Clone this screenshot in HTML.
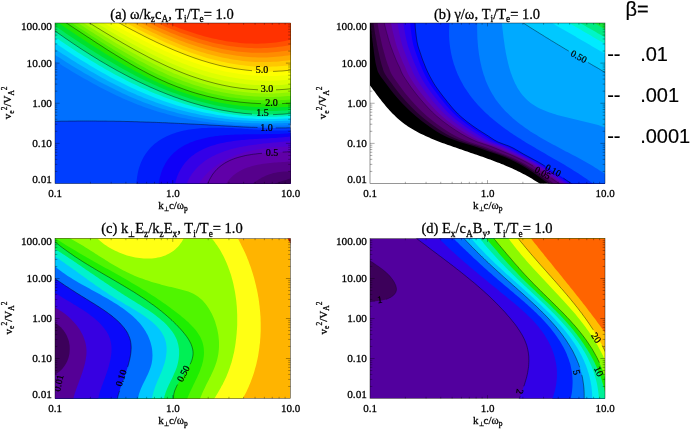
<!DOCTYPE html><html><head><meta charset="utf-8"><title>figure</title><style>html,body{margin:0;padding:0;background:#fff;overflow:hidden}svg{display:block}</style></head><body><svg width="690" height="430" viewBox="0 0 690 430" font-family="Liberation Serif, serif"><defs><clipPath id="ca"><rect x="55" y="23" width="235.5" height="160.5"/></clipPath><clipPath id="cb"><rect x="370" y="23" width="235" height="160.5"/></clipPath><clipPath id="cc"><rect x="55" y="238.5" width="235.5" height="160.0"/></clipPath><clipPath id="cd"><rect x="370" y="238.5" width="235" height="160.0"/></clipPath></defs><g clip-path="url(#ca)"><rect x="55" y="23" width="235.5" height="160.5" fill="#0070ff"/><path d="M45.0,121.6 L47.0,121.6 L49.0,121.5 L51.1,121.5 L53.1,121.4 L55.1,121.4 L57.2,121.3 L59.2,121.3 L61.2,121.2 L63.2,121.2 L65.3,121.2 L67.3,121.2 L69.3,121.1 L71.3,121.1 L73.4,121.1 L75.4,121.1 L77.4,121.0 L79.4,121.0 L81.5,121.0 L83.5,121.0 L85.5,121.0 L87.5,121.0 L89.6,121.0 L91.6,121.0 L93.6,121.0 L95.6,121.0 L97.7,121.1 L99.7,121.1 L101.7,121.1 L103.7,121.1 L105.8,121.1 L107.8,121.2 L109.8,121.2 L111.8,121.2 L113.9,121.2 L115.9,121.3 L117.9,121.3 L119.9,121.3 L122.0,121.4 L124.0,121.4 L126.0,121.5 L128.0,121.5 L130.1,121.6 L132.1,121.6 L134.1,121.7 L136.1,121.7 L138.2,121.8 L140.2,121.9 L142.2,121.9 L144.2,122.0 L146.3,122.1 L148.3,122.1 L150.3,122.2 L152.3,122.3 L154.4,122.3 L156.4,122.4 L158.4,122.5 L160.4,122.6 L162.4,122.7 L164.5,122.7 L166.5,122.8 L168.5,122.9 L170.5,123.0 L172.6,123.1 L174.6,123.2 L176.6,123.3 L178.6,123.4 L180.7,123.5 L182.7,123.6 L184.7,123.7 L186.7,123.8 L188.7,123.9 L190.8,124.0 L192.8,124.1 L194.8,124.2 L196.8,124.3 L198.9,124.4 L200.9,124.5 L202.9,124.6 L204.9,124.7 L206.9,124.8 L209.0,125.0 L211.0,125.1 L213.0,125.2 L215.0,125.3 L217.1,125.4 L219.1,125.5 L221.1,125.7 L223.1,125.8 L225.1,125.9 L227.2,126.0 L229.2,126.1 L231.2,126.2 L233.2,126.4 L235.2,126.5 L237.3,126.6 L239.3,126.7 L241.3,126.8 L243.3,126.9 L245.3,127.0 L247.4,127.1 L249.4,127.2 L251.4,127.3 L253.4,127.3 L255.5,127.4 L257.5,127.5 L259.5,127.6 L261.5,127.6 L263.5,127.7 L265.6,127.7 L267.6,127.8 L269.6,127.8 L271.6,127.8 L273.7,127.9 L275.7,127.9 L277.7,127.9 L279.7,127.9 L281.8,127.9 L283.8,127.9 L285.8,127.9 L287.8,127.8 L289.9,127.8 L291.9,127.7 L293.9,127.7 L295.9,127.6 L298.0,127.5 L300.0,127.4 L300.0,200.0 L45.0,200.0Z" fill="#003eff"/><path d="M136.2,195.0 L136.3,184.4 L136.5,181.8 L136.8,179.4 L137.1,177.0 L137.5,174.7 L137.9,172.4 L138.4,170.2 L139.0,168.1 L139.7,166.0 L140.4,164.1 L141.2,162.1 L142.0,160.3 L142.9,158.5 L143.8,156.8 L144.9,155.1 L145.9,153.5 L147.0,151.9 L148.2,150.4 L149.4,149.0 L150.7,147.6 L152.0,146.3 L153.3,145.1 L154.7,143.8 L156.2,142.7 L157.7,141.6 L159.2,140.5 L160.8,139.5 L162.4,138.6 L164.0,137.7 L165.7,136.8 L167.4,136.0 L169.1,135.2 L170.9,134.5 L172.7,133.8 L174.5,133.2 L176.3,132.6 L178.2,132.0 L180.1,131.5 L182.0,131.0 L184.0,130.6 L185.9,130.2 L187.9,129.8 L189.9,129.5 L191.9,129.2 L194.0,128.9 L196.0,128.7 L198.1,128.5 L200.2,128.3 L202.3,128.1 L204.4,128.0 L206.5,127.9 L208.6,127.8 L210.7,127.8 L212.9,127.7 L215.0,127.7 L217.1,127.7 L219.3,127.7 L221.5,127.8 L223.6,127.8 L225.8,127.9 L227.9,127.9 L230.1,128.0 L232.3,128.1 L234.4,128.2 L236.6,128.4 L238.7,128.5 L240.9,128.6 L243.0,128.7 L245.2,128.9 L247.3,129.0 L249.4,129.2 L251.5,129.3 L253.6,129.4 L255.7,129.6 L257.8,129.7 L259.8,129.8 L261.9,129.9 L263.9,130.1 L265.9,130.2 L267.9,130.3 L269.9,130.3 L271.8,130.4 L273.7,130.5 L275.6,130.5 L277.5,130.5 L279.4,130.5 L281.2,130.5 L283.0,130.5 L284.8,130.5 L286.6,130.4 L288.3,130.3 L290.0,130.2 L300.0,130.0 L300.0,195.0Z" fill="#001cfc"/><path d="M158.3,195.0 L158.6,184.0 L159.0,181.6 L159.4,179.2 L160.0,176.9 L160.6,174.7 L161.3,172.6 L162.0,170.6 L162.8,168.6 L163.7,166.7 L164.6,164.9 L165.6,163.1 L166.6,161.4 L167.7,159.8 L168.9,158.2 L170.1,156.7 L171.4,155.3 L172.7,153.9 L174.1,152.6 L175.5,151.4 L176.9,150.2 L178.4,149.1 L180.0,148.0 L181.6,147.0 L183.2,146.0 L184.9,145.1 L186.6,144.2 L188.4,143.4 L190.1,142.6 L192.0,141.9 L193.8,141.2 L195.7,140.5 L197.6,139.9 L199.5,139.4 L201.5,138.9 L203.5,138.4 L205.5,137.9 L207.5,137.5 L209.6,137.1 L211.7,136.8 L213.7,136.4 L215.9,136.1 L218.0,135.9 L220.1,135.6 L222.3,135.4 L224.4,135.2 L226.6,135.1 L228.8,134.9 L230.9,134.8 L233.1,134.7 L235.3,134.6 L237.5,134.5 L239.7,134.4 L241.9,134.4 L244.1,134.3 L246.2,134.3 L248.4,134.2 L250.6,134.2 L252.8,134.2 L254.9,134.2 L257.0,134.2 L259.2,134.2 L261.3,134.2 L263.4,134.2 L265.5,134.1 L267.5,134.1 L269.6,134.1 L271.6,134.1 L273.6,134.0 L275.5,134.0 L277.5,133.9 L279.4,133.9 L281.3,133.8 L283.1,133.7 L285.0,133.5 L286.8,133.4 L288.5,133.3 L290.2,133.1 L300.0,133.0 L300.0,195.0Z" fill="#0f00f8"/><path d="M174.6,195.0 L175.1,183.7 L175.6,181.4 L176.3,179.2 L177.0,177.1 L177.8,175.1 L178.6,173.1 L179.6,171.2 L180.5,169.4 L181.6,167.7 L182.7,166.0 L183.8,164.4 L185.1,162.8 L186.3,161.4 L187.7,160.0 L189.0,158.6 L190.5,157.3 L191.9,156.1 L193.5,155.0 L195.0,153.8 L196.6,152.8 L198.3,151.8 L200.0,150.8 L201.7,149.9 L203.5,149.1 L205.3,148.3 L207.1,147.5 L209.0,146.8 L210.8,146.1 L212.8,145.5 L214.7,144.9 L216.7,144.3 L218.7,143.8 L220.7,143.3 L222.7,142.9 L224.8,142.5 L226.9,142.1 L229.0,141.7 L231.1,141.4 L233.2,141.1 L235.3,140.8 L237.4,140.5 L239.6,140.3 L241.7,140.1 L243.9,139.9 L246.0,139.7 L248.2,139.5 L250.3,139.3 L252.5,139.2 L254.6,139.1 L256.7,138.9 L258.9,138.8 L261.0,138.7 L263.1,138.6 L265.2,138.5 L267.2,138.4 L269.3,138.2 L271.3,138.1 L273.4,138.0 L275.4,137.9 L277.3,137.8 L279.3,137.6 L281.2,137.5 L283.1,137.3 L285.0,137.1 L286.8,137.0 L288.6,136.8 L290.4,136.5 L300.0,136.5 L300.0,195.0Z" fill="#3400e8"/><path d="M186.2,195.0 L186.8,183.3 L187.7,181.4 L188.6,179.5 L189.6,177.6 L190.7,175.9 L191.8,174.1 L193.0,172.5 L194.2,170.9 L195.5,169.4 L196.8,167.9 L198.2,166.5 L199.6,165.2 L201.1,163.9 L202.6,162.7 L204.2,161.5 L205.8,160.3 L207.5,159.2 L209.1,158.2 L210.9,157.2 L212.6,156.3 L214.4,155.4 L216.3,154.5 L218.1,153.7 L220.0,152.9 L221.9,152.2 L223.8,151.5 L225.8,150.8 L227.8,150.2 L229.8,149.6 L231.8,149.0 L233.8,148.5 L235.9,148.0 L237.9,147.6 L240.0,147.1 L242.1,146.7 L244.2,146.3 L246.3,145.9 L248.4,145.6 L250.5,145.3 L252.6,144.9 L254.7,144.7 L256.8,144.4 L258.9,144.1 L261.0,143.9 L263.0,143.6 L265.1,143.4 L267.2,143.2 L269.2,143.0 L271.3,142.8 L273.3,142.6 L275.3,142.4 L277.3,142.3 L279.2,142.1 L281.2,141.9 L283.1,141.7 L285.0,141.5 L286.8,141.4 L288.6,141.2 L290.4,141.0 L300.0,141.0 L300.0,195.0Z" fill="#4e00d4"/><path d="M197.8,195.0 L198.8,183.6 L200.0,181.8 L201.3,180.1 L202.5,178.4 L203.9,176.8 L205.3,175.3 L206.7,173.8 L208.1,172.3 L209.6,170.9 L211.2,169.6 L212.7,168.3 L214.3,167.0 L216.0,165.8 L217.6,164.7 L219.3,163.5 L221.0,162.4 L222.8,161.4 L224.6,160.4 L226.4,159.5 L228.2,158.6 L230.1,157.7 L232.0,156.9 L233.9,156.1 L235.8,155.3 L237.7,154.6 L239.7,153.9 L241.6,153.3 L243.6,152.6 L245.6,152.1 L247.6,151.5 L249.7,151.0 L251.7,150.5 L253.7,150.1 L255.8,149.7 L257.8,149.3 L259.9,148.9 L261.9,148.6 L264.0,148.3 L266.1,148.0 L268.1,147.8 L270.2,147.5 L272.3,147.3 L274.3,147.2 L276.4,147.0 L278.4,146.9 L280.5,146.8 L282.5,146.7 L284.5,146.6 L286.5,146.6 L288.5,146.5 L290.5,146.5 L300.0,146.5 L300.0,195.0Z" fill="#5c00c0"/><path d="M206.9,195.0 L207.8,183.6 L208.7,181.5 L209.6,179.5 L210.7,177.6 L211.8,175.7 L212.9,174.0 L214.2,172.4 L215.5,170.8 L216.8,169.4 L218.3,168.0 L219.8,166.7 L221.3,165.5 L222.9,164.4 L224.5,163.3 L226.2,162.3 L228.0,161.4 L229.7,160.5 L231.6,159.7 L233.4,159.0 L235.3,158.3 L237.2,157.7 L239.2,157.1 L241.2,156.6 L243.2,156.1 L245.2,155.6 L247.3,155.2 L249.3,154.9 L251.4,154.5 L253.5,154.2 L255.6,154.0 L257.7,153.7 L259.8,153.5 L262.0,153.3 L264.1,153.2 L266.2,153.0 L268.3,152.9 L270.4,152.8 L272.5,152.6 L274.6,152.5 L276.6,152.4 L278.7,152.3 L280.7,152.2 L282.7,152.1 L284.6,152.0 L286.6,151.9 L288.5,151.7 L290.4,151.6 L300.0,151.6 L300.0,195.0Z" fill="#6000a8"/><path d="M225.3,195.0 L226.3,183.5 L227.5,181.7 L228.8,180.0 L230.2,178.4 L231.7,176.9 L233.2,175.5 L234.8,174.2 L236.5,173.0 L238.2,171.9 L239.9,170.9 L241.7,169.9 L243.6,169.1 L245.5,168.3 L247.4,167.5 L249.4,166.9 L251.4,166.3 L253.4,165.7 L255.5,165.2 L257.6,164.8 L259.7,164.4 L261.8,164.0 L263.9,163.7 L266.0,163.4 L268.1,163.2 L270.2,163.0 L272.4,162.8 L274.5,162.6 L276.6,162.5 L278.6,162.3 L280.7,162.2 L282.7,162.0 L284.7,161.9 L286.7,161.8 L288.6,161.6 L290.5,161.5 L300.0,161.5 L300.0,195.0Z" fill="#56008c"/><path d="M252.0,195.0 L253.0,183.5 L254.7,182.2 L256.5,180.9 L258.3,179.8 L260.1,178.7 L261.9,177.6 L263.8,176.7 L265.7,175.8 L267.6,175.0 L269.6,174.3 L271.5,173.7 L273.5,173.1 L275.6,172.7 L277.6,172.2 L279.7,171.9 L281.8,171.7 L283.9,171.5 L286.1,171.4 L288.3,171.4 L290.5,171.4 L300.0,171.4 L300.0,195.0Z" fill="#480070"/><path d="M274.0,195.0 L275.0,183.5 L277.2,182.8 L279.4,182.0 L281.6,181.3 L283.9,180.6 L286.1,179.9 L288.3,179.1 L290.5,178.4 L300.0,178.4 L300.0,195.0Z" fill="#370055"/><path d="M45.0,54.5 L48.0,56.4 L51.0,58.4 L54.0,60.3 L57.0,62.2 L60.0,64.1 L63.0,65.9 L66.0,67.8 L69.0,69.6 L72.0,71.4 L75.0,73.2 L78.0,75.0 L81.0,76.7 L84.0,78.4 L87.0,80.1 L90.0,81.8 L93.0,83.5 L96.0,85.1 L99.0,86.7 L102.0,88.2 L105.0,89.8 L108.0,91.3 L111.0,92.8 L114.0,94.2 L117.0,95.7 L120.0,97.0 L123.0,98.4 L126.0,99.7 L129.0,101.0 L132.0,102.3 L135.0,103.5 L138.0,104.7 L141.0,105.8 L144.0,106.9 L147.0,108.0 L150.0,109.0 L153.0,110.0 L156.0,111.0 L159.0,111.9 L162.0,112.8 L165.0,113.6 L168.0,114.5 L171.0,115.2 L174.0,116.0 L177.0,116.7 L180.0,117.4 L183.0,118.0 L186.0,118.6 L189.0,119.2 L192.0,119.8 L195.0,120.3 L198.0,120.8 L201.0,121.2 L204.0,121.7 L207.0,122.1 L210.0,122.5 L213.0,122.8 L216.0,123.2 L219.0,123.5 L222.0,123.8 L225.0,124.0 L228.0,124.3 L231.0,124.5 L234.0,124.7 L237.0,124.9 L240.0,125.0 L243.0,125.2 L246.0,125.3 L249.0,125.4 L252.0,125.5 L255.0,125.5 L258.0,125.6 L261.0,125.6 L264.0,125.6 L267.0,125.6 L270.0,125.6 L273.0,125.6 L276.0,125.5 L279.0,125.5 L282.0,125.4 L285.0,125.4 L288.0,125.3 L291.0,125.2 L294.0,125.1 L297.0,125.0 L300.0,124.8 L300.0,-60.0 L45.0,-60.0Z" fill="#0087ff"/><path d="M45.0,48.3 L48.0,50.3 L51.0,52.3 L54.0,54.3 L57.0,56.2 L60.0,58.1 L63.0,60.1 L66.0,62.0 L69.0,63.8 L72.0,65.7 L75.0,67.5 L78.0,69.3 L81.0,71.1 L84.0,72.9 L87.0,74.6 L90.0,76.3 L93.0,78.0 L96.0,79.7 L99.0,81.4 L102.0,83.0 L105.0,84.6 L108.0,86.1 L111.0,87.6 L114.0,89.1 L117.0,90.6 L120.0,92.1 L123.0,93.5 L126.0,94.8 L129.0,96.2 L132.0,97.5 L135.0,98.8 L138.0,100.0 L141.0,101.2 L144.0,102.4 L147.0,103.5 L150.0,104.6 L153.0,105.7 L156.0,106.7 L159.0,107.7 L162.0,108.7 L165.0,109.6 L168.0,110.5 L171.0,111.3 L174.0,112.1 L177.0,112.9 L180.0,113.7 L183.0,114.4 L186.0,115.1 L189.0,115.7 L192.0,116.4 L195.0,117.0 L198.0,117.5 L201.0,118.1 L204.0,118.6 L207.0,119.1 L210.0,119.5 L213.0,119.9 L216.0,120.3 L219.0,120.7 L222.0,121.1 L225.0,121.4 L228.0,121.7 L231.0,121.9 L234.0,122.2 L237.0,122.4 L240.0,122.6 L243.0,122.8 L246.0,122.9 L249.0,123.1 L252.0,123.2 L255.0,123.3 L258.0,123.3 L261.0,123.4 L264.0,123.4 L267.0,123.4 L270.0,123.4 L273.0,123.4 L276.0,123.3 L279.0,123.3 L282.0,123.2 L285.0,123.1 L288.0,123.0 L291.0,122.8 L294.0,122.7 L297.0,122.5 L300.0,122.4 L300.0,-60.0 L45.0,-60.0Z" fill="#00a5ff"/><path d="M45.0,42.2 L48.0,44.2 L51.0,46.2 L54.0,48.3 L57.0,50.3 L60.0,52.2 L63.0,54.2 L66.0,56.1 L69.0,58.1 L72.0,60.0 L75.0,61.8 L78.0,63.7 L81.0,65.5 L84.0,67.3 L87.0,69.1 L90.0,70.9 L93.0,72.6 L96.0,74.3 L99.0,76.0 L102.0,77.7 L105.0,79.3 L108.0,80.9 L111.0,82.5 L114.0,84.1 L117.0,85.6 L120.0,87.1 L123.0,88.5 L126.0,90.0 L129.0,91.4 L132.0,92.7 L135.0,94.1 L138.0,95.4 L141.0,96.6 L144.0,97.9 L147.0,99.1 L150.0,100.2 L153.0,101.3 L156.0,102.4 L159.0,103.5 L162.0,104.5 L165.0,105.5 L168.0,106.5 L171.0,107.4 L174.0,108.3 L177.0,109.2 L180.0,110.0 L183.0,110.8 L186.0,111.5 L189.0,112.3 L192.0,113.0 L195.0,113.6 L198.0,114.3 L201.0,114.9 L204.0,115.5 L207.0,116.0 L210.0,116.5 L213.0,117.0 L216.0,117.5 L219.0,117.9 L222.0,118.3 L225.0,118.7 L228.0,119.1 L231.0,119.4 L234.0,119.7 L237.0,120.0 L240.0,120.2 L243.0,120.4 L246.0,120.6 L249.0,120.8 L252.0,120.9 L255.0,121.0 L258.0,121.1 L261.0,121.2 L264.0,121.2 L267.0,121.2 L270.0,121.2 L273.0,121.2 L276.0,121.1 L279.0,121.0 L282.0,120.9 L285.0,120.8 L288.0,120.7 L291.0,120.5 L294.0,120.3 L297.0,120.1 L300.0,119.9 L300.0,-60.0 L45.0,-60.0Z" fill="#00c8ff"/><path d="M45.0,36.0 L48.0,38.1 L51.0,40.2 L54.0,42.2 L57.0,44.3 L60.0,46.3 L63.0,48.3 L66.0,50.3 L69.0,52.3 L72.0,54.2 L75.0,56.2 L78.0,58.1 L81.0,59.9 L84.0,61.8 L87.0,63.6 L90.0,65.4 L93.0,67.2 L96.0,69.0 L99.0,70.7 L102.0,72.4 L105.0,74.1 L108.0,75.7 L111.0,77.4 L114.0,79.0 L117.0,80.5 L120.0,82.1 L123.0,83.6 L126.0,85.1 L129.0,86.5 L132.0,87.9 L135.0,89.3 L138.0,90.7 L141.0,92.0 L144.0,93.3 L147.0,94.6 L150.0,95.8 L153.0,97.0 L156.0,98.2 L159.0,99.3 L162.0,100.4 L165.0,101.5 L168.0,102.5 L171.0,103.5 L174.0,104.4 L177.0,105.4 L180.0,106.3 L183.0,107.2 L186.0,108.0 L189.0,108.8 L192.0,109.6 L195.0,110.3 L198.0,111.0 L201.0,111.7 L204.0,112.4 L207.0,113.0 L210.0,113.6 L213.0,114.1 L216.0,114.7 L219.0,115.2 L222.0,115.6 L225.0,116.1 L228.0,116.5 L231.0,116.8 L234.0,117.2 L237.0,117.5 L240.0,117.8 L243.0,118.0 L246.0,118.3 L249.0,118.5 L252.0,118.6 L255.0,118.8 L258.0,118.9 L261.0,118.9 L264.0,119.0 L267.0,119.0 L270.0,119.0 L273.0,119.0 L276.0,118.9 L279.0,118.8 L282.0,118.7 L285.0,118.5 L288.0,118.4 L291.0,118.1 L294.0,117.9 L297.0,117.6 L300.0,117.4 L300.0,-60.0 L45.0,-60.0Z" fill="#00f0f5"/><path d="M45.0,29.8 L48.0,32.0 L51.0,34.1 L54.0,36.2 L57.0,38.3 L60.0,40.4 L63.0,42.5 L66.0,44.5 L69.0,46.5 L72.0,48.5 L75.0,50.5 L78.0,52.4 L81.0,54.3 L84.0,56.2 L87.0,58.1 L90.0,60.0 L93.0,61.8 L96.0,63.6 L99.0,65.4 L102.0,67.1 L105.0,68.9 L108.0,70.6 L111.0,72.2 L114.0,73.9 L117.0,75.5 L120.0,77.1 L123.0,78.6 L126.0,80.2 L129.0,81.7 L132.0,83.2 L135.0,84.6 L138.0,86.0 L141.0,87.4 L144.0,88.8 L147.0,90.1 L150.0,91.4 L153.0,92.7 L156.0,93.9 L159.0,95.1 L162.0,96.3 L165.0,97.4 L168.0,98.5 L171.0,99.6 L174.0,100.6 L177.0,101.6 L180.0,102.6 L183.0,103.5 L186.0,104.5 L189.0,105.3 L192.0,106.2 L195.0,107.0 L198.0,107.8 L201.0,108.5 L204.0,109.3 L207.0,110.0 L210.0,110.6 L213.0,111.2 L216.0,111.8 L219.0,112.4 L222.0,112.9 L225.0,113.4 L228.0,113.9 L231.0,114.3 L234.0,114.7 L237.0,115.0 L240.0,115.4 L243.0,115.7 L246.0,115.9 L249.0,116.1 L252.0,116.3 L255.0,116.5 L258.0,116.6 L261.0,116.7 L264.0,116.8 L267.0,116.8 L270.0,116.8 L273.0,116.8 L276.0,116.7 L279.0,116.6 L282.0,116.4 L285.0,116.3 L288.0,116.0 L291.0,115.8 L294.0,115.5 L297.0,115.2 L300.0,114.9 L300.0,-60.0 L45.0,-60.0Z" fill="#00f0af"/><path d="M45.0,23.6 L48.0,25.8 L51.0,28.0 L54.0,30.2 L57.0,32.4 L60.0,34.5 L63.0,36.6 L66.0,38.7 L69.0,40.7 L72.0,42.8 L75.0,44.8 L78.0,46.8 L81.0,48.8 L84.0,50.7 L87.0,52.6 L90.0,54.5 L93.0,56.4 L96.0,58.2 L99.0,60.1 L102.0,61.9 L105.0,63.6 L108.0,65.4 L111.0,67.1 L114.0,68.8 L117.0,70.5 L120.0,72.1 L123.0,73.7 L126.0,75.3 L129.0,76.9 L132.0,78.4 L135.0,79.9 L138.0,81.4 L141.0,82.8 L144.0,84.2 L147.0,85.6 L150.0,87.0 L153.0,88.3 L156.0,89.6 L159.0,90.9 L162.0,92.1 L165.0,93.3 L168.0,94.5 L171.0,95.6 L174.0,96.8 L177.0,97.8 L180.0,98.9 L183.0,99.9 L186.0,100.9 L189.0,101.9 L192.0,102.8 L195.0,103.7 L198.0,104.5 L201.0,105.4 L204.0,106.2 L207.0,106.9 L210.0,107.6 L213.0,108.3 L216.0,109.0 L219.0,109.6 L222.0,110.2 L225.0,110.7 L228.0,111.2 L231.0,111.7 L234.0,112.2 L237.0,112.6 L240.0,112.9 L243.0,113.3 L246.0,113.6 L249.0,113.8 L252.0,114.1 L255.0,114.2 L258.0,114.4 L261.0,114.5 L264.0,114.6 L267.0,114.6 L270.0,114.6 L273.0,114.6 L276.0,114.5 L279.0,114.3 L282.0,114.2 L285.0,114.0 L288.0,113.7 L291.0,113.5 L294.0,113.1 L297.0,112.8 L300.0,112.4 L300.0,-60.0 L45.0,-60.0Z" fill="#00e664"/><path d="M45.0,18.8 L48.0,20.9 L51.0,23.0 L54.0,25.1 L57.0,27.2 L60.0,29.3 L63.0,31.3 L66.0,33.4 L69.0,35.4 L72.0,37.4 L75.0,39.4 L78.0,41.4 L81.0,43.4 L84.0,45.3 L87.0,47.3 L90.0,49.2 L93.0,51.1 L96.0,53.0 L99.0,54.8 L102.0,56.7 L105.0,58.5 L108.0,60.3 L111.0,62.1 L114.0,63.8 L117.0,65.6 L120.0,67.3 L123.0,69.0 L126.0,70.6 L129.0,72.2 L132.0,73.8 L135.0,75.4 L138.0,77.0 L141.0,78.5 L144.0,80.0 L147.0,81.4 L150.0,82.8 L153.0,84.2 L156.0,85.6 L159.0,86.9 L162.0,88.2 L165.0,89.5 L168.0,90.7 L171.0,91.9 L174.0,93.0 L177.0,94.1 L180.0,95.2 L183.0,96.3 L186.0,97.3 L189.0,98.2 L192.0,99.2 L195.0,100.1 L198.0,101.0 L201.0,101.8 L204.0,102.6 L207.0,103.3 L210.0,104.1 L213.0,104.7 L216.0,105.4 L219.0,106.0 L222.0,106.6 L225.0,107.1 L228.0,107.7 L231.0,108.1 L234.0,108.6 L237.0,109.0 L240.0,109.3 L243.0,109.7 L246.0,109.9 L249.0,110.2 L252.0,110.4 L255.0,110.6 L258.0,110.8 L261.0,110.9 L264.0,110.9 L267.0,111.0 L270.0,111.0 L273.0,111.0 L276.0,110.9 L279.0,110.8 L282.0,110.6 L285.0,110.5 L288.0,110.3 L291.0,110.0 L294.0,109.7 L297.0,109.4 L300.0,109.0 L300.0,-60.0 L45.0,-60.0Z" fill="#00e12d"/><path d="M45.0,14.0 L48.0,16.0 L51.0,18.0 L54.0,20.0 L57.0,22.0 L60.0,24.0 L63.0,26.0 L66.0,28.1 L69.0,30.1 L72.0,32.0 L75.0,34.0 L78.0,36.0 L81.0,38.0 L84.0,40.0 L87.0,41.9 L90.0,43.9 L93.0,45.8 L96.0,47.7 L99.0,49.6 L102.0,51.5 L105.0,53.4 L108.0,55.2 L111.0,57.1 L114.0,58.9 L117.0,60.7 L120.0,62.5 L123.0,64.2 L126.0,65.9 L129.0,67.6 L132.0,69.3 L135.0,70.9 L138.0,72.6 L141.0,74.1 L144.0,75.7 L147.0,77.2 L150.0,78.7 L153.0,80.2 L156.0,81.6 L159.0,83.0 L162.0,84.3 L165.0,85.6 L168.0,86.9 L171.0,88.1 L174.0,89.3 L177.0,90.4 L180.0,91.5 L183.0,92.6 L186.0,93.6 L189.0,94.6 L192.0,95.6 L195.0,96.5 L198.0,97.4 L201.0,98.2 L204.0,99.0 L207.0,99.8 L210.0,100.5 L213.0,101.2 L216.0,101.8 L219.0,102.4 L222.0,103.0 L225.0,103.6 L228.0,104.1 L231.0,104.5 L234.0,105.0 L237.0,105.3 L240.0,105.7 L243.0,106.0 L246.0,106.3 L249.0,106.6 L252.0,106.8 L255.0,107.0 L258.0,107.1 L261.0,107.2 L264.0,107.3 L267.0,107.4 L270.0,107.4 L273.0,107.4 L276.0,107.3 L279.0,107.2 L282.0,107.1 L285.0,106.9 L288.0,106.8 L291.0,106.5 L294.0,106.3 L297.0,106.0 L300.0,105.7 L300.0,-60.0 L45.0,-60.0Z" fill="#23e600"/><path d="M45.0,9.2 L48.0,11.1 L51.0,13.0 L54.0,14.9 L57.0,16.9 L60.0,18.8 L63.0,20.8 L66.0,22.7 L69.0,24.7 L72.0,26.7 L75.0,28.7 L78.0,30.6 L81.0,32.6 L84.0,34.6 L87.0,36.6 L90.0,38.5 L93.0,40.5 L96.0,42.5 L99.0,44.4 L102.0,46.3 L105.0,48.3 L108.0,50.2 L111.0,52.1 L114.0,53.9 L117.0,55.8 L120.0,57.6 L123.0,59.4 L126.0,61.2 L129.0,63.0 L132.0,64.8 L135.0,66.5 L138.0,68.2 L141.0,69.8 L144.0,71.4 L147.0,73.0 L150.0,74.6 L153.0,76.1 L156.0,77.6 L159.0,79.0 L162.0,80.4 L165.0,81.7 L168.0,83.1 L171.0,84.3 L174.0,85.5 L177.0,86.7 L180.0,87.8 L183.0,88.9 L186.0,90.0 L189.0,91.0 L192.0,92.0 L195.0,92.9 L198.0,93.8 L201.0,94.6 L204.0,95.4 L207.0,96.2 L210.0,96.9 L213.0,97.6 L216.0,98.2 L219.0,98.9 L222.0,99.4 L225.0,100.0 L228.0,100.5 L231.0,100.9 L234.0,101.3 L237.0,101.7 L240.0,102.1 L243.0,102.4 L246.0,102.7 L249.0,102.9 L252.0,103.2 L255.0,103.3 L258.0,103.5 L261.0,103.6 L264.0,103.7 L267.0,103.8 L270.0,103.8 L273.0,103.8 L276.0,103.7 L279.0,103.7 L282.0,103.6 L285.0,103.4 L288.0,103.3 L291.0,103.1 L294.0,102.9 L297.0,102.6 L300.0,102.4 L300.0,-60.0 L45.0,-60.0Z" fill="#46eb00"/><path d="M45.0,5.7 L48.0,7.6 L51.0,9.5 L54.0,11.4 L57.0,13.3 L60.0,15.2 L63.0,17.2 L66.0,19.1 L69.0,21.0 L72.0,23.0 L75.0,25.0 L78.0,26.9 L81.0,28.9 L84.0,30.8 L87.0,32.8 L90.0,34.7 L93.0,36.7 L96.0,38.6 L99.0,40.5 L102.0,42.4 L105.0,44.3 L108.0,46.2 L111.0,48.1 L114.0,49.9 L117.0,51.8 L120.0,53.6 L123.0,55.4 L126.0,57.2 L129.0,58.9 L132.0,60.6 L135.0,62.3 L138.0,64.0 L141.0,65.7 L144.0,67.3 L147.0,68.9 L150.0,70.4 L153.0,71.9 L156.0,73.4 L159.0,74.9 L162.0,76.3 L165.0,77.6 L168.0,79.0 L171.0,80.2 L174.0,81.5 L177.0,82.7 L180.0,83.8 L183.0,85.0 L186.0,86.0 L189.0,87.1 L192.0,88.1 L195.0,89.0 L198.0,89.9 L201.0,90.8 L204.0,91.6 L207.0,92.4 L210.0,93.2 L213.0,93.9 L216.0,94.6 L219.0,95.2 L222.0,95.8 L225.0,96.4 L228.0,96.9 L231.0,97.4 L234.0,97.8 L237.0,98.2 L240.0,98.6 L243.0,98.9 L246.0,99.2 L249.0,99.5 L252.0,99.7 L255.0,99.9 L258.0,100.1 L261.0,100.2 L264.0,100.3 L267.0,100.3 L270.0,100.3 L273.0,100.3 L276.0,100.3 L279.0,100.2 L282.0,100.0 L285.0,99.9 L288.0,99.7 L291.0,99.5 L294.0,99.2 L297.0,98.9 L300.0,98.6 L300.0,-60.0 L45.0,-60.0Z" fill="#69f000"/><path d="M45.0,2.1 L48.0,4.0 L51.0,5.9 L54.0,7.8 L57.0,9.7 L60.0,11.6 L63.0,13.5 L66.0,15.5 L69.0,17.4 L72.0,19.3 L75.0,21.3 L78.0,23.2 L81.0,25.1 L84.0,27.1 L87.0,29.0 L90.0,30.9 L93.0,32.8 L96.0,34.7 L99.0,36.6 L102.0,38.5 L105.0,40.4 L108.0,42.2 L111.0,44.1 L114.0,45.9 L117.0,47.7 L120.0,49.5 L123.0,51.3 L126.0,53.1 L129.0,54.8 L132.0,56.5 L135.0,58.2 L138.0,59.9 L141.0,61.5 L144.0,63.1 L147.0,64.7 L150.0,66.3 L153.0,67.8 L156.0,69.3 L159.0,70.7 L162.0,72.1 L165.0,73.5 L168.0,74.9 L171.0,76.2 L174.0,77.4 L177.0,78.6 L180.0,79.8 L183.0,81.0 L186.0,82.1 L189.0,83.1 L192.0,84.2 L195.0,85.2 L198.0,86.1 L201.0,87.0 L204.0,87.9 L207.0,88.7 L210.0,89.5 L213.0,90.2 L216.0,90.9 L219.0,91.6 L222.0,92.2 L225.0,92.8 L228.0,93.3 L231.0,93.8 L234.0,94.3 L237.0,94.7 L240.0,95.1 L243.0,95.5 L246.0,95.8 L249.0,96.1 L252.0,96.3 L255.0,96.5 L258.0,96.6 L261.0,96.8 L264.0,96.8 L267.0,96.9 L270.0,96.9 L273.0,96.9 L276.0,96.8 L279.0,96.7 L282.0,96.5 L285.0,96.3 L288.0,96.1 L291.0,95.9 L294.0,95.6 L297.0,95.2 L300.0,94.9 L300.0,-60.0 L45.0,-60.0Z" fill="#8cf500"/><path d="M45.0,-1.4 L48.0,0.5 L51.0,2.3 L54.0,4.2 L57.0,6.1 L60.0,8.0 L63.0,9.9 L66.0,11.8 L69.0,13.7 L72.0,15.6 L75.0,17.6 L78.0,19.5 L81.0,21.4 L84.0,23.3 L87.0,25.2 L90.0,27.1 L93.0,29.0 L96.0,30.8 L99.0,32.7 L102.0,34.6 L105.0,36.4 L108.0,38.3 L111.0,40.1 L114.0,41.9 L117.0,43.7 L120.0,45.5 L123.0,47.2 L126.0,49.0 L129.0,50.7 L132.0,52.4 L135.0,54.1 L138.0,55.7 L141.0,57.4 L144.0,59.0 L147.0,60.6 L150.0,62.1 L153.0,63.6 L156.0,65.1 L159.0,66.6 L162.0,68.0 L165.0,69.4 L168.0,70.8 L171.0,72.1 L174.0,73.4 L177.0,74.6 L180.0,75.8 L183.0,77.0 L186.0,78.1 L189.0,79.2 L192.0,80.3 L195.0,81.3 L198.0,82.3 L201.0,83.2 L204.0,84.1 L207.0,84.9 L210.0,85.8 L213.0,86.5 L216.0,87.3 L219.0,87.9 L222.0,88.6 L225.0,89.2 L228.0,89.8 L231.0,90.3 L234.0,90.8 L237.0,91.2 L240.0,91.6 L243.0,92.0 L246.0,92.3 L249.0,92.6 L252.0,92.9 L255.0,93.1 L258.0,93.2 L261.0,93.3 L264.0,93.4 L267.0,93.4 L270.0,93.4 L273.0,93.4 L276.0,93.3 L279.0,93.2 L282.0,93.0 L285.0,92.8 L288.0,92.5 L291.0,92.3 L294.0,91.9 L297.0,91.5 L300.0,91.1 L300.0,-60.0 L45.0,-60.0Z" fill="#aafa00"/><path d="M45.0,-4.9 L48.0,-3.1 L51.0,-1.2 L54.0,0.7 L57.0,2.5 L60.0,4.4 L63.0,6.3 L66.0,8.2 L69.0,10.1 L72.0,12.0 L75.0,13.9 L78.0,15.7 L81.0,17.6 L84.0,19.5 L87.0,21.4 L90.0,23.3 L93.0,25.1 L96.0,27.0 L99.0,28.8 L102.0,30.7 L105.0,32.5 L108.0,34.3 L111.0,36.1 L114.0,37.9 L117.0,39.7 L120.0,41.4 L123.0,43.2 L126.0,44.9 L129.0,46.6 L132.0,48.3 L135.0,50.0 L138.0,51.6 L141.0,53.2 L144.0,54.8 L147.0,56.4 L150.0,58.0 L153.0,59.5 L156.0,61.0 L159.0,62.4 L162.0,63.9 L165.0,65.3 L168.0,66.7 L171.0,68.0 L174.0,69.3 L177.0,70.6 L180.0,71.8 L183.0,73.0 L186.0,74.2 L189.0,75.3 L192.0,76.4 L195.0,77.4 L198.0,78.4 L201.0,79.4 L204.0,80.3 L207.0,81.2 L210.0,82.0 L213.0,82.8 L216.0,83.6 L219.0,84.3 L222.0,85.0 L225.0,85.6 L228.0,86.2 L231.0,86.8 L234.0,87.3 L237.0,87.7 L240.0,88.2 L243.0,88.5 L246.0,88.9 L249.0,89.2 L252.0,89.4 L255.0,89.6 L258.0,89.8 L261.0,89.9 L264.0,90.0 L267.0,90.0 L270.0,90.0 L273.0,89.9 L276.0,89.8 L279.0,89.7 L282.0,89.5 L285.0,89.3 L288.0,89.0 L291.0,88.6 L294.0,88.3 L297.0,87.9 L300.0,87.4 L300.0,-60.0 L45.0,-60.0Z" fill="#c3fc00"/><path d="M45.0,-8.4 L48.0,-6.6 L51.0,-4.8 L54.0,-2.9 L57.0,-1.1 L60.0,0.7 L63.0,2.5 L66.0,4.4 L69.0,6.2 L72.0,8.1 L75.0,9.9 L78.0,11.7 L81.0,13.6 L84.0,15.4 L87.0,17.3 L90.0,19.1 L93.0,20.9 L96.0,22.7 L99.0,24.5 L102.0,26.3 L105.0,28.1 L108.0,29.9 L111.0,31.7 L114.0,33.5 L117.0,35.2 L120.0,36.9 L123.0,38.6 L126.0,40.3 L129.0,42.0 L132.0,43.7 L135.0,45.3 L138.0,47.0 L141.0,48.6 L144.0,50.1 L147.0,51.7 L150.0,53.2 L153.0,54.7 L156.0,56.2 L159.0,57.7 L162.0,59.1 L165.0,60.5 L168.0,61.9 L171.0,63.2 L174.0,64.5 L177.0,65.8 L180.0,67.0 L183.0,68.2 L186.0,69.4 L189.0,70.5 L192.0,71.6 L195.0,72.6 L198.0,73.6 L201.0,74.6 L204.0,75.5 L207.0,76.4 L210.0,77.3 L213.0,78.1 L216.0,78.8 L219.0,79.5 L222.0,80.2 L225.0,80.9 L228.0,81.5 L231.0,82.0 L234.0,82.5 L237.0,83.0 L240.0,83.4 L243.0,83.8 L246.0,84.2 L249.0,84.5 L252.0,84.7 L255.0,85.0 L258.0,85.1 L261.0,85.2 L264.0,85.3 L267.0,85.4 L270.0,85.4 L273.0,85.3 L276.0,85.2 L279.0,85.1 L282.0,84.9 L285.0,84.6 L288.0,84.3 L291.0,84.0 L294.0,83.6 L297.0,83.2 L300.0,82.7 L300.0,-60.0 L45.0,-60.0Z" fill="#dcff00"/><path d="M45.0,-11.8 L48.0,-10.0 L51.0,-8.3 L54.0,-6.5 L57.0,-4.8 L60.0,-3.0 L63.0,-1.2 L66.0,0.6 L69.0,2.4 L72.0,4.2 L75.0,6.0 L78.0,7.8 L81.0,9.5 L84.0,11.3 L87.0,13.1 L90.0,14.9 L93.0,16.7 L96.0,18.5 L99.0,20.3 L102.0,22.0 L105.0,23.8 L108.0,25.5 L111.0,27.3 L114.0,29.0 L117.0,30.7 L120.0,32.4 L123.0,34.1 L126.0,35.8 L129.0,37.4 L132.0,39.1 L135.0,40.7 L138.0,42.3 L141.0,43.9 L144.0,45.4 L147.0,47.0 L150.0,48.5 L153.0,50.0 L156.0,51.5 L159.0,52.9 L162.0,54.3 L165.0,55.7 L168.0,57.1 L171.0,58.4 L174.0,59.7 L177.0,60.9 L180.0,62.2 L183.0,63.4 L186.0,64.5 L189.0,65.7 L192.0,66.8 L195.0,67.8 L198.0,68.8 L201.0,69.8 L204.0,70.7 L207.0,71.6 L210.0,72.5 L213.0,73.3 L216.0,74.1 L219.0,74.8 L222.0,75.5 L225.0,76.1 L228.0,76.7 L231.0,77.3 L234.0,77.8 L237.0,78.3 L240.0,78.7 L243.0,79.1 L246.0,79.5 L249.0,79.8 L252.0,80.1 L255.0,80.3 L258.0,80.5 L261.0,80.6 L264.0,80.7 L267.0,80.7 L270.0,80.7 L273.0,80.7 L276.0,80.6 L279.0,80.4 L282.0,80.2 L285.0,80.0 L288.0,79.7 L291.0,79.4 L294.0,79.0 L297.0,78.6 L300.0,78.1 L300.0,-60.0 L45.0,-60.0Z" fill="#f0ff00"/><path d="M45.0,-15.2 L48.0,-13.5 L51.0,-11.8 L54.0,-10.1 L57.0,-8.4 L60.0,-6.7 L63.0,-5.0 L66.0,-3.2 L69.0,-1.5 L72.0,0.3 L75.0,2.0 L78.0,3.8 L81.0,5.5 L84.0,7.3 L87.0,9.0 L90.0,10.8 L93.0,12.5 L96.0,14.2 L99.0,16.0 L102.0,17.7 L105.0,19.4 L108.0,21.1 L111.0,22.9 L114.0,24.5 L117.0,26.2 L120.0,27.9 L123.0,29.6 L126.0,31.2 L129.0,32.8 L132.0,34.5 L135.0,36.1 L138.0,37.6 L141.0,39.2 L144.0,40.8 L147.0,42.3 L150.0,43.8 L153.0,45.3 L156.0,46.7 L159.0,48.1 L162.0,49.5 L165.0,50.9 L168.0,52.3 L171.0,53.6 L174.0,54.9 L177.0,56.1 L180.0,57.4 L183.0,58.6 L186.0,59.7 L189.0,60.8 L192.0,61.9 L195.0,63.0 L198.0,64.0 L201.0,65.0 L204.0,65.9 L207.0,66.8 L210.0,67.7 L213.0,68.5 L216.0,69.3 L219.0,70.0 L222.0,70.7 L225.0,71.4 L228.0,72.0 L231.0,72.6 L234.0,73.1 L237.0,73.6 L240.0,74.0 L243.0,74.4 L246.0,74.8 L249.0,75.1 L252.0,75.4 L255.0,75.6 L258.0,75.8 L261.0,75.9 L264.0,76.0 L267.0,76.1 L270.0,76.1 L273.0,76.0 L276.0,75.9 L279.0,75.8 L282.0,75.6 L285.0,75.4 L288.0,75.1 L291.0,74.7 L294.0,74.3 L297.0,73.9 L300.0,73.4 L300.0,-60.0 L45.0,-60.0Z" fill="#ffff00"/><path d="M45.0,-18.6 L48.0,-17.0 L51.0,-15.4 L54.0,-13.7 L57.0,-12.1 L60.0,-10.4 L63.0,-8.7 L66.0,-7.0 L69.0,-5.3 L72.0,-3.6 L75.0,-1.9 L78.0,-0.2 L81.0,1.5 L84.0,3.2 L87.0,4.9 L90.0,6.6 L93.0,8.3 L96.0,10.0 L99.0,11.7 L102.0,13.4 L105.0,15.1 L108.0,16.8 L111.0,18.4 L114.0,20.1 L117.0,21.8 L120.0,23.4 L123.0,25.0 L126.0,26.7 L129.0,28.3 L132.0,29.9 L135.0,31.4 L138.0,33.0 L141.0,34.5 L144.0,36.1 L147.0,37.6 L150.0,39.1 L153.0,40.5 L156.0,42.0 L159.0,43.4 L162.0,44.8 L165.0,46.1 L168.0,47.5 L171.0,48.8 L174.0,50.1 L177.0,51.3 L180.0,52.5 L183.0,53.7 L186.0,54.9 L189.0,56.0 L192.0,57.1 L195.0,58.2 L198.0,59.2 L201.0,60.2 L204.0,61.1 L207.0,62.0 L210.0,62.9 L213.0,63.7 L216.0,64.5 L219.0,65.3 L222.0,66.0 L225.0,66.6 L228.0,67.3 L231.0,67.8 L234.0,68.4 L237.0,68.9 L240.0,69.3 L243.0,69.7 L246.0,70.1 L249.0,70.4 L252.0,70.7 L255.0,70.9 L258.0,71.1 L261.0,71.3 L264.0,71.4 L267.0,71.4 L270.0,71.4 L273.0,71.4 L276.0,71.3 L279.0,71.1 L282.0,71.0 L285.0,70.7 L288.0,70.4 L291.0,70.1 L294.0,69.7 L297.0,69.3 L300.0,68.8 L300.0,-60.0 L45.0,-60.0Z" fill="#ffe600"/><path d="M45.0,-22.2 L48.0,-20.6 L51.0,-19.0 L54.0,-17.3 L57.0,-15.7 L60.0,-14.0 L63.0,-12.3 L66.0,-10.6 L69.0,-9.0 L72.0,-7.3 L75.0,-5.6 L78.0,-3.9 L81.0,-2.2 L84.0,-0.5 L87.0,1.2 L90.0,2.9 L93.0,4.6 L96.0,6.3 L99.0,8.0 L102.0,9.7 L105.0,11.4 L108.0,13.1 L111.0,14.7 L114.0,16.4 L117.0,18.0 L120.0,19.7 L123.0,21.3 L126.0,22.9 L129.0,24.5 L132.0,26.1 L135.0,27.6 L138.0,29.2 L141.0,30.7 L144.0,32.2 L147.0,33.7 L150.0,35.2 L153.0,36.6 L156.0,38.1 L159.0,39.5 L162.0,40.8 L165.0,42.2 L168.0,43.5 L171.0,44.8 L174.0,46.1 L177.0,47.3 L180.0,48.5 L183.0,49.7 L186.0,50.8 L189.0,52.0 L192.0,53.0 L195.0,54.1 L198.0,55.1 L201.0,56.0 L204.0,57.0 L207.0,57.9 L210.0,58.7 L213.0,59.5 L216.0,60.3 L219.0,61.0 L222.0,61.7 L225.0,62.3 L228.0,62.9 L231.0,63.5 L234.0,64.0 L237.0,64.5 L240.0,64.9 L243.0,65.3 L246.0,65.7 L249.0,65.9 L252.0,66.2 L255.0,66.4 L258.0,66.6 L261.0,66.7 L264.0,66.7 L267.0,66.7 L270.0,66.7 L273.0,66.6 L276.0,66.5 L279.0,66.3 L282.0,66.0 L285.0,65.8 L288.0,65.4 L291.0,65.0 L294.0,64.6 L297.0,64.1 L300.0,63.5 L300.0,-60.0 L45.0,-60.0Z" fill="#ffc800"/><path d="M45.0,-25.8 L48.0,-24.2 L51.0,-22.6 L54.0,-20.9 L57.0,-19.3 L60.0,-17.6 L63.0,-15.9 L66.0,-14.2 L69.0,-12.6 L72.0,-10.9 L75.0,-9.2 L78.0,-7.5 L81.0,-5.8 L84.0,-4.1 L87.0,-2.4 L90.0,-0.7 L93.0,1.0 L96.0,2.7 L99.0,4.3 L102.0,6.0 L105.0,7.7 L108.0,9.4 L111.0,11.0 L114.0,12.7 L117.0,14.3 L120.0,15.9 L123.0,17.5 L126.0,19.1 L129.0,20.7 L132.0,22.3 L135.0,23.8 L138.0,25.4 L141.0,26.9 L144.0,28.4 L147.0,29.8 L150.0,31.3 L153.0,32.7 L156.0,34.1 L159.0,35.5 L162.0,36.9 L165.0,38.2 L168.0,39.5 L171.0,40.8 L174.0,42.1 L177.0,43.3 L180.0,44.5 L183.0,45.7 L186.0,46.8 L189.0,47.9 L192.0,48.9 L195.0,50.0 L198.0,50.9 L201.0,51.9 L204.0,52.8 L207.0,53.7 L210.0,54.5 L213.0,55.3 L216.0,56.0 L219.0,56.8 L222.0,57.4 L225.0,58.1 L228.0,58.6 L231.0,59.2 L234.0,59.7 L237.0,60.1 L240.0,60.5 L243.0,60.9 L246.0,61.2 L249.0,61.5 L252.0,61.7 L255.0,61.9 L258.0,62.0 L261.0,62.0 L264.0,62.1 L267.0,62.0 L270.0,62.0 L273.0,61.8 L276.0,61.7 L279.0,61.4 L282.0,61.1 L285.0,60.8 L288.0,60.4 L291.0,59.9 L294.0,59.4 L297.0,58.9 L300.0,58.3 L300.0,-60.0 L45.0,-60.0Z" fill="#ffaa00"/><path d="M45.0,-29.4 L48.0,-27.8 L51.0,-26.2 L54.0,-24.5 L57.0,-22.9 L60.0,-21.2 L63.0,-19.5 L66.0,-17.9 L69.0,-16.2 L72.0,-14.5 L75.0,-12.8 L78.0,-11.1 L81.0,-9.4 L84.0,-7.7 L87.0,-6.0 L90.0,-4.4 L93.0,-2.7 L96.0,-1.0 L99.0,0.7 L102.0,2.3 L105.0,4.0 L108.0,5.7 L111.0,7.3 L114.0,8.9 L117.0,10.6 L120.0,12.2 L123.0,13.8 L126.0,15.4 L129.0,16.9 L132.0,18.5 L135.0,20.0 L138.0,21.5 L141.0,23.0 L144.0,24.5 L147.0,26.0 L150.0,27.4 L153.0,28.9 L156.0,30.2 L159.0,31.6 L162.0,33.0 L165.0,34.3 L168.0,35.6 L171.0,36.8 L174.0,38.1 L177.0,39.3 L180.0,40.5 L183.0,41.6 L186.0,42.7 L189.0,43.8 L192.0,44.8 L195.0,45.8 L198.0,46.8 L201.0,47.7 L204.0,48.6 L207.0,49.5 L210.0,50.3 L213.0,51.1 L216.0,51.8 L219.0,52.5 L222.0,53.2 L225.0,53.8 L228.0,54.3 L231.0,54.8 L234.0,55.3 L237.0,55.7 L240.0,56.1 L243.0,56.5 L246.0,56.7 L249.0,57.0 L252.0,57.2 L255.0,57.3 L258.0,57.4 L261.0,57.4 L264.0,57.4 L267.0,57.4 L270.0,57.2 L273.0,57.1 L276.0,56.8 L279.0,56.6 L282.0,56.2 L285.0,55.8 L288.0,55.4 L291.0,54.9 L294.0,54.3 L297.0,53.7 L300.0,53.0 L300.0,-60.0 L45.0,-60.0Z" fill="#ff8c00"/><path d="M45.0,-33.0 L48.0,-31.4 L51.0,-29.8 L54.0,-28.1 L57.0,-26.5 L60.0,-24.8 L63.0,-23.1 L66.0,-21.5 L69.0,-19.8 L72.0,-18.1 L75.0,-16.4 L78.0,-14.7 L81.0,-13.1 L84.0,-11.4 L87.0,-9.7 L90.0,-8.0 L93.0,-6.3 L96.0,-4.7 L99.0,-3.0 L102.0,-1.3 L105.0,0.3 L108.0,2.0 L111.0,3.6 L114.0,5.2 L117.0,6.8 L120.0,8.4 L123.0,10.0 L126.0,11.6 L129.0,13.1 L132.0,14.7 L135.0,16.2 L138.0,17.7 L141.0,19.2 L144.0,20.7 L147.0,22.1 L150.0,23.6 L153.0,25.0 L156.0,26.3 L159.0,27.7 L162.0,29.0 L165.0,30.3 L168.0,31.6 L171.0,32.9 L174.0,34.1 L177.0,35.3 L180.0,36.4 L183.0,37.6 L186.0,38.7 L189.0,39.7 L192.0,40.7 L195.0,41.7 L198.0,42.7 L201.0,43.6 L204.0,44.5 L207.0,45.3 L210.0,46.1 L213.0,46.9 L216.0,47.6 L219.0,48.3 L222.0,48.9 L225.0,49.5 L228.0,50.0 L231.0,50.5 L234.0,51.0 L237.0,51.4 L240.0,51.7 L243.0,52.0 L246.0,52.3 L249.0,52.5 L252.0,52.7 L255.0,52.8 L258.0,52.8 L261.0,52.8 L264.0,52.8 L267.0,52.7 L270.0,52.5 L273.0,52.3 L276.0,52.0 L279.0,51.7 L282.0,51.3 L285.0,50.9 L288.0,50.4 L291.0,49.8 L294.0,49.2 L297.0,48.5 L300.0,47.7 L300.0,-60.0 L45.0,-60.0Z" fill="#ff6e00"/><path d="M45.0,-36.6 L48.0,-35.0 L51.0,-33.4 L54.0,-31.7 L57.0,-30.1 L60.0,-28.4 L63.0,-26.7 L66.0,-25.1 L69.0,-23.4 L72.0,-21.7 L75.0,-20.0 L78.0,-18.4 L81.0,-16.7 L84.0,-15.0 L87.0,-13.3 L90.0,-11.7 L93.0,-10.0 L96.0,-8.3 L99.0,-6.7 L102.0,-5.0 L105.0,-3.4 L108.0,-1.7 L111.0,-0.1 L114.0,1.5 L117.0,3.1 L120.0,4.7 L123.0,6.3 L126.0,7.8 L129.0,9.4 L132.0,10.9 L135.0,12.4 L138.0,13.9 L141.0,15.4 L144.0,16.8 L147.0,18.3 L150.0,19.7 L153.0,21.1 L156.0,22.4 L159.0,23.8 L162.0,25.1 L165.0,26.4 L168.0,27.7 L171.0,28.9 L174.0,30.1 L177.0,31.3 L180.0,32.4 L183.0,33.5 L186.0,34.6 L189.0,35.6 L192.0,36.6 L195.0,37.6 L198.0,38.6 L201.0,39.5 L204.0,40.3 L207.0,41.1 L210.0,41.9 L213.0,42.7 L216.0,43.4 L219.0,44.0 L222.0,44.6 L225.0,45.2 L228.0,45.7 L231.0,46.2 L234.0,46.6 L237.0,47.0 L240.0,47.3 L243.0,47.6 L246.0,47.8 L249.0,48.0 L252.0,48.1 L255.0,48.2 L258.0,48.2 L261.0,48.2 L264.0,48.1 L267.0,48.0 L270.0,47.8 L273.0,47.5 L276.0,47.2 L279.0,46.8 L282.0,46.4 L285.0,45.9 L288.0,45.4 L291.0,44.7 L294.0,44.1 L297.0,43.3 L300.0,42.5 L300.0,-60.0 L45.0,-60.0Z" fill="#ff5000"/><path d="M45.0,-40.3 L48.0,-38.6 L51.0,-37.0 L54.0,-35.3 L57.0,-33.7 L60.0,-32.0 L63.0,-30.3 L66.0,-28.7 L69.0,-27.0 L72.0,-25.3 L75.0,-23.7 L78.0,-22.0 L81.0,-20.3 L84.0,-18.6 L87.0,-17.0 L90.0,-15.3 L93.0,-13.6 L96.0,-12.0 L99.0,-10.3 L102.0,-8.7 L105.0,-7.1 L108.0,-5.4 L111.0,-3.8 L114.0,-2.2 L117.0,-0.6 L120.0,0.9 L123.0,2.5 L126.0,4.1 L129.0,5.6 L132.0,7.1 L135.0,8.6 L138.0,10.1 L141.0,11.6 L144.0,13.0 L147.0,14.4 L150.0,15.8 L153.0,17.2 L156.0,18.5 L159.0,19.9 L162.0,21.2 L165.0,22.4 L168.0,23.7 L171.0,24.9 L174.0,26.1 L177.0,27.3 L180.0,28.4 L183.0,29.5 L186.0,30.5 L189.0,31.6 L192.0,32.6 L195.0,33.5 L198.0,34.4 L201.0,35.3 L204.0,36.2 L207.0,37.0 L210.0,37.7 L213.0,38.4 L216.0,39.1 L219.0,39.8 L222.0,40.3 L225.0,40.9 L228.0,41.4 L231.0,41.8 L234.0,42.3 L237.0,42.6 L240.0,42.9 L243.0,43.2 L246.0,43.4 L249.0,43.5 L252.0,43.6 L255.0,43.7 L258.0,43.7 L261.0,43.6 L264.0,43.5 L267.0,43.3 L270.0,43.1 L273.0,42.8 L276.0,42.4 L279.0,42.0 L282.0,41.5 L285.0,40.9 L288.0,40.3 L291.0,39.7 L294.0,38.9 L297.0,38.1 L300.0,37.2 L300.0,-60.0 L45.0,-60.0Z" fill="#ff3200"/><path d="M45.0,-18.6 L48.0,-17.0 L51.0,-15.4 L54.0,-13.7 L57.0,-12.1 L60.0,-10.4 L63.0,-8.7 L66.0,-7.0 L69.0,-5.3 L72.0,-3.6 L75.0,-1.9 L78.0,-0.2 L81.0,1.5 L84.0,3.2 L87.0,4.9 L90.0,6.6 L93.0,8.3 L96.0,10.0 L99.0,11.7 L102.0,13.4 L105.0,15.1 L108.0,16.8 L111.0,18.4 L114.0,20.1 L117.0,21.8 L120.0,23.4 L123.0,25.0 L126.0,26.7 L129.0,28.3 L132.0,29.9 L135.0,31.4 L138.0,33.0 L141.0,34.5 L144.0,36.1 L147.0,37.6 L150.0,39.1 L153.0,40.5 L156.0,42.0 L159.0,43.4 L162.0,44.8 L165.0,46.1 L168.0,47.5 L171.0,48.8 L174.0,50.1 L177.0,51.3 L180.0,52.5 L183.0,53.7 L186.0,54.9 L189.0,56.0 L192.0,57.1 L195.0,58.2 L198.0,59.2 L201.0,60.2 L204.0,61.1 L207.0,62.0 L210.0,62.9 L213.0,63.7 L216.0,64.5 L219.0,65.3 L222.0,66.0 L225.0,66.6 L228.0,67.3 L231.0,67.8 L234.0,68.4 L237.0,68.9 L240.0,69.3 L243.0,69.7 L246.0,70.1 L249.0,70.4 L252.0,70.7" fill="none" stroke="#000" stroke-width="0.5" stroke-opacity="0.85"/><path d="M273.0,71.4 L276.0,71.3 L279.0,71.1 L282.0,71.0 L285.0,70.7 L288.0,70.4 L291.0,70.1 L294.0,69.7 L297.0,69.3 L300.0,68.8" fill="none" stroke="#000" stroke-width="0.5" stroke-opacity="0.85"/><path d="M45.0,-4.9 L48.0,-3.1 L51.0,-1.2 L54.0,0.7 L57.0,2.5 L60.0,4.4 L63.0,6.3 L66.0,8.2 L69.0,10.1 L72.0,12.0 L75.0,13.9 L78.0,15.7 L81.0,17.6 L84.0,19.5 L87.0,21.4 L90.0,23.3 L93.0,25.1 L96.0,27.0 L99.0,28.8 L102.0,30.7 L105.0,32.5 L108.0,34.3 L111.0,36.1 L114.0,37.9 L117.0,39.7 L120.0,41.4 L123.0,43.2 L126.0,44.9 L129.0,46.6 L132.0,48.3 L135.0,50.0 L138.0,51.6 L141.0,53.2 L144.0,54.8 L147.0,56.4 L150.0,58.0 L153.0,59.5 L156.0,61.0 L159.0,62.4 L162.0,63.9 L165.0,65.3 L168.0,66.7 L171.0,68.0 L174.0,69.3 L177.0,70.6 L180.0,71.8 L183.0,73.0 L186.0,74.2 L189.0,75.3 L192.0,76.4 L195.0,77.4 L198.0,78.4 L201.0,79.4 L204.0,80.3 L207.0,81.2 L210.0,82.0 L213.0,82.8 L216.0,83.6 L219.0,84.3 L222.0,85.0 L225.0,85.6 L228.0,86.2 L231.0,86.8 L234.0,87.3 L237.0,87.7 L240.0,88.2 L243.0,88.5 L246.0,88.9 L249.0,89.2 L252.0,89.4 L255.0,89.6 L258.0,89.8" fill="none" stroke="#000" stroke-width="0.5" stroke-opacity="0.85"/><path d="M276.0,89.8 L279.0,89.7 L282.0,89.5 L285.0,89.3 L288.0,89.0 L291.0,88.6 L294.0,88.3 L297.0,87.9 L300.0,87.4" fill="none" stroke="#000" stroke-width="0.5" stroke-opacity="0.85"/><path d="M45.0,9.2 L48.0,11.1 L51.0,13.0 L54.0,14.9 L57.0,16.9 L60.0,18.8 L63.0,20.8 L66.0,22.7 L69.0,24.7 L72.0,26.7 L75.0,28.7 L78.0,30.6 L81.0,32.6 L84.0,34.6 L87.0,36.6 L90.0,38.5 L93.0,40.5 L96.0,42.5 L99.0,44.4 L102.0,46.3 L105.0,48.3 L108.0,50.2 L111.0,52.1 L114.0,53.9 L117.0,55.8 L120.0,57.6 L123.0,59.4 L126.0,61.2 L129.0,63.0 L132.0,64.8 L135.0,66.5 L138.0,68.2 L141.0,69.8 L144.0,71.4 L147.0,73.0 L150.0,74.6 L153.0,76.1 L156.0,77.6 L159.0,79.0 L162.0,80.4 L165.0,81.7 L168.0,83.1 L171.0,84.3 L174.0,85.5 L177.0,86.7 L180.0,87.8 L183.0,88.9 L186.0,90.0 L189.0,91.0 L192.0,92.0 L195.0,92.9 L198.0,93.8 L201.0,94.6 L204.0,95.4 L207.0,96.2 L210.0,96.9 L213.0,97.6 L216.0,98.2 L219.0,98.9 L222.0,99.4 L225.0,100.0 L228.0,100.5 L231.0,100.9 L234.0,101.3 L237.0,101.7 L240.0,102.1 L243.0,102.4 L246.0,102.7 L249.0,102.9 L252.0,103.2 L255.0,103.3 L258.0,103.5 L261.0,103.6" fill="none" stroke="#000" stroke-width="0.5" stroke-opacity="0.85"/><path d="M282.0,103.6 L285.0,103.4 L288.0,103.3 L291.0,103.1 L294.0,102.9 L297.0,102.6 L300.0,102.4" fill="none" stroke="#000" stroke-width="0.5" stroke-opacity="0.85"/><path d="M45.0,23.6 L48.0,25.8 L51.0,28.0 L54.0,30.2 L57.0,32.4 L60.0,34.5 L63.0,36.6 L66.0,38.7 L69.0,40.7 L72.0,42.8 L75.0,44.8 L78.0,46.8 L81.0,48.8 L84.0,50.7 L87.0,52.6 L90.0,54.5 L93.0,56.4 L96.0,58.2 L99.0,60.1 L102.0,61.9 L105.0,63.6 L108.0,65.4 L111.0,67.1 L114.0,68.8 L117.0,70.5 L120.0,72.1 L123.0,73.7 L126.0,75.3 L129.0,76.9 L132.0,78.4 L135.0,79.9 L138.0,81.4 L141.0,82.8 L144.0,84.2 L147.0,85.6 L150.0,87.0 L153.0,88.3 L156.0,89.6 L159.0,90.9 L162.0,92.1 L165.0,93.3 L168.0,94.5 L171.0,95.6 L174.0,96.8 L177.0,97.8 L180.0,98.9 L183.0,99.9 L186.0,100.9 L189.0,101.9 L192.0,102.8 L195.0,103.7 L198.0,104.5 L201.0,105.4 L204.0,106.2 L207.0,106.9 L210.0,107.6 L213.0,108.3 L216.0,109.0 L219.0,109.6 L222.0,110.2 L225.0,110.7 L228.0,111.2 L231.0,111.7 L234.0,112.2 L237.0,112.6 L240.0,112.9 L243.0,113.3 L246.0,113.6 L249.0,113.8 L252.0,114.1" fill="none" stroke="#000" stroke-width="0.5" stroke-opacity="0.85"/><path d="M273.0,114.6 L276.0,114.5 L279.0,114.3 L282.0,114.2 L285.0,114.0 L288.0,113.7 L291.0,113.5 L294.0,113.1 L297.0,112.8 L300.0,112.4" fill="none" stroke="#000" stroke-width="0.5" stroke-opacity="0.85"/><path d="M45.0,121.6 L47.0,121.6 L49.0,121.5 L51.1,121.5 L53.1,121.4 L55.1,121.4 L57.2,121.3 L59.2,121.3 L61.2,121.2 L63.2,121.2 L65.3,121.2 L67.3,121.2 L69.3,121.1 L71.3,121.1 L73.4,121.1 L75.4,121.1 L77.4,121.0 L79.4,121.0 L81.5,121.0 L83.5,121.0 L85.5,121.0 L87.5,121.0 L89.6,121.0 L91.6,121.0 L93.6,121.0 L95.6,121.0 L97.7,121.1 L99.7,121.1 L101.7,121.1 L103.7,121.1 L105.8,121.1 L107.8,121.2 L109.8,121.2 L111.8,121.2 L113.9,121.2 L115.9,121.3 L117.9,121.3 L119.9,121.3 L122.0,121.4 L124.0,121.4 L126.0,121.5 L128.0,121.5 L130.1,121.6 L132.1,121.6 L134.1,121.7 L136.1,121.7 L138.2,121.8 L140.2,121.9 L142.2,121.9 L144.2,122.0 L146.3,122.1 L148.3,122.1 L150.3,122.2 L152.3,122.3 L154.4,122.3 L156.4,122.4 L158.4,122.5 L160.4,122.6 L162.4,122.7 L164.5,122.7 L166.5,122.8 L168.5,122.9 L170.5,123.0 L172.6,123.1 L174.6,123.2 L176.6,123.3 L178.6,123.4 L180.7,123.5 L182.7,123.6 L184.7,123.7 L186.7,123.8 L188.7,123.9 L190.8,124.0 L192.8,124.1 L194.8,124.2 L196.8,124.3 L198.9,124.4 L200.9,124.5 L202.9,124.6 L204.9,124.7 L206.9,124.8 L209.0,125.0 L211.0,125.1 L213.0,125.2 L215.0,125.3 L217.1,125.4 L219.1,125.5 L221.1,125.7 L223.1,125.8 L225.1,125.9 L227.2,126.0 L229.2,126.1 L231.2,126.2 L233.2,126.4 L235.2,126.5 L237.3,126.6 L239.3,126.7 L241.3,126.8 L243.3,126.9 L245.3,127.0 L247.4,127.1 L249.4,127.2 L251.4,127.3 L253.4,127.3 L255.5,127.4 L257.5,127.5" fill="none" stroke="#000" stroke-width="0.5" stroke-opacity="0.85"/><path d="M275.7,127.9 L277.7,127.9 L279.7,127.9 L281.8,127.9 L283.8,127.9 L285.8,127.9 L287.8,127.8 L289.9,127.8 L291.9,127.7 L293.9,127.7 L295.9,127.6 L298.0,127.5 L300.0,127.4" fill="none" stroke="#000" stroke-width="0.5" stroke-opacity="0.85"/><path d="M207.8,183.6 L208.7,181.5 L209.6,179.5 L210.7,177.6 L211.8,175.7 L212.9,174.0 L214.2,172.4 L215.5,170.8 L216.8,169.4 L218.3,168.0 L219.8,166.7 L221.3,165.5 L222.9,164.4 L224.5,163.3 L226.2,162.3 L228.0,161.4 L229.7,160.5 L231.6,159.7 L233.4,159.0 L235.3,158.3 L237.2,157.7 L239.2,157.1 L241.2,156.6 L243.2,156.1 L245.2,155.6 L247.3,155.2 L249.3,154.9 L251.4,154.5 L253.5,154.2 L255.6,154.0 L257.7,153.7 L259.8,153.5 L262.0,153.3" fill="none" stroke="#000" stroke-width="0.5" stroke-opacity="0.85"/><path d="M282.7,152.1 L284.6,152.0 L286.6,151.9 L288.5,151.7 L290.4,151.6" fill="none" stroke="#000" stroke-width="0.5" stroke-opacity="0.85"/><text stroke="#000" stroke-width="0.22" x="262.0" y="73.0" font-size="10" text-anchor="middle" transform="rotate(0 262.0 69.7)" >5.0</text><text stroke="#000" stroke-width="0.22" x="267.0" y="91.6" font-size="10" text-anchor="middle" transform="rotate(0 267.0 88.3)" >3.0</text><text stroke="#000" stroke-width="0.22" x="271.5" y="106.2" font-size="10" text-anchor="middle" transform="rotate(0 271.5 102.9)" >2.0</text><text stroke="#000" stroke-width="0.22" x="262.5" y="116.1" font-size="10" text-anchor="middle" transform="rotate(0 262.5 112.8)" >1.5</text><text stroke="#000" stroke-width="0.22" x="266.5" y="130.9" font-size="10" text-anchor="middle" transform="rotate(0 266.5 127.6)" >1.0</text><text stroke="#000" stroke-width="0.22" x="272.0" y="155.5" font-size="10" text-anchor="middle" transform="rotate(0 272.0 152.2)" >0.5</text></g><g clip-path="url(#cb)"><path d="M300.0,-50.0 L300.0,66.0 L355.1,66.0 L356.3,67.5 L357.6,69.0 L358.8,70.5 L360.0,72.0 L361.3,73.6 L362.5,75.2 L363.7,76.8 L364.9,78.4 L366.1,80.0 L367.3,81.7 L368.5,83.3 L369.7,85.0 L370.9,86.6 L372.1,88.3 L373.3,90.0 L374.6,91.6 L375.8,93.3 L377.0,94.9 L378.2,96.6 L379.5,98.2 L380.8,99.8 L382.0,101.5 L383.3,103.1 L384.6,104.6 L385.9,106.2 L387.2,107.8 L388.6,109.3 L389.9,110.8 L391.3,112.3 L392.7,113.7 L394.2,115.1 L395.6,116.5 L397.1,117.9 L398.6,119.2 L400.1,120.5 L401.6,121.8 L403.2,123.0 L404.8,124.2 L406.4,125.3 L408.0,126.4 L409.7,127.5 L411.4,128.5 L413.1,129.6 L414.8,130.6 L416.6,131.5 L418.3,132.5 L420.1,133.4 L421.9,134.3 L423.7,135.1 L425.5,136.0 L427.3,136.8 L429.2,137.6 L431.0,138.4 L432.9,139.2 L434.8,140.0 L436.6,140.7 L438.5,141.4 L440.4,142.2 L442.3,142.9 L444.2,143.6 L446.1,144.3 L448.0,145.0 L449.9,145.6 L451.8,146.3 L453.7,147.0 L455.7,147.6 L457.6,148.3 L459.5,149.0 L461.4,149.6 L463.3,150.3 L465.2,150.9 L467.2,151.6 L469.1,152.2 L471.0,152.9 L472.9,153.5 L474.8,154.2 L476.7,154.8 L478.6,155.5 L480.6,156.2 L482.5,156.8 L484.4,157.5 L486.3,158.2 L488.2,158.9 L490.1,159.5 L492.0,160.2 L493.8,160.9 L495.7,161.7 L497.6,162.4 L499.5,163.1 L501.4,163.9 L503.2,164.6 L505.1,165.4 L506.9,166.2 L508.8,167.0 L510.6,167.8 L512.4,168.6 L514.3,169.4 L516.1,170.3 L517.9,171.2 L519.7,172.1 L521.5,173.0 L523.3,173.9 L525.1,174.8 L526.8,175.8 L528.6,176.8 L530.3,177.8 L532.1,178.8 L533.8,179.9 L535.5,180.9 L537.2,182.0 L538.9,183.1 L540.6,184.3 L542.3,185.5 L544.0,186.7 L545.6,187.9 L547.2,189.1 L548.9,190.4 L549.0,300.0 L800.0,300.0 L800.0,-50.0Z" fill="#000000"/><path d="M369.5,8.0 L369.6,10.0 L369.7,12.0 L369.8,14.0 L370.0,16.0 L370.1,18.0 L370.3,20.0 L370.4,22.0 L370.6,24.0 L370.8,26.0 L371.0,28.0 L371.2,30.0 L371.4,32.0 L371.6,34.0 L371.8,36.0 L372.1,38.0 L372.3,40.0 L372.6,42.0 L372.9,44.0 L373.1,46.0 L373.4,48.0 L373.7,50.0 L373.9,52.0 L374.2,54.0 L374.5,56.0 L374.8,58.0 L375.1,60.0 L375.4,62.0 L375.8,64.0 L376.3,66.0 L376.8,68.0 L377.3,70.0 L378.0,72.0 L379.1,74.0 L380.3,76.0 L381.8,78.0 L383.3,80.0 L384.8,82.0 L386.3,84.0 L387.8,86.0 L389.3,88.0 L390.8,90.0 L392.4,92.0 L394.0,94.0 L395.7,96.0 L397.4,98.0 L399.2,100.0 L401.0,102.0 L402.9,104.0 L404.9,106.0 L406.9,108.0 L409.0,110.0 L411.1,112.0 L413.4,114.0 L415.7,116.0 L418.1,118.0 L420.5,120.0 L423.1,122.0 L425.8,124.0 L428.6,126.0 L431.4,128.0 L434.4,130.0 L437.5,132.0 L440.9,134.0 L444.7,136.0 L449.1,138.0 L454.3,140.0 L459.9,142.0 L466.5,144.0 L473.2,146.0 L479.1,148.0 L484.6,150.0 L490.3,152.0 L496.4,154.0 L502.0,156.0 L506.9,158.0 L511.3,160.0 L515.4,162.0 L519.2,164.0 L522.8,166.0 L526.1,168.0 L529.2,170.0 L532.3,172.0 L535.2,174.0 L538.0,176.0 L540.7,178.0 L543.3,180.0 L546.0,182.0 L548.5,184.0 L551.1,186.0 L553.5,188.0 L555.9,190.0 L800.0,300.0 L800.0,-50.0Z" fill="#23002d"/><path d="M372.5,8.0 L372.6,10.0 L372.7,12.0 L372.8,14.0 L372.9,16.0 L373.1,18.0 L373.2,20.0 L373.4,22.0 L373.6,24.0 L373.9,26.0 L374.2,28.0 L374.5,30.0 L374.8,32.0 L375.1,34.0 L375.5,36.0 L375.8,38.0 L376.2,40.0 L376.6,42.0 L376.9,44.0 L377.3,46.0 L377.7,48.0 L378.1,50.0 L378.6,52.0 L379.0,54.0 L379.4,56.0 L379.9,58.0 L380.3,60.0 L380.9,62.0 L381.4,64.0 L382.0,66.0 L382.7,68.0 L383.2,70.0 L384.0,72.0 L385.0,74.0 L386.3,76.0 L387.6,78.0 L389.1,80.0 L390.6,82.0 L392.1,84.0 L393.5,86.0 L395.0,88.0 L396.5,90.0 L398.1,92.0 L399.7,94.0 L401.3,96.0 L403.1,98.0 L404.8,100.0 L406.6,102.0 L408.5,104.0 L410.4,106.0 L412.4,108.0 L414.4,110.0 L416.5,112.0 L418.7,114.0 L421.0,116.0 L423.4,118.0 L425.9,120.0 L428.5,122.0 L431.1,124.0 L433.9,126.0 L436.8,128.0 L439.7,130.0 L442.8,132.0 L446.2,134.0 L449.9,136.0 L454.2,138.0 L459.1,140.0 L464.5,142.0 L470.9,144.0 L477.5,146.0 L483.1,148.0 L488.5,150.0 L493.9,152.0 L499.6,154.0 L505.0,156.0 L509.7,158.0 L514.1,160.0 L518.2,162.0 L521.9,164.0 L525.4,166.0 L528.7,168.0 L531.9,170.0 L534.9,172.0 L537.8,174.0 L540.7,176.0 L543.4,178.0 L546.1,180.0 L548.7,182.0 L551.4,184.0 L553.9,186.0 L556.4,188.0 L558.9,190.0 L800.0,300.0 L800.0,-50.0Z" fill="#3e0050"/><path d="M376.6,8.0 L376.7,10.0 L376.8,12.0 L376.9,14.0 L377.0,16.0 L377.2,18.0 L377.3,20.0 L377.5,22.0 L377.7,24.0 L378.1,26.0 L378.4,28.0 L378.8,30.0 L379.2,32.0 L379.6,34.0 L380.0,36.0 L380.5,38.0 L380.9,40.0 L381.4,42.0 L381.8,44.0 L382.3,46.0 L382.8,48.0 L383.4,50.0 L383.9,52.0 L384.5,54.0 L385.0,56.0 L385.6,58.0 L386.2,60.0 L386.9,62.0 L387.5,64.0 L388.3,66.0 L389.1,68.0 L389.7,70.0 L390.5,72.0 L391.5,74.0 L392.7,76.0 L394.0,78.0 L395.4,80.0 L396.9,82.0 L398.3,84.0 L399.7,86.0 L401.2,88.0 L402.7,90.0 L404.2,92.0 L405.8,94.0 L407.5,96.0 L409.2,98.0 L410.9,100.0 L412.7,102.0 L414.5,104.0 L416.4,106.0 L418.3,108.0 L420.3,110.0 L422.4,112.0 L424.6,114.0 L426.8,116.0 L429.2,118.0 L431.7,120.0 L434.2,122.0 L436.9,124.0 L439.7,126.0 L442.5,128.0 L445.5,130.0 L448.6,132.0 L452.0,134.0 L455.6,136.0 L459.7,138.0 L464.3,140.0 L469.4,142.0 L475.7,144.0 L482.1,146.0 L487.6,148.0 L492.6,150.0 L497.8,152.0 L503.1,154.0 L508.3,156.0 L512.9,158.0 L517.2,160.0 L521.1,162.0 L524.9,164.0 L528.3,166.0 L531.6,168.0 L534.7,170.0 L537.8,172.0 L540.7,174.0 L543.6,176.0 L546.3,178.0 L549.1,180.0 L551.8,182.0 L554.4,184.0 L557.1,186.0 L559.6,188.0 L562.1,190.0 L800.0,300.0 L800.0,-50.0Z" fill="#540073"/><path d="M383.4,8.0 L383.5,10.0 L383.6,12.0 L383.7,14.0 L383.8,16.0 L384.0,18.0 L384.1,20.0 L384.2,22.0 L384.5,24.0 L385.0,26.0 L385.5,28.0 L386.0,30.0 L386.5,32.0 L387.1,34.0 L387.7,36.0 L388.2,38.0 L388.8,40.0 L389.4,42.0 L390.0,44.0 L390.7,46.0 L391.4,48.0 L392.2,50.0 L392.9,52.0 L393.7,54.0 L394.5,56.0 L395.3,58.0 L396.1,60.0 L397.0,62.0 L397.9,64.0 L398.9,66.0 L399.9,68.0 L400.6,70.0 L401.4,72.0 L402.4,74.0 L403.5,76.0 L404.8,78.0 L406.1,80.0 L407.5,82.0 L408.8,84.0 L410.2,86.0 L411.6,88.0 L413.1,90.0 L414.7,92.0 L416.2,94.0 L417.8,96.0 L419.5,98.0 L421.2,100.0 L422.9,102.0 L424.7,104.0 L426.5,106.0 L428.3,108.0 L430.3,110.0 L432.3,112.0 L434.4,114.0 L436.6,116.0 L439.0,118.0 L441.4,120.0 L444.0,122.0 L446.7,124.0 L449.4,126.0 L452.3,128.0 L455.3,130.0 L458.4,132.0 L461.7,134.0 L465.2,136.0 L469.0,138.0 L473.1,140.0 L477.8,142.0 L483.7,144.0 L489.9,146.0 L495.0,148.0 L499.7,150.0 L504.3,152.0 L509.1,154.0 L513.8,156.0 L518.1,158.0 L522.3,160.0 L526.2,162.0 L529.8,164.0 L533.2,166.0 L536.4,168.0 L539.5,170.0 L542.6,172.0 L545.6,174.0 L548.5,176.0 L551.3,178.0 L554.1,180.0 L556.9,182.0 L559.6,184.0 L562.3,186.0 L565.0,188.0 L567.6,190.0 L800.0,300.0 L800.0,-50.0Z" fill="#600096"/><path d="M390.2,8.0 L390.3,10.0 L390.3,12.0 L390.4,14.0 L390.5,16.0 L390.6,18.0 L390.8,20.0 L390.9,22.0 L391.2,24.0 L391.6,26.0 L392.0,28.0 L392.4,30.0 L392.9,32.0 L393.4,34.0 L393.9,36.0 L394.4,38.0 L394.9,40.0 L395.4,42.0 L396.0,44.0 L396.6,46.0 L397.3,48.0 L398.1,50.0 L398.8,52.0 L399.6,54.0 L400.3,56.0 L401.1,58.0 L401.9,60.0 L402.7,62.0 L403.6,64.0 L404.6,66.0 L405.5,68.0 L406.3,70.0 L407.1,72.0 L408.1,74.0 L409.2,76.0 L410.4,78.0 L411.7,80.0 L413.0,82.0 L414.3,84.0 L415.7,86.0 L417.1,88.0 L418.6,90.0 L420.1,92.0 L421.7,94.0 L423.3,96.0 L424.9,98.0 L426.5,100.0 L428.2,102.0 L430.0,104.0 L431.8,106.0 L433.6,108.0 L435.5,110.0 L437.5,112.0 L439.6,114.0 L441.8,116.0 L444.1,118.0 L446.5,120.0 L449.1,122.0 L451.8,124.0 L454.5,126.0 L457.4,128.0 L460.4,130.0 L463.5,132.0 L466.8,134.0 L470.2,136.0 L473.8,138.0 L477.7,140.0 L482.2,142.0 L488.0,144.0 L494.0,146.0 L499.0,148.0 L503.4,150.0 L507.7,152.0 L512.2,154.0 L516.7,156.0 L520.9,158.0 L525.0,160.0 L528.8,162.0 L532.4,164.0 L535.7,166.0 L539.0,168.0 L542.1,170.0 L545.1,172.0 L548.1,174.0 L551.0,176.0 L553.9,178.0 L556.7,180.0 L559.6,182.0 L562.3,184.0 L565.1,186.0 L567.8,188.0 L570.5,190.0 L800.0,300.0 L800.0,-50.0Z" fill="#5a00b9"/><path d="M396.8,8.0 L396.8,10.0 L396.9,12.0 L397.0,14.0 L397.1,16.0 L397.2,18.0 L397.3,20.0 L397.4,22.0 L397.6,24.0 L398.0,26.0 L398.3,28.0 L398.7,30.0 L399.1,32.0 L399.5,34.0 L399.9,36.0 L400.4,38.0 L400.9,40.0 L401.4,42.0 L401.9,44.0 L402.5,46.0 L403.1,48.0 L403.9,50.0 L404.6,52.0 L405.4,54.0 L406.1,56.0 L406.9,58.0 L407.7,60.0 L408.5,62.0 L409.3,64.0 L410.2,66.0 L411.2,68.0 L412.0,70.0 L412.8,72.0 L413.8,74.0 L414.9,76.0 L416.1,78.0 L417.3,80.0 L418.6,82.0 L419.9,84.0 L421.2,86.0 L422.6,88.0 L424.1,90.0 L425.6,92.0 L427.1,94.0 L428.7,96.0 L430.3,98.0 L431.9,100.0 L433.6,102.0 L435.3,104.0 L437.0,106.0 L438.8,108.0 L440.7,110.0 L442.7,112.0 L444.7,114.0 L446.9,116.0 L449.2,118.0 L451.7,120.0 L454.2,122.0 L456.9,124.0 L459.6,126.0 L462.5,128.0 L465.5,130.0 L468.6,132.0 L471.9,134.0 L475.2,136.0 L478.7,138.0 L482.3,140.0 L486.6,142.0 L492.2,144.0 L498.1,146.0 L502.9,148.0 L507.1,150.0 L511.1,152.0 L515.3,154.0 L519.6,156.0 L523.7,158.0 L527.6,160.0 L531.4,162.0 L535.0,164.0 L538.3,166.0 L541.5,168.0 L544.6,170.0 L547.6,172.0 L550.7,174.0 L553.6,176.0 L556.5,178.0 L559.4,180.0 L562.2,182.0 L565.1,184.0 L567.9,186.0 L570.6,188.0 L573.4,190.0 L800.0,300.0 L800.0,-50.0Z" fill="#4600d7"/><path d="M402.8,8.0 L402.8,10.0 L402.9,12.0 L403.0,14.0 L403.1,16.0 L403.1,18.0 L403.3,20.0 L403.4,22.0 L403.6,24.0 L403.8,26.0 L404.1,28.0 L404.5,30.0 L404.8,32.0 L405.2,34.0 L405.6,36.0 L406.0,38.0 L406.4,40.0 L406.9,42.0 L407.4,44.0 L407.9,46.0 L408.6,48.0 L409.3,50.0 L410.1,52.0 L410.8,54.0 L411.6,56.0 L412.3,58.0 L413.1,60.0 L413.9,62.0 L414.8,64.0 L415.7,66.0 L416.6,68.0 L417.4,70.0 L418.3,72.0 L419.3,74.0 L420.3,76.0 L421.4,78.0 L422.6,80.0 L423.8,82.0 L425.1,84.0 L426.4,86.0 L427.8,88.0 L429.3,90.0 L430.8,92.0 L432.3,94.0 L433.9,96.0 L435.5,98.0 L437.1,100.0 L438.7,102.0 L440.4,104.0 L442.1,106.0 L443.9,108.0 L445.7,110.0 L447.6,112.0 L449.7,114.0 L451.8,116.0 L454.1,118.0 L456.5,120.0 L459.1,122.0 L461.8,124.0 L464.5,126.0 L467.4,128.0 L470.4,130.0 L473.5,132.0 L476.7,134.0 L480.0,136.0 L483.3,138.0 L486.8,140.0 L490.8,142.0 L496.2,144.0 L502.1,146.0 L506.6,148.0 L510.6,150.0 L514.4,152.0 L518.3,154.0 L522.3,156.0 L526.3,158.0 L530.2,160.0 L533.9,162.0 L537.4,164.0 L540.7,166.0 L543.9,168.0 L547.0,170.0 L550.1,172.0 L553.1,174.0 L556.1,176.0 L559.0,178.0 L561.9,180.0 L564.8,182.0 L567.7,184.0 L570.5,186.0 L573.3,188.0 L576.1,190.0 L800.0,300.0 L800.0,-50.0Z" fill="#2800f2"/><path d="M409.6,8.0 L409.6,10.0 L409.6,12.0 L409.7,14.0 L409.8,16.0 L409.8,18.0 L409.9,20.0 L410.1,22.0 L410.2,24.0 L410.4,26.0 L410.6,28.0 L410.8,30.0 L411.1,32.0 L411.4,34.0 L411.7,36.0 L412.0,38.0 L412.3,40.0 L412.7,42.0 L413.1,44.0 L413.6,46.0 L414.3,48.0 L414.9,50.0 L415.6,52.0 L416.3,54.0 L417.0,56.0 L417.8,58.0 L418.5,60.0 L419.2,62.0 L420.0,64.0 L420.9,66.0 L421.8,68.0 L422.6,70.0 L423.5,72.0 L424.5,74.0 L425.5,76.0 L426.6,78.0 L427.7,80.0 L428.9,82.0 L430.1,84.0 L431.5,86.0 L432.8,88.0 L434.3,90.0 L435.8,92.0 L437.3,94.0 L438.8,96.0 L440.4,98.0 L442.0,100.0 L443.6,102.0 L445.2,104.0 L446.9,106.0 L448.7,108.0 L450.5,110.0 L452.4,112.0 L454.4,114.0 L456.5,116.0 L458.8,118.0 L461.2,120.0 L463.8,122.0 L466.4,124.0 L469.2,126.0 L472.0,128.0 L475.0,130.0 L478.2,132.0 L481.4,134.0 L484.6,136.0 L487.7,138.0 L491.0,140.0 L494.8,142.0 L500.1,144.0 L505.8,146.0 L510.2,148.0 L514.0,150.0 L517.5,152.0 L521.1,154.0 L525.0,156.0 L528.8,158.0 L532.6,160.0 L536.3,162.0 L539.8,164.0 L543.1,166.0 L546.2,168.0 L549.3,170.0 L552.4,172.0 L555.4,174.0 L558.4,176.0 L561.4,178.0 L564.3,180.0 L567.2,182.0 L570.1,184.0 L573.0,186.0 L575.9,188.0 L578.7,190.0 L800.0,300.0 L800.0,-50.0Z" fill="#0500ff"/><path d="M414.5,8.0 L414.5,10.0 L414.5,12.0 L414.6,14.0 L414.7,16.0 L414.8,18.0 L414.9,20.0 L414.9,22.0 L415.1,24.0 L415.2,26.0 L415.3,28.0 L415.5,30.0 L415.7,32.0 L416.0,34.0 L416.2,36.0 L416.5,38.0 L416.8,40.0 L417.1,42.0 L417.5,44.0 L418.0,46.0 L418.6,48.0 L419.3,50.0 L420.0,52.0 L420.7,54.0 L421.3,56.0 L422.0,58.0 L422.7,60.0 L423.5,62.0 L424.3,64.0 L425.1,66.0 L425.9,68.0 L426.8,70.0 L427.7,72.0 L428.7,74.0 L429.7,76.0 L430.8,78.0 L431.9,80.0 L433.0,82.0 L434.2,84.0 L435.5,86.0 L436.9,88.0 L438.3,90.0 L439.8,92.0 L441.3,94.0 L442.8,96.0 L444.4,98.0 L446.0,100.0 L447.5,102.0 L449.2,104.0 L450.8,106.0 L452.5,108.0 L454.3,110.0 L456.2,112.0 L458.2,114.0 L460.3,116.0 L462.6,118.0 L465.0,120.0 L467.5,122.0 L470.2,124.0 L472.9,126.0 L475.8,128.0 L478.8,130.0 L481.9,132.0 L485.1,134.0 L488.3,136.0 L491.3,138.0 L494.4,140.0 L498.0,142.0 L503.2,144.0 L508.8,146.0 L513.1,148.0 L516.7,150.0 L520.0,152.0 L523.4,154.0 L527.1,156.0 L530.9,158.0 L534.6,160.0 L538.3,162.0 L541.7,164.0 L544.9,166.0 L548.1,168.0 L551.2,170.0 L554.2,172.0 L557.3,174.0 L560.3,176.0 L563.3,178.0 L566.2,180.0 L569.2,182.0 L572.1,184.0 L575.1,186.0 L578.0,188.0 L580.9,190.0 L800.0,300.0 L800.0,-50.0Z" fill="#002dff"/><path d="M451.8,6.9 L451.3,9.2 L450.9,11.6 L450.5,13.8 L450.2,16.1 L449.9,18.4 L449.7,20.6 L449.5,22.8 L449.3,25.1 L449.2,27.3 L449.1,29.4 L449.1,31.6 L449.1,33.7 L449.1,35.9 L449.2,38.0 L449.3,40.1 L449.5,42.1 L449.7,44.2 L450.0,46.3 L450.2,48.3 L450.6,50.3 L450.9,52.3 L451.3,54.3 L451.8,56.2 L452.2,58.2 L452.7,60.1 L453.3,62.0 L453.8,63.9 L454.5,65.8 L455.1,67.6 L455.8,69.5 L456.5,71.3 L457.2,73.1 L458.0,74.9 L458.8,76.6 L459.7,78.4 L460.5,80.1 L461.4,81.8 L462.4,83.5 L463.3,85.2 L464.3,86.9 L465.3,88.5 L466.4,90.1 L467.5,91.7 L468.6,93.3 L469.7,94.9 L470.9,96.4 L472.0,98.0 L473.3,99.5 L474.5,101.0 L475.8,102.5 L477.1,103.9 L478.4,105.4 L479.7,106.8 L481.1,108.2 L482.4,109.6 L483.8,111.0 L485.3,112.4 L486.7,113.8 L488.2,115.1 L489.6,116.4 L491.1,117.7 L492.7,119.0 L494.2,120.3 L495.7,121.6 L497.3,122.8 L498.9,124.1 L500.5,125.3 L502.1,126.5 L503.7,127.7 L505.4,128.9 L507.0,130.1 L508.7,131.3 L510.3,132.4 L512.0,133.6 L513.7,134.7 L515.4,135.8 L517.2,136.9 L518.9,138.0 L520.6,139.1 L522.4,140.2 L524.1,141.3 L525.9,142.4 L527.6,143.4 L529.4,144.5 L531.2,145.6 L532.9,146.6 L534.7,147.6 L536.5,148.7 L538.3,149.7 L540.0,150.8 L541.8,151.8 L543.6,152.8 L545.4,153.8 L547.2,154.9 L549.0,155.9 L550.8,156.9 L552.5,157.9 L554.3,158.9 L556.1,160.0 L557.9,161.0 L559.6,162.0 L561.4,163.1 L563.1,164.1 L564.9,165.1 L566.6,166.2 L568.4,167.2 L570.1,168.3 L571.8,169.3 L573.5,170.4 L575.2,171.4 L576.9,172.5 L578.6,173.6 L580.2,174.7 L581.9,175.8 L583.5,176.9 L585.2,178.0 L586.8,179.1 L588.4,180.3 L590.0,181.4 L591.5,182.6 L593.1,183.8 L594.6,184.9 L596.1,186.1 L597.6,187.4 L599.1,188.6 L600.6,189.8 L601.0,300.0 L800.0,300.0 L800.0,-50.0 L450.5,-50.0Z" fill="#005aff"/><path d="M478.0,7.8 L477.8,9.8 L477.7,11.8 L477.6,13.9 L477.4,15.9 L477.3,18.0 L477.3,20.0 L477.2,22.1 L477.2,24.2 L477.1,26.2 L477.1,28.3 L477.2,30.4 L477.2,32.4 L477.3,34.5 L477.3,36.6 L477.4,38.7 L477.6,40.7 L477.7,42.8 L477.9,44.9 L478.1,46.9 L478.3,49.0 L478.6,51.0 L478.8,53.0 L479.1,55.1 L479.5,57.1 L479.8,59.1 L480.2,61.1 L480.6,63.1 L481.1,65.1 L481.5,67.0 L482.0,69.0 L482.6,70.9 L483.1,72.8 L483.7,74.8 L484.4,76.6 L485.0,78.5 L485.7,80.4 L486.4,82.2 L487.2,84.0 L488.0,85.8 L488.8,87.6 L489.7,89.3 L490.6,91.1 L491.6,92.8 L492.6,94.5 L493.6,96.1 L494.6,97.7 L495.7,99.4 L496.9,100.9 L498.0,102.5 L499.2,104.0 L500.5,105.5 L501.7,107.0 L503.0,108.5 L504.3,109.9 L505.7,111.4 L507.1,112.8 L508.5,114.1 L509.9,115.5 L511.4,116.8 L512.8,118.2 L514.4,119.4 L515.9,120.7 L517.4,122.0 L519.0,123.2 L520.6,124.4 L522.2,125.6 L523.8,126.8 L525.4,128.0 L527.1,129.1 L528.8,130.2 L530.4,131.4 L532.1,132.4 L533.8,133.5 L535.6,134.6 L537.3,135.6 L539.0,136.7 L540.8,137.7 L542.5,138.7 L544.3,139.7 L546.1,140.7 L547.9,141.7 L549.7,142.7 L551.5,143.7 L553.3,144.7 L555.1,145.6 L556.9,146.6 L558.7,147.5 L560.5,148.5 L562.3,149.5 L564.1,150.4 L565.9,151.4 L567.8,152.3 L569.6,153.3 L571.4,154.2 L573.2,155.2 L575.0,156.1 L576.8,157.1 L578.6,158.1 L580.4,159.0 L582.2,160.0 L584.0,161.0 L585.7,162.0 L587.5,163.0 L589.3,164.0 L591.0,165.1 L592.8,166.1 L594.5,167.2 L596.2,168.2 L597.9,169.3 L599.6,170.4 L601.3,171.5 L602.9,172.6 L604.6,173.8 L606.2,175.0 L607.8,176.1 L609.4,177.3 L611.0,178.6 L612.6,179.8 L614.1,181.1 L615.6,182.3 L617.1,183.7 L618.6,185.0 L620.1,186.3 L621.5,187.7 L622.9,189.1 L624.3,190.6 L625.0,300.0 L800.0,300.0 L800.0,-50.0 L477.3,-50.0Z" fill="#0082ff"/><path d="M500.3,8.4 L500.5,10.2 L500.7,11.9 L500.9,13.7 L501.1,15.6 L501.3,17.4 L501.5,19.3 L501.7,21.3 L501.9,23.2 L502.1,25.2 L502.3,27.2 L502.5,29.2 L502.8,31.2 L503.0,33.3 L503.3,35.4 L503.5,37.5 L503.8,39.5 L504.1,41.6 L504.4,43.8 L504.7,45.9 L505.0,48.0 L505.4,50.1 L505.7,52.2 L506.1,54.3 L506.6,56.4 L507.0,58.5 L507.5,60.6 L507.9,62.6 L508.5,64.7 L509.0,66.7 L509.6,68.7 L510.2,70.7 L510.8,72.7 L511.5,74.6 L512.2,76.6 L513.0,78.4 L513.7,80.3 L514.5,82.1 L515.4,83.9 L516.3,85.6 L517.2,87.4 L518.2,89.0 L519.2,90.6 L520.3,92.2 L521.4,93.7 L522.6,95.2 L523.8,96.6 L525.1,98.0 L526.4,99.3 L527.7,100.6 L529.2,101.8 L530.6,102.9 L532.1,104.0 L533.7,105.1 L535.3,106.0 L536.9,107.0 L538.6,107.9 L540.3,108.7 L542.1,109.6 L543.9,110.3 L545.7,111.1 L547.5,111.8 L549.4,112.5 L551.3,113.1 L553.3,113.7 L555.2,114.3 L557.2,114.9 L559.2,115.5 L561.2,116.0 L563.2,116.5 L565.3,117.1 L567.3,117.6 L569.4,118.0 L571.4,118.5 L573.5,119.0 L575.6,119.5 L577.6,119.9 L579.7,120.4 L581.8,120.9 L583.9,121.4 L585.9,121.9 L588.0,122.4 L590.0,122.9 L592.1,123.4 L594.1,124.0 L596.1,124.6 L598.1,125.1 L600.1,125.8 L602.0,126.4 L603.9,127.1 L605.8,127.8 L607.7,128.5 L609.6,129.3 L611.4,130.1 L613.2,130.9 L614.9,131.8 L616.6,132.7 L618.3,133.7 L620.0,134.7 L621.5,135.7 L623.1,136.9 L624.6,138.0 L800.0,138.0 L800.0,-50.0 L500.5,-50.0Z" fill="#00aaff"/><path d="M500.2,7.8 L501.8,8.9 L503.5,10.0 L505.2,11.2 L506.9,12.3 L508.6,13.4 L510.3,14.5 L512.0,15.7 L513.7,16.8 L515.4,17.9 L517.1,19.0 L518.8,20.1 L520.5,21.2 L522.2,22.3 L523.9,23.4 L525.6,24.5 L527.3,25.6 L529.0,26.7 L530.7,27.8 L532.5,28.9 L534.2,30.0 L535.9,31.0 L537.6,32.1 L539.3,33.2 L541.1,34.3 L542.8,35.3 L544.5,36.4 L546.2,37.5 L548.0,38.5 L549.7,39.6 L551.4,40.7 L553.2,41.7 L554.9,42.8 L556.6,43.8 L558.4,44.9 L560.1,45.9 L561.9,47.0 L563.6,48.0 L565.3,49.1 L567.1,50.1 L568.8,51.1 L570.6,52.2 L572.3,53.2 L574.1,54.3 L575.8,55.3 L577.6,56.3 L579.3,57.4 L581.1,58.4 L582.8,59.4 L584.6,60.5 L586.3,61.5 L588.1,62.5 L589.8,63.5 L591.6,64.6 L593.3,65.6 L595.1,66.6 L596.9,67.6 L598.6,68.6 L600.4,69.7 L602.1,70.7 L603.9,71.7 L605.7,72.7 L607.4,73.7 L609.2,74.7 L611.0,75.8 L612.7,76.8 L614.5,77.8 L616.3,78.8 L618.0,79.8 L619.8,80.8 L621.6,81.8 L623.3,82.9 L625.1,83.9 L800.0,84.0 L800.0,-50.0 L500.0,-50.0Z" fill="#00c8ff"/><path d="M526.0,8.0 L527.8,9.0 L529.5,10.0 L531.3,11.1 L533.1,12.1 L534.9,13.1 L536.6,14.1 L538.4,15.2 L540.2,16.2 L541.9,17.2 L543.7,18.2 L545.5,19.2 L547.3,20.3 L549.0,21.3 L550.8,22.3 L552.6,23.3 L554.3,24.3 L556.1,25.4 L557.9,26.4 L559.6,27.4 L561.4,28.4 L563.2,29.5 L565.0,30.5 L566.7,31.5 L568.5,32.5 L570.3,33.6 L572.0,34.6 L573.8,35.6 L575.6,36.6 L577.3,37.7 L579.1,38.7 L580.9,39.7 L582.6,40.7 L584.4,41.8 L586.2,42.8 L587.9,43.8 L589.7,44.8 L591.5,45.9 L593.3,46.9 L595.0,47.9 L596.8,49.0 L598.5,50.0 L600.3,51.0 L602.1,52.0 L603.8,53.1 L605.6,54.1 L607.4,55.1 L609.1,56.2 L610.9,57.2 L612.7,58.2 L614.4,59.3 L616.2,60.3 L618.0,61.3 L619.7,62.4 L621.5,63.4 L623.2,64.5 L625.0,65.5 L800.0,65.5 L800.0,-50.0 L526.0,-50.0Z" fill="#00ebff"/><path d="M543.0,8.0 L544.8,9.0 L546.6,10.1 L548.4,11.1 L550.1,12.1 L551.9,13.1 L553.7,14.2 L555.5,15.2 L557.3,16.2 L559.1,17.3 L560.8,18.3 L562.6,19.3 L564.4,20.4 L566.2,21.4 L568.0,22.4 L569.8,23.4 L571.5,24.5 L573.3,25.5 L575.1,26.5 L576.9,27.6 L578.7,28.6 L580.5,29.6 L582.3,30.7 L584.0,31.7 L585.8,32.7 L587.6,33.8 L589.4,34.8 L591.2,35.8 L592.9,36.9 L594.7,37.9 L596.5,38.9 L598.3,40.0 L600.1,41.0 L601.9,42.0 L603.6,43.1 L605.4,44.1 L607.2,45.1 L609.0,46.2 L610.8,47.2 L612.5,48.2 L614.3,49.3 L616.1,50.3 L617.9,51.3 L619.7,52.4 L621.4,53.4 L623.2,54.5 L625.0,55.5 L800.0,55.5 L800.0,-50.0 L543.0,-50.0Z" fill="#00f5c8"/><path d="M554.0,8.0 L555.8,9.1 L557.6,10.1 L559.5,11.2 L561.3,12.2 L563.1,13.3 L564.9,14.3 L566.7,15.4 L568.6,16.4 L570.4,17.5 L572.2,18.5 L574.0,19.6 L575.8,20.6 L577.7,21.7 L579.5,22.7 L581.3,23.8 L583.1,24.8 L585.0,25.8 L586.8,26.9 L588.6,27.9 L590.4,29.0 L592.3,30.0 L594.1,31.1 L595.9,32.1 L597.7,33.2 L599.6,34.2 L601.4,35.3 L603.2,36.3 L605.0,37.4 L606.8,38.4 L608.7,39.5 L610.5,40.5 L612.3,41.6 L614.1,42.6 L615.9,43.7 L617.7,44.7 L619.6,45.8 L621.4,46.9 L623.2,47.9 L625.0,49.0 L800.0,49.0 L800.0,-50.0 L554.0,-50.0Z" fill="#00eb82"/><path d="M568.0,8.0 L569.8,9.1 L571.7,10.1 L573.5,11.2 L575.4,12.3 L577.2,13.3 L579.0,14.4 L580.9,15.4 L582.7,16.5 L584.6,17.6 L586.4,18.6 L588.2,19.7 L590.1,20.7 L591.9,21.8 L593.8,22.9 L595.6,23.9 L597.4,25.0 L599.3,26.0 L601.1,27.1 L603.0,28.2 L604.8,29.2 L606.6,30.3 L608.5,31.4 L610.3,32.4 L612.2,33.5 L614.0,34.6 L615.8,35.6 L617.7,36.7 L619.5,37.8 L621.3,38.8 L623.2,39.9 L625.0,41.0 L800.0,41.0 L800.0,-50.0 L568.0,-50.0Z" fill="#14e63c"/><path d="M414.5,8.0 L414.5,10.0 L414.5,12.0 L414.6,14.0 L414.7,16.0 L414.8,18.0 L414.9,20.0 L414.9,22.0 L415.1,24.0 L415.2,26.0 L415.3,28.0 L415.5,30.0 L415.7,32.0 L416.0,34.0 L416.2,36.0 L416.5,38.0 L416.8,40.0 L417.1,42.0 L417.5,44.0 L418.0,46.0 L418.6,48.0 L419.3,50.0 L420.0,52.0 L420.7,54.0 L421.3,56.0 L422.0,58.0 L422.7,60.0 L423.5,62.0 L424.3,64.0 L425.1,66.0 L425.9,68.0 L426.8,70.0 L427.7,72.0 L428.7,74.0 L429.7,76.0 L430.8,78.0 L431.9,80.0 L433.0,82.0 L434.2,84.0 L435.5,86.0 L436.9,88.0 L438.3,90.0 L439.8,92.0 L441.3,94.0 L442.8,96.0 L444.4,98.0 L446.0,100.0 L447.5,102.0 L449.2,104.0 L450.8,106.0 L452.5,108.0 L454.3,110.0 L456.2,112.0 L458.2,114.0 L460.3,116.0 L462.6,118.0 L465.0,120.0 L467.5,122.0 L470.2,124.0 L472.9,126.0 L475.8,128.0 L478.8,130.0 L481.9,132.0 L485.1,134.0 L488.3,136.0 L491.3,138.0 L494.4,140.0 L498.0,142.0 L503.2,144.0 L508.8,146.0 L513.1,148.0 L516.7,150.0 L520.0,152.0 L523.4,154.0 L527.1,156.0 L530.9,158.0 L534.6,160.0 L538.3,162.0 L541.7,164.0 L544.9,166.0" fill="none" stroke="#000" stroke-width="0.5" stroke-opacity="0.85"/><path d="M563.3,178.0 L566.2,180.0 L569.2,182.0 L572.1,184.0 L575.1,186.0 L578.0,188.0 L580.9,190.0" fill="none" stroke="#000" stroke-width="0.5" stroke-opacity="0.85"/><path d="M383.4,8.0 L383.5,10.0 L383.6,12.0 L383.7,14.0 L383.8,16.0 L384.0,18.0 L384.1,20.0 L384.2,22.0 L384.5,24.0 L385.0,26.0 L385.5,28.0 L386.0,30.0 L386.5,32.0 L387.1,34.0 L387.7,36.0 L388.2,38.0 L388.8,40.0 L389.4,42.0 L390.0,44.0 L390.7,46.0 L391.4,48.0 L392.2,50.0 L392.9,52.0 L393.7,54.0 L394.5,56.0 L395.3,58.0 L396.1,60.0 L397.0,62.0 L397.9,64.0 L398.9,66.0 L399.9,68.0 L400.6,70.0 L401.4,72.0 L402.4,74.0 L403.5,76.0 L404.8,78.0 L406.1,80.0 L407.5,82.0 L408.8,84.0 L410.2,86.0 L411.6,88.0 L413.1,90.0 L414.7,92.0 L416.2,94.0 L417.8,96.0 L419.5,98.0 L421.2,100.0 L422.9,102.0 L424.7,104.0 L426.5,106.0 L428.3,108.0 L430.3,110.0 L432.3,112.0 L434.4,114.0 L436.6,116.0 L439.0,118.0 L441.4,120.0 L444.0,122.0 L446.7,124.0 L449.4,126.0 L452.3,128.0 L455.3,130.0 L458.4,132.0 L461.7,134.0 L465.2,136.0 L469.0,138.0 L473.1,140.0 L477.8,142.0 L483.7,144.0 L489.9,146.0 L495.0,148.0 L499.7,150.0 L504.3,152.0 L509.1,154.0 L513.8,156.0 L518.1,158.0 L522.3,160.0 L526.2,162.0 L529.8,164.0 L533.2,166.0" fill="none" stroke="#000" stroke-width="0.5" stroke-opacity="0.5"/><path d="M551.3,178.0 L554.1,180.0 L556.9,182.0 L559.6,184.0 L562.3,186.0 L565.0,188.0 L567.6,190.0" fill="none" stroke="#000" stroke-width="0.5" stroke-opacity="0.5"/><path d="M500.2,7.8 L501.8,8.9 L503.5,10.0 L505.2,11.2 L506.9,12.3 L508.6,13.4 L510.3,14.5 L512.0,15.7 L513.7,16.8 L515.4,17.9 L517.1,19.0 L518.8,20.1 L520.5,21.2 L522.2,22.3 L523.9,23.4 L525.6,24.5 L527.3,25.6 L529.0,26.7 L530.7,27.8 L532.5,28.9 L534.2,30.0 L535.9,31.0 L537.6,32.1 L539.3,33.2 L541.1,34.3 L542.8,35.3 L544.5,36.4 L546.2,37.5 L548.0,38.5 L549.7,39.6 L551.4,40.7 L553.2,41.7 L554.9,42.8 L556.6,43.8 L558.4,44.9 L560.1,45.9 L561.9,47.0 L563.6,48.0 L565.3,49.1 L567.1,50.1 L568.8,51.1" fill="none" stroke="#000" stroke-width="0.5" stroke-opacity="0.85"/><path d="M588.1,62.5 L589.8,63.5 L591.6,64.6 L593.3,65.6 L595.1,66.6 L596.9,67.6 L598.6,68.6 L600.4,69.7 L602.1,70.7 L603.9,71.7 L605.7,72.7 L607.4,73.7 L609.2,74.7 L611.0,75.8 L612.7,76.8 L614.5,77.8 L616.3,78.8 L618.0,79.8 L619.8,80.8 L621.6,81.8 L623.3,82.9 L625.1,83.9" fill="none" stroke="#000" stroke-width="0.5" stroke-opacity="0.85"/><text stroke="#000" stroke-width="0.22" x="578.8" y="59.6" font-size="9.5" text-anchor="middle" transform="rotate(29 578.8 56.5)" >0.50</text><text stroke="#000" stroke-width="0.22" x="553.1" y="173.5" font-size="9.3" text-anchor="middle" transform="rotate(29 553.1 170.4)" >0.10</text><text stroke="#000" stroke-width="0.22" x="542.7" y="175.9" font-size="9.3" text-anchor="middle" transform="rotate(29 542.7 172.8)" >0.05</text></g><g clip-path="url(#cc)"><rect x="55" y="238.5" width="235.5" height="160.0" fill="#ffb400"/><path d="M233.0,200.0 L232.9,230.4 L234.0,232.0 L235.0,233.7 L236.0,235.4 L237.0,237.1 L238.0,238.8 L239.0,240.6 L239.9,242.3 L240.8,244.1 L241.7,245.9 L242.6,247.7 L243.5,249.5 L244.3,251.3 L245.2,253.1 L246.0,255.0 L246.8,256.8 L247.5,258.7 L248.3,260.6 L249.0,262.5 L249.7,264.4 L250.4,266.3 L251.1,268.2 L251.7,270.2 L252.3,272.1 L252.9,274.1 L253.5,276.1 L254.1,278.0 L254.6,280.0 L255.1,282.0 L255.6,284.0 L256.1,286.0 L256.5,288.0 L257.0,290.0 L257.4,292.0 L257.8,294.1 L258.1,296.1 L258.5,298.1 L258.8,300.2 L259.1,302.2 L259.3,304.3 L259.6,306.3 L259.8,308.4 L260.0,310.4 L260.2,312.5 L260.3,314.5 L260.5,316.6 L260.6,318.7 L260.6,320.7 L260.7,322.8 L260.7,324.8 L260.7,326.9 L260.7,328.9 L260.7,331.0 L260.6,333.1 L260.5,335.1 L260.4,337.2 L260.2,339.2 L260.1,341.2 L259.9,343.3 L259.6,345.3 L259.4,347.4 L259.1,349.4 L258.8,351.4 L258.5,353.4 L258.2,355.4 L257.8,357.4 L257.4,359.4 L256.9,361.4 L256.5,363.4 L256.0,365.4 L255.5,367.3 L254.9,369.3 L254.4,371.2 L253.8,373.2 L253.2,375.1 L252.5,377.0 L251.8,378.9 L251.1,380.8 L250.4,382.7 L249.6,384.6 L248.8,386.4 L248.0,388.3 L247.2,390.1 L246.3,391.9 L245.4,393.7 L244.4,395.5 L243.5,397.3 L242.5,399.1 L241.5,400.8 L240.4,402.5 L239.3,404.3 L238.2,406.0 L238.0,450.0 L0.0,450.0 L0.0,200.0Z" fill="#ffff14"/><path d="M204.0,200.0 L204.1,230.3 L205.6,231.7 L207.0,233.1 L208.3,234.5 L209.7,236.0 L211.0,237.4 L212.2,239.0 L213.5,240.5 L214.7,242.1 L215.8,243.7 L217.0,245.3 L218.1,246.9 L219.1,248.6 L220.2,250.3 L221.2,252.0 L222.1,253.8 L223.1,255.5 L224.0,257.3 L224.8,259.1 L225.7,260.9 L226.5,262.8 L227.2,264.6 L228.0,266.5 L228.7,268.4 L229.4,270.3 L230.0,272.2 L230.7,274.1 L231.3,276.1 L231.8,278.0 L232.4,280.0 L232.9,282.0 L233.4,284.0 L233.8,286.0 L234.2,288.0 L234.6,290.0 L235.0,292.1 L235.3,294.1 L235.6,296.1 L235.9,298.2 L236.2,300.2 L236.4,302.3 L236.6,304.4 L236.8,306.4 L236.9,308.5 L237.0,310.5 L237.1,312.6 L237.2,314.7 L237.2,316.7 L237.2,318.8 L237.2,320.9 L237.2,322.9 L237.2,325.0 L237.1,327.0 L237.0,329.0 L236.8,331.1 L236.7,333.1 L236.5,335.1 L236.3,337.1 L236.1,339.1 L235.8,341.1 L235.6,343.1 L235.3,345.1 L235.0,347.0 L234.6,349.0 L234.3,350.9 L233.9,352.9 L233.4,354.8 L233.0,356.7 L232.5,358.6 L232.0,360.5 L231.5,362.4 L230.9,364.3 L230.3,366.1 L229.7,368.0 L229.0,369.8 L228.3,371.7 L227.6,373.5 L226.9,375.3 L226.1,377.2 L225.2,379.0 L224.4,380.8 L223.5,382.6 L222.6,384.4 L221.6,386.1 L220.6,387.9 L219.6,389.7 L218.6,391.5 L217.6,393.2 L216.5,395.0 L215.5,396.8 L214.4,398.6 L213.4,400.4 L212.3,402.2 L211.3,404.0 L210.2,405.8 L211.0,450.0 L0.0,450.0 L0.0,200.0Z" fill="#96ff00"/><path d="M92.4,232.7 L93.5,234.1 L94.6,235.5 L95.8,236.9 L97.1,238.2 L98.5,239.5 L99.9,240.8 L101.4,242.0 L102.9,243.3 L104.5,244.4 L106.2,245.6 L107.9,246.7 L109.6,247.8 L111.4,248.8 L113.3,249.8 L115.2,250.7 L117.1,251.6 L119.0,252.5 L121.0,253.3 L123.0,254.0 L125.0,254.8 L127.0,255.4 L129.1,256.0 L131.2,256.5 L133.2,257.0 L135.3,257.4 L137.4,257.8 L139.5,258.1 L141.6,258.3 L143.7,258.5 L145.7,258.6 L147.8,258.6 L149.8,258.6 L151.9,258.4 L153.9,258.2 L155.9,258.0 L157.8,257.6 L159.7,257.2 L161.6,256.7 L163.5,256.1 L165.3,255.4 L167.1,254.6 L168.8,253.8 L170.5,252.8 L172.1,251.8 L173.6,250.7 L175.1,249.5 L176.6,248.1 L178.0,246.7 L179.3,245.2 L180.5,243.6 L181.7,241.9 L182.8,240.0 L183.8,238.1 L184.7,236.0 L185.6,233.9 L186.3,231.6 L186.0,220.0 L93.0,220.0Z" fill="#ffff14"/><path d="M51.0,200.0 L50.7,230.1 L52.6,230.8 L54.5,231.5 L56.4,232.2 L58.3,233.0 L60.2,233.8 L62.0,234.6 L63.9,235.5 L65.7,236.3 L67.5,237.2 L69.3,238.1 L71.1,239.1 L72.9,240.0 L74.7,241.0 L76.5,242.0 L78.2,243.0 L80.0,244.0 L81.7,245.1 L83.5,246.1 L85.2,247.2 L86.9,248.2 L88.6,249.3 L90.4,250.4 L92.1,251.5 L93.8,252.6 L95.5,253.7 L97.2,254.8 L99.0,255.9 L100.7,257.0 L102.4,258.0 L104.1,259.1 L105.8,260.2 L107.6,261.3 L109.3,262.4 L111.0,263.4 L112.8,264.5 L114.5,265.5 L116.3,266.5 L118.1,267.5 L119.8,268.5 L121.6,269.5 L123.4,270.4 L125.2,271.3 L127.0,272.3 L128.8,273.1 L130.7,274.0 L132.5,274.8 L134.4,275.7 L136.3,276.4 L138.2,277.2 L140.1,277.9 L142.0,278.6 L143.9,279.3 L145.8,280.0 L147.8,280.6 L149.7,281.3 L151.7,281.9 L153.6,282.5 L155.6,283.0 L157.5,283.6 L159.5,284.1 L161.4,284.7 L163.4,285.2 L165.4,285.7 L167.3,286.2 L169.3,286.7 L171.2,287.1 L173.2,287.6 L175.1,288.1 L177.0,288.5 L178.9,289.0 L180.8,289.4 L182.7,289.9 L184.6,290.4 L186.4,291.0 L188.2,291.6 L190.0,292.2 L191.7,292.9 L193.4,293.8 L195.1,294.7 L196.7,295.7 L198.2,296.8 L199.7,298.0 L201.2,299.2 L202.6,300.6 L203.9,302.0 L205.2,303.5 L206.4,305.1 L207.6,306.7 L208.8,308.4 L209.8,310.2 L210.8,312.0 L211.8,313.8 L212.7,315.7 L213.6,317.7 L214.3,319.6 L215.1,321.6 L215.7,323.7 L216.3,325.7 L216.9,327.8 L217.4,329.9 L217.8,332.0 L218.2,334.1 L218.5,336.2 L218.7,338.3 L218.9,340.4 L219.0,342.5 L219.0,344.6 L219.0,346.7 L218.9,348.8 L218.7,350.8 L218.5,352.8 L218.2,354.7 L217.8,356.7 L217.4,358.6 L216.9,360.4 L216.4,362.3 L215.8,364.1 L215.1,365.9 L214.4,367.7 L213.7,369.4 L212.9,371.2 L212.1,372.9 L211.3,374.7 L210.5,376.4 L209.6,378.1 L208.7,379.9 L207.9,381.6 L207.0,383.3 L206.1,385.1 L205.2,386.9 L204.4,388.7 L203.5,390.5 L202.7,392.3 L201.9,394.2 L201.1,396.1 L200.3,398.0 L199.6,400.0 L198.9,402.0 L198.3,404.0 L197.7,406.1 L198.0,450.0 L0.0,450.0 L0.0,200.0Z" fill="#50f500"/><path d="M45.0,200.0 L45.4,231.4 L47.1,232.6 L48.7,233.7 L50.4,234.9 L52.1,236.0 L53.8,237.2 L55.4,238.3 L57.1,239.4 L58.8,240.5 L60.5,241.6 L62.2,242.7 L63.9,243.8 L65.7,244.9 L67.4,245.9 L69.1,247.0 L70.8,248.0 L72.6,249.1 L74.3,250.1 L76.0,251.1 L77.8,252.2 L79.5,253.2 L81.3,254.2 L83.0,255.2 L84.8,256.2 L86.5,257.2 L88.3,258.2 L90.0,259.2 L91.8,260.2 L93.5,261.2 L95.3,262.2 L97.1,263.2 L98.8,264.2 L100.6,265.2 L102.4,266.2 L104.1,267.2 L105.9,268.2 L107.7,269.1 L109.5,270.1 L111.2,271.1 L113.0,272.1 L114.8,273.1 L116.5,274.1 L118.3,275.1 L120.1,276.1 L121.8,277.1 L123.6,278.1 L125.4,279.1 L127.1,280.1 L128.9,281.1 L130.7,282.2 L132.4,283.2 L134.2,284.2 L135.9,285.3 L137.7,286.3 L139.4,287.3 L141.2,288.4 L142.9,289.5 L144.7,290.5 L146.4,291.6 L148.1,292.7 L149.8,293.8 L151.6,294.9 L153.3,296.0 L155.0,297.1 L156.7,298.3 L158.4,299.4 L160.1,300.6 L161.8,301.7 L163.5,302.9 L165.2,304.1 L166.9,305.3 L168.6,306.5 L170.3,307.7 L171.9,309.0 L173.6,310.2 L175.2,311.5 L176.9,312.7 L178.5,314.0 L180.2,315.3 L181.8,316.7 L183.4,318.0 L185.0,319.3 L186.5,320.7 L188.1,322.1 L189.5,323.5 L191.0,324.9 L192.4,326.4 L193.7,327.8 L195.0,329.3 L196.2,330.8 L197.3,332.3 L198.4,333.9 L199.4,335.5 L200.3,337.1 L201.1,338.7 L201.8,340.4 L202.4,342.0 L202.9,343.7 L203.3,345.5 L203.6,347.2 L203.8,349.0 L203.9,350.8 L204.0,352.6 L203.9,354.4 L203.8,356.3 L203.5,358.1 L203.2,360.0 L202.8,361.9 L202.3,363.8 L201.8,365.7 L201.1,367.6 L200.4,369.5 L199.7,371.4 L198.9,373.4 L198.0,375.3 L197.2,377.2 L196.2,379.2 L195.3,381.1 L194.4,383.0 L193.4,384.9 L192.5,386.9 L191.6,388.8 L190.7,390.7 L189.8,392.6 L188.9,394.5 L188.1,396.4 L187.4,398.3 L186.7,400.2 L186.0,402.0 L185.5,403.9 L185.0,405.7 L186.0,450.0 L0.0,450.0 L0.0,200.0Z" fill="#1eee00"/><path d="M45.0,200.0 L45.9,233.7 L47.3,235.1 L48.7,236.4 L50.2,237.7 L51.7,239.0 L53.2,240.3 L54.7,241.6 L56.2,242.9 L57.8,244.1 L59.3,245.3 L60.9,246.6 L62.5,247.8 L64.1,249.0 L65.7,250.1 L67.3,251.3 L69.0,252.5 L70.6,253.6 L72.3,254.7 L73.9,255.9 L75.6,257.0 L77.3,258.1 L79.0,259.2 L80.7,260.3 L82.4,261.4 L84.1,262.5 L85.8,263.5 L87.5,264.6 L89.3,265.6 L91.0,266.7 L92.8,267.7 L94.5,268.8 L96.3,269.8 L98.0,270.9 L99.8,271.9 L101.5,272.9 L103.3,274.0 L105.1,275.0 L106.8,276.0 L108.6,277.0 L110.4,278.1 L112.1,279.1 L113.9,280.1 L115.7,281.2 L117.4,282.2 L119.2,283.2 L120.9,284.3 L122.7,285.3 L124.5,286.4 L126.2,287.4 L128.0,288.5 L129.7,289.5 L131.4,290.6 L133.2,291.6 L134.9,292.7 L136.6,293.8 L138.3,294.9 L140.0,296.0 L141.7,297.1 L143.4,298.2 L145.1,299.3 L146.8,300.5 L148.4,301.6 L150.1,302.8 L151.7,304.0 L153.4,305.1 L155.0,306.3 L156.6,307.5 L158.2,308.7 L159.8,310.0 L161.4,311.2 L162.9,312.5 L164.5,313.8 L166.0,315.1 L167.5,316.4 L169.0,317.7 L170.5,319.0 L172.0,320.4 L173.4,321.8 L174.8,323.2 L176.3,324.6 L177.7,326.0 L179.0,327.5 L180.4,328.9 L181.7,330.4 L183.0,331.9 L184.3,333.5 L185.5,335.0 L186.7,336.6 L187.8,338.2 L188.8,339.8 L189.7,341.4 L190.6,343.1 L191.3,344.7 L191.9,346.4 L192.4,348.1 L192.8,349.9 L193.0,351.6 L193.1,353.4 L193.0,355.1 L192.7,356.9 L192.3,358.7 L191.7,360.6 L191.0,362.4 L190.1,364.3 L189.1,366.1 L188.1,368.0 L186.9,369.8 L185.8,371.7 L184.5,373.5 L183.3,375.4 L182.1,377.2 L180.9,379.1 L179.7,380.9 L178.6,382.8 L177.5,384.6 L176.5,386.5 L175.7,388.4 L174.9,390.2 L174.3,392.1 L173.8,394.0 L173.6,395.9 L173.5,397.9 L173.6,399.8 L173.9,401.8 L174.5,403.8 L175.3,405.9 L174.5,450.0 L0.0,450.0 L0.0,200.0Z" fill="#00f055"/><path d="M45.0,200.0 L44.5,242.4 L46.4,243.6 L48.3,244.8 L50.2,246.0 L52.1,247.1 L53.9,248.3 L55.7,249.4 L57.5,250.6 L59.2,251.7 L61.0,252.8 L62.7,254.0 L64.5,255.1 L66.2,256.2 L67.8,257.3 L69.5,258.4 L71.2,259.5 L72.8,260.6 L74.5,261.7 L76.1,262.8 L77.7,263.9 L79.3,265.0 L80.9,266.1 L82.5,267.2 L84.1,268.3 L85.7,269.4 L87.3,270.5 L88.9,271.6 L90.5,272.7 L92.1,273.7 L93.7,274.8 L95.3,275.9 L96.9,277.0 L98.4,278.1 L100.0,279.2 L101.6,280.3 L103.3,281.3 L104.9,282.4 L106.5,283.5 L108.1,284.6 L109.8,285.7 L111.4,286.8 L113.1,287.9 L114.8,289.0 L116.4,290.1 L118.1,291.2 L119.9,292.3 L121.6,293.4 L123.3,294.5 L125.1,295.7 L126.9,296.8 L128.7,297.9 L130.5,299.1 L132.4,300.2 L134.2,301.3 L136.1,302.5 L138.0,303.7 L139.9,304.8 L141.7,306.0 L143.6,307.2 L145.5,308.4 L147.3,309.6 L149.2,310.8 L151.0,312.1 L152.8,313.3 L154.5,314.6 L156.3,315.9 L157.9,317.2 L159.6,318.5 L161.2,319.9 L162.8,321.2 L164.3,322.6 L165.8,324.0 L167.2,325.5 L168.5,326.9 L169.8,328.4 L171.0,329.9 L172.2,331.4 L173.2,333.0 L174.2,334.6 L175.1,336.2 L175.9,337.8 L176.7,339.5 L177.3,341.2 L177.8,343.0 L178.3,344.7 L178.6,346.5 L178.9,348.4 L179.1,350.2 L179.1,352.1 L179.1,353.9 L179.0,355.8 L178.8,357.7 L178.6,359.6 L178.2,361.6 L177.8,363.5 L177.3,365.4 L176.7,367.4 L176.0,369.3 L175.3,371.2 L174.4,373.1 L173.6,375.0 L172.7,376.9 L171.8,378.9 L170.8,380.8 L169.9,382.7 L169.0,384.6 L168.1,386.5 L167.2,388.4 L166.5,390.3 L165.7,392.2 L165.1,394.2 L164.5,396.1 L164.1,398.0 L163.8,399.9 L163.6,401.9 L163.6,403.8 L163.7,405.8 L164.0,450.0 L0.0,450.0 L0.0,200.0Z" fill="#00f2cd"/><path d="M45.0,200.0 L44.7,249.6 L46.5,250.8 L48.4,252.0 L50.2,253.2 L51.9,254.3 L53.7,255.5 L55.5,256.7 L57.2,257.9 L58.9,259.1 L60.6,260.2 L62.2,261.4 L63.9,262.6 L65.5,263.7 L67.2,264.9 L68.8,266.0 L70.4,267.2 L72.0,268.3 L73.6,269.5 L75.2,270.6 L76.8,271.8 L78.4,272.9 L79.9,274.1 L81.5,275.2 L83.1,276.3 L84.7,277.5 L86.2,278.6 L87.8,279.8 L89.4,280.9 L91.0,282.0 L92.6,283.1 L94.2,284.3 L95.8,285.4 L97.4,286.5 L99.0,287.6 L100.7,288.8 L102.3,289.9 L104.0,291.0 L105.7,292.1 L107.4,293.2 L109.1,294.4 L110.8,295.5 L112.6,296.6 L114.3,297.7 L116.1,298.8 L117.9,299.9 L119.8,301.0 L121.7,302.1 L123.5,303.3 L125.4,304.4 L127.3,305.5 L129.3,306.6 L131.2,307.8 L133.1,308.9 L135.0,310.0 L136.9,311.2 L138.8,312.4 L140.6,313.6 L142.4,314.8 L144.2,316.0 L146.0,317.2 L147.7,318.5 L149.4,319.7 L151.0,321.0 L152.5,322.3 L154.0,323.7 L155.5,325.1 L156.9,326.4 L158.2,327.9 L159.4,329.3 L160.5,330.8 L161.6,332.3 L162.5,333.9 L163.4,335.4 L164.2,337.1 L164.8,338.7 L165.4,340.4 L165.8,342.1 L166.2,343.9 L166.4,345.7 L166.6,347.5 L166.6,349.4 L166.6,351.3 L166.4,353.2 L166.2,355.1 L165.9,357.0 L165.6,358.9 L165.1,360.9 L164.6,362.9 L164.0,364.8 L163.3,366.8 L162.6,368.8 L161.9,370.7 L161.1,372.7 L160.2,374.7 L159.4,376.7 L158.6,378.6 L157.7,380.6 L156.9,382.6 L156.1,384.5 L155.3,386.5 L154.6,388.4 L154.0,390.4 L153.4,392.3 L152.9,394.3 L152.4,396.2 L152.1,398.1 L151.9,400.1 L151.8,402.0 L151.8,403.9 L152.0,405.8 L152.0,450.0 L0.0,450.0 L0.0,200.0Z" fill="#00c8ff"/><path d="M45.0,200.0 L46.2,257.0 L47.3,258.4 L48.5,259.8 L49.7,261.2 L51.0,262.5 L52.3,263.8 L53.7,265.1 L55.1,266.4 L56.5,267.6 L58.0,268.9 L59.5,270.1 L61.1,271.3 L62.7,272.4 L64.3,273.6 L66.0,274.7 L67.7,275.9 L69.4,277.0 L71.1,278.1 L72.9,279.2 L74.6,280.2 L76.4,281.3 L78.3,282.4 L80.1,283.4 L81.9,284.5 L83.8,285.5 L85.7,286.6 L87.5,287.6 L89.4,288.6 L91.3,289.7 L93.2,290.7 L95.1,291.7 L97.0,292.8 L98.9,293.8 L100.7,294.8 L102.6,295.9 L104.5,297.0 L106.4,298.0 L108.2,299.1 L110.1,300.2 L111.9,301.3 L113.7,302.4 L115.5,303.5 L117.2,304.6 L119.0,305.7 L120.7,306.9 L122.4,308.1 L124.1,309.3 L125.7,310.5 L127.3,311.7 L128.9,312.9 L130.5,314.2 L132.0,315.5 L133.4,316.8 L134.9,318.2 L136.3,319.5 L137.6,320.9 L138.9,322.3 L140.2,323.8 L141.4,325.3 L142.5,326.8 L143.6,328.3 L144.7,329.9 L145.7,331.5 L146.6,333.2 L147.5,334.8 L148.3,336.6 L149.0,338.3 L149.7,340.1 L150.4,341.9 L150.9,343.8 L151.4,345.7 L151.8,347.6 L152.1,349.5 L152.3,351.4 L152.4,353.4 L152.5,355.4 L152.4,357.3 L152.3,359.3 L152.0,361.3 L151.7,363.2 L151.2,365.2 L150.6,367.2 L150.0,369.1 L149.2,371.0 L148.4,373.0 L147.5,374.9 L146.6,376.8 L145.7,378.7 L144.7,380.7 L143.8,382.6 L142.8,384.5 L141.9,386.4 L141.1,388.3 L140.3,390.3 L139.6,392.2 L139.0,394.1 L138.5,396.1 L138.1,398.0 L137.8,400.0 L137.7,401.9 L137.8,403.9 L138.0,405.9 L138.0,450.0 L0.0,450.0 L0.0,200.0Z" fill="#006cff"/><path d="M45.0,200.0 L45.3,271.4 L46.9,272.6 L48.6,273.8 L50.2,275.0 L51.8,276.2 L53.4,277.4 L55.0,278.5 L56.6,279.7 L58.2,280.8 L59.8,281.9 L61.4,283.0 L63.0,284.1 L64.6,285.2 L66.2,286.3 L67.9,287.3 L69.5,288.4 L71.2,289.5 L72.8,290.5 L74.5,291.6 L76.2,292.7 L77.9,293.8 L79.6,294.8 L81.3,295.9 L83.1,297.0 L84.9,298.1 L86.6,299.2 L88.5,300.3 L90.3,301.5 L92.1,302.6 L94.0,303.7 L95.9,304.9 L97.7,306.1 L99.6,307.3 L101.4,308.5 L103.3,309.7 L105.1,311.0 L106.9,312.2 L108.6,313.5 L110.4,314.8 L112.1,316.1 L113.7,317.5 L115.3,318.8 L116.9,320.2 L118.4,321.6 L119.9,323.0 L121.2,324.5 L122.5,326.0 L123.8,327.5 L124.9,329.0 L126.0,330.5 L127.0,332.1 L127.9,333.7 L128.6,335.4 L129.3,337.0 L129.9,338.7 L130.4,340.4 L130.7,342.2 L131.0,344.0 L131.1,345.8 L131.2,347.6 L131.1,349.5 L131.0,351.3 L130.8,353.2 L130.5,355.1 L130.2,357.1 L129.8,359.0 L129.3,361.0 L128.8,362.9 L128.3,364.9 L127.7,366.9 L127.0,368.9 L126.4,370.9 L125.7,372.9 L125.0,374.9 L124.3,376.9 L123.6,378.9 L122.9,380.8 L122.2,382.8 L121.5,384.8 L120.8,386.8 L120.2,388.7 L119.6,390.7 L119.0,392.6 L118.4,394.5 L117.9,396.4 L117.5,398.3 L117.1,400.1 L116.7,402.0 L116.5,403.8 L116.3,405.6 L117.0,450.0 L0.0,450.0 L0.0,200.0Z" fill="#0a0afa"/><path d="M45.0,200.0 L45.7,286.3 L47.0,287.3 L48.3,288.4 L49.7,289.4 L51.1,290.4 L52.6,291.4 L54.2,292.4 L55.8,293.5 L57.5,294.5 L59.2,295.6 L61.0,296.6 L62.8,297.7 L64.6,298.8 L66.5,299.9 L68.3,301.0 L70.2,302.1 L72.1,303.2 L74.0,304.4 L75.9,305.5 L77.8,306.7 L79.7,307.9 L81.6,309.1 L83.5,310.3 L85.3,311.6 L87.2,312.8 L88.9,314.1 L90.7,315.4 L92.4,316.7 L94.1,318.1 L95.7,319.5 L97.3,320.8 L98.8,322.3 L100.3,323.7 L101.6,325.2 L102.9,326.7 L104.2,328.2 L105.3,329.8 L106.4,331.3 L107.4,333.0 L108.3,334.6 L109.0,336.3 L109.7,338.0 L110.3,339.7 L110.7,341.5 L111.1,343.3 L111.3,345.1 L111.5,347.0 L111.5,348.9 L111.5,350.8 L111.4,352.7 L111.2,354.7 L110.9,356.6 L110.6,358.6 L110.2,360.6 L109.7,362.6 L109.2,364.6 L108.7,366.6 L108.1,368.6 L107.5,370.6 L106.8,372.6 L106.1,374.6 L105.4,376.6 L104.7,378.6 L103.9,380.6 L103.2,382.5 L102.5,384.5 L101.7,386.4 L101.1,388.4 L100.4,390.3 L99.8,392.2 L99.3,394.2 L98.8,396.1 L98.4,398.0 L98.1,400.0 L97.9,401.9 L97.9,403.8 L97.9,405.8 L98.0,450.0 L0.0,450.0 L0.0,200.0Z" fill="#3700e1"/><path d="M45.0,200.0 L44.0,302.3 L46.1,303.1 L48.2,304.0 L50.2,305.0 L52.2,305.9 L54.2,307.0 L56.1,308.1 L58.0,309.2 L59.9,310.4 L61.7,311.6 L63.5,312.8 L65.2,314.1 L66.9,315.5 L68.5,316.8 L70.1,318.3 L71.6,319.7 L73.0,321.2 L74.4,322.7 L75.7,324.2 L77.0,325.8 L78.2,327.4 L79.3,329.1 L80.4,330.7 L81.3,332.4 L82.2,334.1 L83.1,335.9 L83.8,337.7 L84.4,339.4 L85.0,341.3 L85.5,343.1 L85.9,344.9 L86.2,346.8 L86.4,348.7 L86.5,350.6 L86.5,352.5 L86.4,354.4 L86.2,356.3 L85.9,358.3 L85.6,360.3 L85.2,362.2 L84.7,364.2 L84.2,366.2 L83.6,368.2 L83.0,370.2 L82.4,372.2 L81.7,374.2 L81.0,376.2 L80.3,378.2 L79.5,380.2 L78.8,382.2 L78.1,384.2 L77.3,386.2 L76.6,388.2 L75.9,390.2 L75.2,392.2 L74.6,394.1 L74.0,396.1 L73.5,398.1 L73.0,400.0 L72.5,402.0 L72.2,403.9 L71.9,405.8 L72.5,450.0 L0.0,450.0 L0.0,200.0Z" fill="#550096"/><path d="M49.4,320.2 L51.6,321.1 L53.7,322.1 L55.7,323.3 L57.5,324.5 L59.2,325.9 L60.8,327.3 L62.3,328.9 L63.6,330.5 L64.8,332.2 L65.9,334.0 L66.8,335.8 L67.6,337.7 L68.3,339.6 L68.9,341.6 L69.3,343.6 L69.6,345.6 L69.7,347.6 L69.7,349.7 L69.6,351.7 L69.4,353.7 L69.0,355.7 L68.5,357.7 L67.9,359.6 L67.1,361.5 L66.2,363.3 L65.1,365.1 L63.9,366.8 L62.6,368.4 L61.1,369.9 L59.5,371.4 L57.8,372.7 L55.9,373.9 L53.9,375.1 L51.8,376.0 L49.5,376.9Z" fill="#3c005a"/><path d="M287.3,238.0 L291.0,238.0 L291.0,244.0Z" fill="#be1400"/><path d="M45.9,233.7 L47.3,235.1 L48.7,236.4 L50.2,237.7 L51.7,239.0 L53.2,240.3 L54.7,241.6 L56.2,242.9 L57.8,244.1 L59.3,245.3 L60.9,246.6 L62.5,247.8 L64.1,249.0 L65.7,250.1 L67.3,251.3 L69.0,252.5 L70.6,253.6 L72.3,254.7 L73.9,255.9 L75.6,257.0 L77.3,258.1 L79.0,259.2 L80.7,260.3 L82.4,261.4 L84.1,262.5 L85.8,263.5 L87.5,264.6 L89.3,265.6 L91.0,266.7 L92.8,267.7 L94.5,268.8 L96.3,269.8 L98.0,270.9 L99.8,271.9 L101.5,272.9 L103.3,274.0 L105.1,275.0 L106.8,276.0 L108.6,277.0 L110.4,278.1 L112.1,279.1 L113.9,280.1 L115.7,281.2 L117.4,282.2 L119.2,283.2 L120.9,284.3 L122.7,285.3 L124.5,286.4 L126.2,287.4 L128.0,288.5 L129.7,289.5 L131.4,290.6 L133.2,291.6 L134.9,292.7 L136.6,293.8 L138.3,294.9 L140.0,296.0 L141.7,297.1 L143.4,298.2 L145.1,299.3 L146.8,300.5 L148.4,301.6 L150.1,302.8 L151.7,304.0 L153.4,305.1 L155.0,306.3 L156.6,307.5 L158.2,308.7 L159.8,310.0 L161.4,311.2 L162.9,312.5 L164.5,313.8 L166.0,315.1 L167.5,316.4 L169.0,317.7 L170.5,319.0 L172.0,320.4 L173.4,321.8 L174.8,323.2 L176.3,324.6 L177.7,326.0 L179.0,327.5 L180.4,328.9 L181.7,330.4 L183.0,331.9 L184.3,333.5 L185.5,335.0 L186.7,336.6 L187.8,338.2 L188.8,339.8 L189.7,341.4 L190.6,343.1 L191.3,344.7 L191.9,346.4 L192.4,348.1 L192.8,349.9 L193.0,351.6 L193.1,353.4 L193.0,355.1 L192.7,356.9 L192.3,358.7 L191.7,360.6 L191.0,362.4 L190.1,364.3" fill="none" stroke="#000" stroke-width="0.5" stroke-opacity="0.85"/><path d="M177.5,384.6 L176.5,386.5 L175.7,388.4 L174.9,390.2 L174.3,392.1 L173.8,394.0 L173.6,395.9 L173.5,397.9 L173.6,399.8 L173.9,401.8 L174.5,403.8 L175.3,405.9" fill="none" stroke="#000" stroke-width="0.5" stroke-opacity="0.85"/><path d="M45.3,271.4 L46.9,272.6 L48.6,273.8 L50.2,275.0 L51.8,276.2 L53.4,277.4 L55.0,278.5 L56.6,279.7 L58.2,280.8 L59.8,281.9 L61.4,283.0 L63.0,284.1 L64.6,285.2 L66.2,286.3 L67.9,287.3 L69.5,288.4 L71.2,289.5 L72.8,290.5 L74.5,291.6 L76.2,292.7 L77.9,293.8 L79.6,294.8 L81.3,295.9 L83.1,297.0 L84.9,298.1 L86.6,299.2 L88.5,300.3 L90.3,301.5 L92.1,302.6 L94.0,303.7 L95.9,304.9 L97.7,306.1 L99.6,307.3 L101.4,308.5 L103.3,309.7 L105.1,311.0 L106.9,312.2 L108.6,313.5 L110.4,314.8 L112.1,316.1 L113.7,317.5 L115.3,318.8 L116.9,320.2 L118.4,321.6 L119.9,323.0 L121.2,324.5 L122.5,326.0 L123.8,327.5 L124.9,329.0 L126.0,330.5 L127.0,332.1 L127.9,333.7 L128.6,335.4 L129.3,337.0 L129.9,338.7 L130.4,340.4 L130.7,342.2 L131.0,344.0 L131.1,345.8 L131.2,347.6 L131.1,349.5 L131.0,351.3 L130.8,353.2 L130.5,355.1 L130.2,357.1 L129.8,359.0 L129.3,361.0 L128.8,362.9 L128.3,364.9 L127.7,366.9" fill="none" stroke="#000" stroke-width="0.5" stroke-opacity="0.85"/><path d="M119.6,390.7 L119.0,392.6 L118.4,394.5 L117.9,396.4 L117.5,398.3 L117.1,400.1 L116.7,402.0 L116.5,403.8 L116.3,405.6" fill="none" stroke="#000" stroke-width="0.5" stroke-opacity="0.85"/><text stroke="#000" stroke-width="0.22" x="183.3" y="376.8" font-size="9.6" text-anchor="middle" transform="rotate(-62 183.3 373.6)" >0.50</text><text stroke="#000" stroke-width="0.22" x="121.0" y="381.2" font-size="9.6" text-anchor="middle" transform="rotate(-72 121.0 378.0)" >0.10</text><text stroke="#000" stroke-width="0.22" x="58.6" y="386.2" font-size="9.6" text-anchor="middle" transform="rotate(-78 58.6 383.0)" >0.01</text></g><g clip-path="url(#cd)"><rect x="370" y="238.5" width="235" height="160.0" fill="#52009e"/><path d="M405.0,200.0 L405.5,229.8 L407.1,231.0 L408.6,232.3 L410.1,233.5 L411.7,234.7 L413.2,235.9 L414.8,237.1 L416.4,238.3 L417.9,239.5 L419.5,240.7 L421.1,241.9 L422.7,243.1 L424.3,244.3 L425.9,245.5 L427.5,246.7 L429.1,248.0 L430.7,249.2 L432.3,250.4 L433.9,251.6 L435.6,252.8 L437.2,254.0 L438.8,255.3 L440.5,256.5 L442.1,257.7 L443.7,258.9 L445.3,260.2 L447.0,261.4 L448.6,262.6 L450.2,263.9 L451.9,265.1 L453.5,266.4 L455.1,267.6 L456.7,268.9 L458.4,270.2 L460.0,271.4 L461.6,272.7 L463.2,274.0 L464.8,275.3 L466.4,276.6 L468.0,277.9 L469.6,279.2 L471.2,280.5 L472.8,281.8 L474.4,283.1 L475.9,284.4 L477.5,285.8 L479.0,287.1 L480.6,288.5 L482.1,289.8 L483.7,291.2 L485.2,292.6 L486.7,293.9 L488.2,295.3 L489.7,296.7 L491.2,298.1 L492.6,299.6 L494.1,301.0 L495.6,302.4 L497.0,303.9 L498.4,305.3 L499.8,306.8 L501.2,308.3 L502.6,309.7 L504.0,311.2 L505.4,312.7 L506.7,314.3 L508.0,315.8 L509.4,317.3 L510.7,318.9 L511.9,320.4 L513.2,322.0 L514.5,323.6 L515.7,325.2 L516.9,326.8 L518.0,328.5 L519.1,330.1 L520.2,331.8 L521.2,333.4 L522.2,335.1 L523.1,336.8 L524.0,338.6 L524.8,340.3 L525.5,342.1 L526.2,343.9 L526.8,345.7 L527.3,347.5 L527.7,349.3 L528.1,351.2 L528.4,353.1 L528.6,355.0 L528.8,356.9 L528.8,358.8 L528.9,360.7 L528.8,362.6 L528.7,364.6 L528.6,366.5 L528.3,368.5 L528.0,370.5 L527.7,372.4 L527.3,374.4 L526.8,376.4 L526.3,378.4 L525.7,380.4 L525.1,382.4 L524.5,384.4 L523.8,386.3 L523.1,388.3 L522.4,390.3 L521.7,392.3 L520.9,394.2 L520.2,396.2 L519.4,398.2 L518.7,400.1 L517.9,402.0 L517.2,404.0 L516.4,405.9 L518.0,450.0 L800.0,450.0 L800.0,200.0Z" fill="#3200e6"/><path d="M430.0,200.0 L430.4,229.6 L431.8,231.1 L433.2,232.6 L434.6,234.0 L436.0,235.5 L437.4,236.9 L438.8,238.4 L440.3,239.8 L441.7,241.2 L443.1,242.6 L444.6,244.0 L446.0,245.4 L447.5,246.8 L448.9,248.2 L450.4,249.6 L451.9,251.0 L453.4,252.3 L454.9,253.7 L456.4,255.0 L457.9,256.4 L459.4,257.7 L460.9,259.0 L462.4,260.3 L463.9,261.7 L465.4,263.0 L467.0,264.3 L468.5,265.6 L470.0,266.9 L471.6,268.2 L473.1,269.5 L474.6,270.8 L476.2,272.1 L477.8,273.4 L479.3,274.7 L480.9,276.0 L482.4,277.3 L484.0,278.5 L485.6,279.8 L487.1,281.1 L488.7,282.4 L490.3,283.7 L491.8,285.0 L493.4,286.2 L495.0,287.5 L496.6,288.8 L498.2,290.1 L499.7,291.4 L501.3,292.7 L502.9,294.0 L504.5,295.3 L506.1,296.6 L507.7,297.9 L509.3,299.2 L510.8,300.5 L512.4,301.8 L514.0,303.1 L515.6,304.4 L517.1,305.8 L518.7,307.1 L520.2,308.5 L521.8,309.8 L523.3,311.2 L524.8,312.6 L526.3,314.0 L527.8,315.4 L529.2,316.8 L530.7,318.2 L532.1,319.6 L533.4,321.1 L534.8,322.6 L536.1,324.1 L537.4,325.6 L538.7,327.1 L539.9,328.7 L541.2,330.2 L542.3,331.8 L543.5,333.4 L544.6,335.1 L545.6,336.7 L546.6,338.4 L547.6,340.1 L548.5,341.8 L549.4,343.5 L550.3,345.3 L551.1,347.0 L551.8,348.8 L552.5,350.6 L553.2,352.4 L553.8,354.2 L554.4,356.1 L554.9,358.0 L555.3,359.8 L555.7,361.7 L556.1,363.6 L556.4,365.6 L556.6,367.5 L556.8,369.5 L556.9,371.4 L556.9,373.4 L556.9,375.4 L556.9,377.4 L556.7,379.4 L556.5,381.4 L556.3,383.5 L556.0,385.5 L555.6,387.6 L555.1,389.7 L554.6,391.7 L554.0,393.8 L553.3,395.9 L552.5,398.0 L551.7,400.1 L550.8,402.3 L549.8,404.4 L548.8,406.5 L550.5,450.0 L800.0,450.0 L800.0,200.0Z" fill="#001eff"/><path d="M444.5,200.0 L444.8,229.8 L446.2,231.2 L447.7,232.6 L449.1,234.1 L450.5,235.5 L451.9,236.9 L453.4,238.3 L454.8,239.8 L456.2,241.2 L457.7,242.6 L459.1,244.0 L460.5,245.4 L462.0,246.8 L463.4,248.2 L464.9,249.6 L466.3,251.0 L467.8,252.3 L469.2,253.7 L470.7,255.1 L472.2,256.5 L473.6,257.9 L475.1,259.2 L476.6,260.6 L478.1,262.0 L479.5,263.3 L481.0,264.7 L482.5,266.0 L484.0,267.4 L485.5,268.7 L487.0,270.1 L488.5,271.4 L490.0,272.7 L491.6,274.1 L493.1,275.4 L494.6,276.7 L496.1,278.1 L497.7,279.4 L499.2,280.7 L500.8,282.0 L502.3,283.3 L503.9,284.7 L505.4,286.0 L507.0,287.3 L508.6,288.6 L510.1,289.9 L511.7,291.2 L513.3,292.5 L514.8,293.9 L516.4,295.2 L517.9,296.5 L519.5,297.8 L521.0,299.2 L522.6,300.5 L524.1,301.8 L525.6,303.2 L527.2,304.5 L528.7,305.9 L530.2,307.3 L531.7,308.7 L533.2,310.0 L534.6,311.4 L536.1,312.8 L537.5,314.3 L539.0,315.7 L540.4,317.1 L541.8,318.6 L543.2,320.0 L544.6,321.5 L545.9,323.0 L547.3,324.5 L548.6,326.0 L549.9,327.6 L551.1,329.1 L552.4,330.7 L553.6,332.2 L554.8,333.8 L556.0,335.4 L557.1,337.0 L558.2,338.7 L559.3,340.3 L560.4,342.0 L561.4,343.7 L562.4,345.4 L563.3,347.1 L564.2,348.8 L565.1,350.6 L565.9,352.3 L566.7,354.1 L567.4,355.9 L568.1,357.7 L568.8,359.5 L569.4,361.4 L570.0,363.2 L570.5,365.1 L570.9,367.0 L571.3,368.9 L571.7,370.9 L572.0,372.8 L572.2,374.8 L572.4,376.8 L572.5,378.8 L572.6,380.8 L572.6,382.9 L572.5,384.9 L572.4,387.0 L572.2,389.1 L572.0,391.2 L571.7,393.4 L571.3,395.5 L570.8,397.7 L570.3,399.9 L569.7,402.2 L569.0,404.4 L568.3,406.7 L569.0,450.0 L800.0,450.0 L800.0,200.0Z" fill="#006eff"/><path d="M455.5,200.0 L456.1,229.6 L457.4,231.1 L458.7,232.6 L460.0,234.1 L461.4,235.6 L462.7,237.1 L464.1,238.5 L465.4,240.0 L466.8,241.5 L468.2,242.9 L469.5,244.3 L470.9,245.8 L472.3,247.2 L473.7,248.6 L475.2,250.1 L476.6,251.5 L478.0,252.9 L479.4,254.3 L480.9,255.7 L482.3,257.1 L483.8,258.5 L485.2,259.9 L486.7,261.3 L488.2,262.7 L489.6,264.1 L491.1,265.4 L492.6,266.8 L494.1,268.2 L495.6,269.5 L497.1,270.9 L498.6,272.3 L500.1,273.6 L501.6,275.0 L503.1,276.4 L504.6,277.7 L506.1,279.1 L507.6,280.4 L509.2,281.8 L510.7,283.1 L512.2,284.5 L513.7,285.8 L515.3,287.2 L516.8,288.5 L518.3,289.9 L519.8,291.2 L521.4,292.6 L522.9,293.9 L524.4,295.3 L525.9,296.7 L527.4,298.0 L528.9,299.4 L530.4,300.8 L531.9,302.2 L533.4,303.6 L534.9,305.0 L536.4,306.3 L537.8,307.8 L539.3,309.2 L540.7,310.6 L542.1,312.0 L543.6,313.4 L545.0,314.9 L546.4,316.3 L547.8,317.8 L549.1,319.2 L550.5,320.7 L551.8,322.2 L553.2,323.7 L554.5,325.2 L555.8,326.7 L557.1,328.3 L558.3,329.8 L559.6,331.4 L560.8,332.9 L562.0,334.5 L563.2,336.1 L564.3,337.7 L565.5,339.3 L566.6,341.0 L567.6,342.6 L568.7,344.3 L569.7,345.9 L570.7,347.6 L571.7,349.3 L572.7,351.0 L573.6,352.8 L574.4,354.5 L575.3,356.3 L576.1,358.1 L576.9,359.9 L577.6,361.7 L578.4,363.5 L579.0,365.4 L579.7,367.3 L580.3,369.1 L580.8,371.1 L581.4,373.0 L581.8,374.9 L582.3,376.9 L582.7,378.9 L583.0,380.9 L583.3,382.9 L583.6,385.0 L583.8,387.0 L584.0,389.1 L584.1,391.2 L584.2,393.4 L584.2,395.5 L584.2,397.7 L584.1,399.9 L584.0,402.1 L583.8,404.4 L583.6,406.6 L584.0,450.0 L800.0,450.0 L800.0,200.0Z" fill="#00beff"/><path d="M463.5,200.0 L464.4,229.4 L465.6,231.0 L466.8,232.6 L468.0,234.2 L469.3,235.8 L470.5,237.3 L471.8,238.9 L473.1,240.4 L474.4,241.9 L475.7,243.4 L477.0,244.9 L478.4,246.4 L479.7,247.9 L481.1,249.3 L482.5,250.8 L483.9,252.3 L485.3,253.7 L486.7,255.2 L488.1,256.6 L489.6,258.0 L491.0,259.4 L492.5,260.8 L493.9,262.3 L495.4,263.7 L496.9,265.1 L498.4,266.5 L499.9,267.8 L501.4,269.2 L502.9,270.6 L504.4,272.0 L505.9,273.4 L507.4,274.7 L509.0,276.1 L510.5,277.5 L512.0,278.8 L513.5,280.2 L515.1,281.6 L516.6,282.9 L518.1,284.3 L519.7,285.7 L521.2,287.0 L522.7,288.4 L524.3,289.8 L525.8,291.2 L527.3,292.5 L528.8,293.9 L530.4,295.3 L531.9,296.7 L533.4,298.0 L534.9,299.4 L536.4,300.8 L537.9,302.2 L539.4,303.6 L540.9,305.0 L542.3,306.4 L543.8,307.9 L545.2,309.3 L546.7,310.7 L548.1,312.1 L549.6,313.6 L551.0,315.0 L552.4,316.5 L553.8,318.0 L555.2,319.4 L556.5,320.9 L557.9,322.4 L559.2,323.9 L560.6,325.4 L561.9,327.0 L563.2,328.5 L564.5,330.0 L565.7,331.6 L567.0,333.2 L568.2,334.7 L569.4,336.3 L570.6,337.9 L571.7,339.6 L572.9,341.2 L574.0,342.8 L575.1,344.5 L576.2,346.2 L577.2,347.8 L578.2,349.5 L579.2,351.2 L580.1,353.0 L581.1,354.7 L582.0,356.5 L582.8,358.3 L583.7,360.0 L584.5,361.9 L585.2,363.7 L586.0,365.5 L586.7,367.4 L587.3,369.3 L587.9,371.2 L588.5,373.1 L589.1,375.0 L589.6,377.0 L590.0,378.9 L590.5,380.9 L590.8,383.0 L591.2,385.0 L591.5,387.0 L591.7,389.1 L591.9,391.2 L592.1,393.3 L592.2,395.5 L592.3,397.6 L592.3,399.8 L592.3,402.0 L592.2,404.3 L592.0,406.5 L592.0,450.0 L800.0,450.0 L800.0,200.0Z" fill="#00f0f0"/><path d="M472.0,200.0 L472.9,229.3 L474.1,231.0 L475.3,232.6 L476.5,234.2 L477.7,235.8 L479.0,237.4 L480.2,239.0 L481.5,240.5 L482.8,242.1 L484.0,243.7 L485.3,245.2 L486.6,246.8 L487.9,248.3 L489.3,249.8 L490.6,251.3 L491.9,252.8 L493.3,254.3 L494.7,255.8 L496.0,257.3 L497.4,258.8 L498.8,260.3 L500.2,261.7 L501.6,263.2 L503.0,264.6 L504.4,266.1 L505.8,267.5 L507.3,269.0 L508.7,270.4 L510.2,271.8 L511.6,273.3 L513.1,274.7 L514.5,276.1 L516.0,277.5 L517.5,278.9 L518.9,280.3 L520.4,281.7 L521.9,283.1 L523.4,284.5 L524.9,285.9 L526.4,287.3 L527.8,288.7 L529.3,290.1 L530.8,291.5 L532.3,292.9 L533.8,294.3 L535.3,295.7 L536.8,297.1 L538.3,298.5 L539.8,299.9 L541.2,301.3 L542.7,302.7 L544.2,304.1 L545.7,305.5 L547.1,306.9 L548.6,308.4 L550.0,309.8 L551.4,311.2 L552.9,312.7 L554.3,314.1 L555.7,315.6 L557.1,317.0 L558.5,318.5 L559.9,320.0 L561.3,321.4 L562.6,322.9 L564.0,324.4 L565.3,325.9 L566.6,327.5 L567.9,329.0 L569.2,330.5 L570.5,332.1 L571.7,333.6 L573.0,335.2 L574.2,336.8 L575.4,338.4 L576.6,340.0 L577.7,341.6 L578.9,343.3 L580.0,344.9 L581.1,346.6 L582.2,348.2 L583.2,349.9 L584.2,351.6 L585.2,353.3 L586.2,355.1 L587.1,356.8 L588.0,358.6 L588.9,360.4 L589.7,362.2 L590.5,364.0 L591.3,365.8 L592.1,367.7 L592.8,369.5 L593.5,371.4 L594.1,373.3 L594.7,375.2 L595.3,377.2 L595.8,379.1 L596.3,381.1 L596.8,383.1 L597.2,385.1 L597.6,387.2 L597.9,389.2 L598.2,391.3 L598.5,393.4 L598.7,395.5 L598.9,397.7 L599.0,399.9 L599.1,402.1 L599.1,404.3 L599.1,406.5 L599.0,450.0 L800.0,450.0 L800.0,200.0Z" fill="#00f096"/><path d="M478.0,200.0 L478.7,229.4 L480.0,231.0 L481.3,232.5 L482.6,234.1 L483.9,235.6 L485.2,237.2 L486.5,238.8 L487.8,240.3 L489.1,241.9 L490.4,243.4 L491.7,245.0 L493.0,246.5 L494.3,248.1 L495.6,249.6 L497.0,251.1 L498.3,252.7 L499.6,254.2 L501.0,255.7 L502.3,257.2 L503.7,258.7 L505.0,260.2 L506.4,261.7 L507.7,263.2 L509.1,264.7 L510.5,266.2 L511.9,267.7 L513.3,269.2 L514.7,270.6 L516.1,272.1 L517.5,273.6 L518.9,275.0 L520.3,276.4 L521.8,277.9 L523.2,279.3 L524.6,280.7 L526.1,282.2 L527.5,283.6 L529.0,285.0 L530.5,286.4 L531.9,287.8 L533.4,289.2 L534.9,290.6 L536.3,292.0 L537.8,293.4 L539.3,294.8 L540.7,296.2 L542.2,297.6 L543.7,299.0 L545.1,300.4 L546.6,301.8 L548.1,303.2 L549.5,304.6 L551.0,306.0 L552.4,307.5 L553.8,308.9 L555.3,310.3 L556.7,311.8 L558.1,313.2 L559.5,314.6 L560.9,316.1 L562.3,317.6 L563.7,319.0 L565.0,320.5 L566.4,322.0 L567.7,323.5 L569.0,325.0 L570.4,326.5 L571.6,328.1 L572.9,329.6 L574.2,331.2 L575.4,332.7 L576.7,334.3 L577.9,335.9 L579.1,337.5 L580.3,339.1 L581.4,340.7 L582.6,342.4 L583.7,344.0 L584.8,345.7 L585.9,347.4 L587.0,349.0 L588.0,350.8 L589.1,352.5 L590.1,354.2 L591.1,355.9 L592.0,357.7 L593.0,359.5 L593.9,361.3 L594.8,363.1 L595.6,364.9 L596.5,366.7 L597.3,368.6 L598.1,370.4 L598.9,372.3 L599.6,374.2 L600.3,376.1 L601.0,378.0 L601.7,380.0 L602.3,381.9 L602.9,383.9 L603.5,385.9 L604.0,387.9 L604.5,389.9 L605.0,392.0 L605.5,394.0 L605.9,396.1 L606.3,398.2 L606.6,400.3 L606.9,402.5 L607.2,404.6 L608.0,450.0 L800.0,450.0 L800.0,200.0Z" fill="#1eeb00"/><path d="M486.5,200.0 L486.7,229.9 L488.0,231.4 L489.3,233.0 L490.6,234.5 L491.9,236.1 L493.2,237.6 L494.4,239.2 L495.7,240.7 L497.0,242.3 L498.3,243.9 L499.6,245.4 L500.9,247.0 L502.2,248.5 L503.5,250.1 L504.8,251.6 L506.1,253.2 L507.4,254.7 L508.7,256.2 L510.1,257.8 L511.4,259.3 L512.7,260.9 L514.0,262.4 L515.3,263.9 L516.7,265.4 L518.0,266.9 L519.3,268.5 L520.7,270.0 L522.0,271.5 L523.4,273.0 L524.7,274.4 L526.1,275.9 L527.5,277.4 L528.9,278.9 L530.3,280.3 L531.7,281.8 L533.1,283.2 L534.5,284.7 L535.9,286.1 L537.3,287.5 L538.8,288.9 L540.2,290.4 L541.6,291.8 L543.1,293.2 L544.5,294.6 L545.9,296.0 L547.4,297.4 L548.8,298.8 L550.3,300.2 L551.7,301.7 L553.1,303.1 L554.6,304.5 L556.0,305.9 L557.4,307.3 L558.8,308.7 L560.3,310.2 L561.7,311.6 L563.1,313.0 L564.5,314.5 L565.9,315.9 L567.2,317.4 L568.6,318.8 L570.0,320.3 L571.3,321.8 L572.6,323.3 L574.0,324.8 L575.3,326.3 L576.6,327.8 L577.8,329.3 L579.1,330.9 L580.4,332.4 L581.6,334.0 L582.8,335.5 L584.0,337.1 L585.2,338.7 L586.4,340.3 L587.5,342.0 L588.6,343.6 L589.7,345.3 L590.8,346.9 L591.9,348.6 L592.9,350.3 L593.9,352.1 L594.9,353.8 L595.8,355.5 L596.8,357.3 L597.7,359.1 L598.6,360.9 L599.4,362.7 L600.2,364.6 L601.0,366.4 L601.8,368.3 L602.5,370.2 L603.2,372.1 L603.9,374.1 L604.6,376.0 L605.2,378.0 L605.7,380.0 L606.3,382.1 L606.8,384.1 L607.3,386.2 L607.7,388.2 L608.1,390.4 L608.5,392.5 L609.0,450.0 L800.0,450.0 L800.0,200.0Z" fill="#8cfa00"/><path d="M502.0,200.0 L502.5,229.6 L503.7,231.3 L504.8,233.0 L505.9,234.7 L507.1,236.4 L508.3,238.1 L509.5,239.7 L510.7,241.4 L511.9,243.0 L513.1,244.6 L514.4,246.2 L515.6,247.8 L516.9,249.4 L518.2,251.0 L519.5,252.6 L520.8,254.2 L522.1,255.7 L523.4,257.3 L524.8,258.8 L526.1,260.4 L527.5,261.9 L528.8,263.5 L530.2,265.0 L531.6,266.5 L532.9,268.0 L534.3,269.5 L535.7,271.0 L537.1,272.5 L538.5,274.0 L539.9,275.5 L541.3,277.0 L542.7,278.5 L544.1,280.0 L545.5,281.5 L546.9,283.0 L548.3,284.5 L549.7,286.0 L551.1,287.4 L552.5,288.9 L553.9,290.4 L555.3,291.9 L556.7,293.4 L558.1,294.9 L559.5,296.4 L560.9,297.9 L562.3,299.4 L563.7,300.9 L565.0,302.4 L566.4,303.9 L567.7,305.4 L569.1,306.9 L570.4,308.5 L571.7,310.0 L573.1,311.5 L574.4,313.1 L575.7,314.6 L577.0,316.2 L578.2,317.7 L579.5,319.3 L580.8,320.9 L582.0,322.5 L583.2,324.1 L584.5,325.7 L585.7,327.3 L586.8,328.9 L588.0,330.6 L589.2,332.2 L590.3,333.9 L591.4,335.5 L592.5,337.2 L593.6,338.9 L594.7,340.6 L595.7,342.4 L596.7,344.1 L597.8,345.8 L598.7,347.6 L599.7,349.4 L600.7,351.2 L601.6,353.0 L602.5,354.8 L603.4,356.6 L604.2,358.5 L605.0,360.4 L605.8,362.3 L606.6,364.2 L607.4,366.1 L608.1,368.0 L608.8,370.0 L609.5,372.0 L610.1,374.0 L610.0,450.0 L800.0,450.0 L800.0,200.0Z" fill="#f5ff00"/><path d="M511.5,200.0 L511.7,229.8 L512.9,231.5 L514.1,233.1 L515.3,234.7 L516.6,236.3 L517.8,237.9 L519.1,239.5 L520.3,241.1 L521.6,242.7 L522.9,244.2 L524.2,245.8 L525.5,247.4 L526.8,248.9 L528.1,250.5 L529.4,252.0 L530.7,253.6 L532.0,255.1 L533.3,256.6 L534.7,258.2 L536.0,259.7 L537.3,261.2 L538.7,262.8 L540.0,264.3 L541.3,265.8 L542.7,267.3 L544.0,268.8 L545.4,270.3 L546.7,271.8 L548.1,273.4 L549.4,274.9 L550.8,276.4 L552.1,277.9 L553.4,279.4 L554.8,280.9 L556.1,282.4 L557.5,284.0 L558.8,285.5 L560.1,287.0 L561.4,288.5 L562.8,290.0 L564.1,291.6 L565.4,293.1 L566.7,294.6 L568.0,296.2 L569.3,297.7 L570.6,299.3 L571.8,300.8 L573.1,302.4 L574.4,303.9 L575.6,305.5 L576.9,307.1 L578.1,308.6 L579.3,310.2 L580.5,311.8 L581.8,313.4 L582.9,315.0 L584.1,316.6 L585.3,318.2 L586.5,319.9 L587.6,321.5 L588.8,323.2 L589.9,324.8 L591.0,326.5 L592.1,328.1 L593.2,329.8 L594.2,331.5 L595.3,333.2 L596.3,334.9 L597.3,336.7 L598.3,338.4 L599.3,340.1 L600.3,341.9 L601.3,343.7 L602.2,345.5 L603.1,347.3 L604.0,349.1 L604.9,350.9 L605.8,352.7 L606.6,354.6 L607.4,356.4 L608.2,358.3 L609.0,360.2 L609.7,362.1 L610.0,450.0 L800.0,450.0 L800.0,200.0Z" fill="#ffbe00"/><path d="M524.5,200.0 L524.4,230.1 L525.6,231.7 L526.9,233.3 L528.2,234.9 L529.4,236.5 L530.7,238.1 L532.0,239.7 L533.2,241.3 L534.5,242.9 L535.8,244.5 L537.1,246.1 L538.3,247.7 L539.6,249.3 L540.9,250.9 L542.2,252.5 L543.5,254.1 L544.7,255.7 L546.0,257.3 L547.3,258.9 L548.6,260.5 L549.9,262.0 L551.2,263.6 L552.5,265.2 L553.7,266.8 L555.0,268.4 L556.3,270.0 L557.6,271.6 L558.9,273.1 L560.2,274.7 L561.5,276.3 L562.8,277.9 L564.0,279.5 L565.3,281.1 L566.6,282.7 L567.9,284.3 L569.2,285.8 L570.4,287.4 L571.7,289.0 L573.0,290.6 L574.3,292.2 L575.5,293.8 L576.8,295.4 L578.1,297.0 L579.3,298.6 L580.6,300.2 L581.9,301.8 L583.1,303.4 L584.4,305.0 L585.6,306.6 L586.9,308.3 L588.1,309.9 L589.3,311.5 L590.6,313.1 L591.8,314.7 L593.1,316.4 L594.3,318.0 L595.5,319.6 L596.7,321.3 L597.9,322.9 L599.1,324.6 L600.4,326.2 L601.6,327.9 L602.8,329.5 L603.9,331.2 L605.1,332.8 L606.3,334.5 L607.5,336.2 L608.7,337.8 L609.8,339.5 L611.0,341.2 L612.2,342.9 L612.0,450.0 L800.0,450.0 L800.0,200.0Z" fill="#ff6400"/><path d="M365.1,256.8 L366.8,258.2 L368.4,259.5 L370.1,260.7 L371.8,261.9 L373.5,263.1 L375.2,264.2 L376.9,265.4 L378.6,266.5 L380.2,267.7 L381.9,268.9 L383.5,270.2 L385.1,271.5 L386.7,272.9 L388.3,274.4 L389.8,276.0 L391.2,277.8 L392.6,279.6 L393.9,281.5 L394.9,283.5 L395.8,285.5 L396.3,287.4 L396.5,289.3 L396.3,291.0 L395.7,292.6 L394.7,294.1 L393.4,295.4 L391.9,296.6 L390.1,297.7 L388.1,298.6 L386.0,299.4 L383.9,300.0 L381.7,300.5 L379.5,300.8 L377.3,301.0 L375.1,301.2 L373.0,301.3 L370.9,301.5 L368.9,301.7 L367.0,302.0 L365.1,302.3Z" fill="#3c005a"/><path d="M405.5,229.8 L407.1,231.0 L408.6,232.3 L410.1,233.5 L411.7,234.7 L413.2,235.9 L414.8,237.1 L416.4,238.3 L417.9,239.5 L419.5,240.7 L421.1,241.9 L422.7,243.1 L424.3,244.3 L425.9,245.5 L427.5,246.7 L429.1,248.0 L430.7,249.2 L432.3,250.4 L433.9,251.6 L435.6,252.8 L437.2,254.0 L438.8,255.3 L440.5,256.5 L442.1,257.7 L443.7,258.9 L445.3,260.2 L447.0,261.4 L448.6,262.6 L450.2,263.9 L451.9,265.1 L453.5,266.4 L455.1,267.6 L456.7,268.9 L458.4,270.2 L460.0,271.4 L461.6,272.7 L463.2,274.0 L464.8,275.3 L466.4,276.6 L468.0,277.9 L469.6,279.2 L471.2,280.5 L472.8,281.8 L474.4,283.1 L475.9,284.4 L477.5,285.8 L479.0,287.1 L480.6,288.5 L482.1,289.8 L483.7,291.2 L485.2,292.6 L486.7,293.9 L488.2,295.3 L489.7,296.7 L491.2,298.1 L492.6,299.6 L494.1,301.0 L495.6,302.4 L497.0,303.9 L498.4,305.3 L499.8,306.8 L501.2,308.3 L502.6,309.7 L504.0,311.2 L505.4,312.7 L506.7,314.3 L508.0,315.8 L509.4,317.3 L510.7,318.9 L511.9,320.4 L513.2,322.0 L514.5,323.6 L515.7,325.2 L516.9,326.8 L518.0,328.5 L519.1,330.1 L520.2,331.8 L521.2,333.4 L522.2,335.1 L523.1,336.8 L524.0,338.6 L524.8,340.3 L525.5,342.1 L526.2,343.9 L526.8,345.7 L527.3,347.5 L527.7,349.3 L528.1,351.2 L528.4,353.1 L528.6,355.0 L528.8,356.9 L528.8,358.8 L528.9,360.7 L528.8,362.6 L528.7,364.6 L528.6,366.5 L528.3,368.5 L528.0,370.5 L527.7,372.4 L527.3,374.4 L526.8,376.4 L526.3,378.4 L525.7,380.4 L525.1,382.4 L524.5,384.4 L523.8,386.3" fill="none" stroke="#000" stroke-width="0.5" stroke-opacity="0.85"/><path d="M520.2,396.2 L519.4,398.2 L518.7,400.1 L517.9,402.0 L517.2,404.0 L516.4,405.9" fill="none" stroke="#000" stroke-width="0.5" stroke-opacity="0.85"/><path d="M456.1,229.6 L457.4,231.1 L458.7,232.6 L460.0,234.1 L461.4,235.6 L462.7,237.1 L464.1,238.5 L465.4,240.0 L466.8,241.5 L468.2,242.9 L469.5,244.3 L470.9,245.8 L472.3,247.2 L473.7,248.6 L475.2,250.1 L476.6,251.5 L478.0,252.9 L479.4,254.3 L480.9,255.7 L482.3,257.1 L483.8,258.5 L485.2,259.9 L486.7,261.3 L488.2,262.7 L489.6,264.1 L491.1,265.4 L492.6,266.8 L494.1,268.2 L495.6,269.5 L497.1,270.9 L498.6,272.3 L500.1,273.6 L501.6,275.0 L503.1,276.4 L504.6,277.7 L506.1,279.1 L507.6,280.4 L509.2,281.8 L510.7,283.1 L512.2,284.5 L513.7,285.8 L515.3,287.2 L516.8,288.5 L518.3,289.9 L519.8,291.2 L521.4,292.6 L522.9,293.9 L524.4,295.3 L525.9,296.7 L527.4,298.0 L528.9,299.4 L530.4,300.8 L531.9,302.2 L533.4,303.6 L534.9,305.0 L536.4,306.3 L537.8,307.8 L539.3,309.2 L540.7,310.6 L542.1,312.0 L543.6,313.4 L545.0,314.9 L546.4,316.3 L547.8,317.8 L549.1,319.2 L550.5,320.7 L551.8,322.2 L553.2,323.7 L554.5,325.2 L555.8,326.7 L557.1,328.3 L558.3,329.8 L559.6,331.4 L560.8,332.9 L562.0,334.5 L563.2,336.1 L564.3,337.7 L565.5,339.3 L566.6,341.0 L567.6,342.6 L568.7,344.3 L569.7,345.9 L570.7,347.6 L571.7,349.3 L572.7,351.0 L573.6,352.8 L574.4,354.5 L575.3,356.3 L576.1,358.1 L576.9,359.9 L577.6,361.7 L578.4,363.5 L579.0,365.4 L579.7,367.3" fill="none" stroke="#000" stroke-width="0.5" stroke-opacity="0.85"/><path d="M581.8,374.9 L582.3,376.9 L582.7,378.9 L583.0,380.9 L583.3,382.9 L583.6,385.0 L583.8,387.0 L584.0,389.1 L584.1,391.2 L584.2,393.4 L584.2,395.5 L584.2,397.7 L584.1,399.9 L584.0,402.1 L583.8,404.4 L583.6,406.6" fill="none" stroke="#000" stroke-width="0.5" stroke-opacity="0.85"/><path d="M486.7,229.9 L488.0,231.4 L489.3,233.0 L490.6,234.5 L491.9,236.1 L493.2,237.6 L494.4,239.2 L495.7,240.7 L497.0,242.3 L498.3,243.9 L499.6,245.4 L500.9,247.0 L502.2,248.5 L503.5,250.1 L504.8,251.6 L506.1,253.2 L507.4,254.7 L508.7,256.2 L510.1,257.8 L511.4,259.3 L512.7,260.9 L514.0,262.4 L515.3,263.9 L516.7,265.4 L518.0,266.9 L519.3,268.5 L520.7,270.0 L522.0,271.5 L523.4,273.0 L524.7,274.4 L526.1,275.9 L527.5,277.4 L528.9,278.9 L530.3,280.3 L531.7,281.8 L533.1,283.2 L534.5,284.7 L535.9,286.1 L537.3,287.5 L538.8,288.9 L540.2,290.4 L541.6,291.8 L543.1,293.2 L544.5,294.6 L545.9,296.0 L547.4,297.4 L548.8,298.8 L550.3,300.2 L551.7,301.7 L553.1,303.1 L554.6,304.5 L556.0,305.9 L557.4,307.3 L558.8,308.7 L560.3,310.2 L561.7,311.6 L563.1,313.0 L564.5,314.5 L565.9,315.9 L567.2,317.4 L568.6,318.8 L570.0,320.3 L571.3,321.8 L572.6,323.3 L574.0,324.8 L575.3,326.3 L576.6,327.8 L577.8,329.3 L579.1,330.9 L580.4,332.4 L581.6,334.0 L582.8,335.5 L584.0,337.1 L585.2,338.7 L586.4,340.3 L587.5,342.0 L588.6,343.6 L589.7,345.3 L590.8,346.9 L591.9,348.6 L592.9,350.3 L593.9,352.1 L594.9,353.8 L595.8,355.5 L596.8,357.3 L597.7,359.1 L598.6,360.9 L599.4,362.7" fill="none" stroke="#000" stroke-width="0.5" stroke-opacity="0.85"/><path d="M605.2,378.0 L605.7,380.0 L606.3,382.1 L606.8,384.1 L607.3,386.2 L607.7,388.2 L608.1,390.4 L608.5,392.5" fill="none" stroke="#000" stroke-width="0.5" stroke-opacity="0.85"/><path d="M511.7,229.8 L512.9,231.5 L514.1,233.1 L515.3,234.7 L516.6,236.3 L517.8,237.9 L519.1,239.5 L520.3,241.1 L521.6,242.7 L522.9,244.2 L524.2,245.8 L525.5,247.4 L526.8,248.9 L528.1,250.5 L529.4,252.0 L530.7,253.6 L532.0,255.1 L533.3,256.6 L534.7,258.2 L536.0,259.7 L537.3,261.2 L538.7,262.8 L540.0,264.3 L541.3,265.8 L542.7,267.3 L544.0,268.8 L545.4,270.3 L546.7,271.8 L548.1,273.4 L549.4,274.9 L550.8,276.4 L552.1,277.9 L553.4,279.4 L554.8,280.9 L556.1,282.4 L557.5,284.0 L558.8,285.5 L560.1,287.0 L561.4,288.5 L562.8,290.0 L564.1,291.6 L565.4,293.1 L566.7,294.6 L568.0,296.2 L569.3,297.7 L570.6,299.3 L571.8,300.8 L573.1,302.4 L574.4,303.9 L575.6,305.5 L576.9,307.1 L578.1,308.6 L579.3,310.2 L580.5,311.8 L581.8,313.4 L582.9,315.0 L584.1,316.6 L585.3,318.2 L586.5,319.9 L587.6,321.5 L588.8,323.2 L589.9,324.8 L591.0,326.5 L592.1,328.1 L593.2,329.8" fill="none" stroke="#000" stroke-width="0.5" stroke-opacity="0.85"/><path d="M602.2,345.5 L603.1,347.3 L604.0,349.1 L604.9,350.9 L605.8,352.7 L606.6,354.6 L607.4,356.4 L608.2,358.3 L609.0,360.2 L609.7,362.1" fill="none" stroke="#000" stroke-width="0.5" stroke-opacity="0.85"/><path d="M365.1,256.8 L366.8,258.2 L368.4,259.5 L370.1,260.7 L371.8,261.9 L373.5,263.1 L375.2,264.2 L376.9,265.4 L378.6,266.5 L380.2,267.7 L381.9,268.9 L383.5,270.2 L385.1,271.5 L386.7,272.9 L388.3,274.4 L389.8,276.0 L391.2,277.8 L392.6,279.6 L393.9,281.5 L394.9,283.5 L395.8,285.5 L396.3,287.4 L396.5,289.3 L396.3,291.0 L395.7,292.6 L394.7,294.1 L393.4,295.4 L391.9,296.6 L390.1,297.7 L388.1,298.6 L386.0,299.4" fill="none" stroke="#000" stroke-width="0.5" stroke-opacity="0.5"/><path d="M375.1,301.2 L373.0,301.3 L370.9,301.5 L368.9,301.7 L367.0,302.0 L365.1,302.3" fill="none" stroke="#000" stroke-width="0.5" stroke-opacity="0.5"/><text stroke="#000" stroke-width="0.22" x="379.8" y="303.0" font-size="10" text-anchor="middle" transform="rotate(-8 379.8 299.7)" >1</text><text stroke="#000" stroke-width="0.22" x="519.8" y="394.9" font-size="10" text-anchor="middle" transform="rotate(100 519.8 391.6)" >2</text><text stroke="#000" stroke-width="0.22" x="576.7" y="375.7" font-size="10" text-anchor="middle" transform="rotate(75 576.7 372.4)" >5</text><text stroke="#000" stroke-width="0.22" x="598.8" y="374.6" font-size="10" text-anchor="middle" transform="rotate(65 598.8 371.3)" >10</text><text stroke="#000" stroke-width="0.22" x="596.2" y="341.1" font-size="10" text-anchor="middle" transform="rotate(55 596.2 337.8)" >20</text></g><rect x="55" y="23" width="235.5" height="160.5" fill="none" stroke="#000" stroke-width="0.55" stroke-opacity="0.75"/><path d="M90.45,183.50v-1.7M90.45,23.00v1.7M111.18,183.50v-1.7M111.18,23.00v1.7M125.89,183.50v-1.7M125.89,23.00v1.7M137.30,183.50v-1.7M137.30,23.00v1.7M146.63,183.50v-1.7M146.63,23.00v1.7M154.51,183.50v-1.7M154.51,23.00v1.7M161.34,183.50v-1.7M161.34,23.00v1.7M167.36,183.50v-1.7M167.36,23.00v1.7M172.75,183.50v-3.4M172.75,23.00v3.4M208.20,183.50v-1.7M208.20,23.00v1.7M228.93,183.50v-1.7M228.93,23.00v1.7M243.64,183.50v-1.7M243.64,23.00v1.7M255.05,183.50v-1.7M255.05,23.00v1.7M264.38,183.50v-1.7M264.38,23.00v1.7M272.26,183.50v-1.7M272.26,23.00v1.7M279.09,183.50v-1.7M279.09,23.00v1.7M285.11,183.50v-1.7M285.11,23.00v1.7M55.00,171.42h2.3M290.50,171.42h-2.3M55.00,164.36h2.3M290.50,164.36h-2.3M55.00,159.34h2.3M290.50,159.34h-2.3M55.00,155.45h2.3M290.50,155.45h-2.3M55.00,152.28h2.3M290.50,152.28h-2.3M55.00,149.59h2.3M290.50,149.59h-2.3M55.00,147.26h2.3M290.50,147.26h-2.3M55.00,145.21h2.3M290.50,145.21h-2.3M55.00,143.38h4.6M290.50,143.38h-4.6M55.00,131.30h2.3M290.50,131.30h-2.3M55.00,124.23h2.3M290.50,124.23h-2.3M55.00,119.22h2.3M290.50,119.22h-2.3M55.00,115.33h2.3M290.50,115.33h-2.3M55.00,112.15h2.3M290.50,112.15h-2.3M55.00,109.47h2.3M290.50,109.47h-2.3M55.00,107.14h2.3M290.50,107.14h-2.3M55.00,105.09h2.3M290.50,105.09h-2.3M55.00,103.25h4.6M290.50,103.25h-4.6M55.00,91.17h2.3M290.50,91.17h-2.3M55.00,84.11h2.3M290.50,84.11h-2.3M55.00,79.09h2.3M290.50,79.09h-2.3M55.00,75.20h2.3M290.50,75.20h-2.3M55.00,72.03h2.3M290.50,72.03h-2.3M55.00,69.34h2.3M290.50,69.34h-2.3M55.00,67.01h2.3M290.50,67.01h-2.3M55.00,64.96h2.3M290.50,64.96h-2.3M55.00,63.12h4.6M290.50,63.12h-4.6M55.00,51.05h2.3M290.50,51.05h-2.3M55.00,43.98h2.3M290.50,43.98h-2.3M55.00,38.97h2.3M290.50,38.97h-2.3M55.00,35.08h2.3M290.50,35.08h-2.3M55.00,31.90h2.3M290.50,31.90h-2.3M55.00,29.22h2.3M290.50,29.22h-2.3M55.00,26.89h2.3M290.50,26.89h-2.3M55.00,24.84h2.3M290.50,24.84h-2.3" stroke="#000" stroke-width="0.5" stroke-opacity="0.65" fill="none"/><rect x="370" y="23" width="235" height="160.5" fill="none" stroke="#000" stroke-width="0.55" stroke-opacity="0.75"/><path d="M405.37,183.50v-1.7M405.37,23.00v1.7M426.06,183.50v-1.7M426.06,23.00v1.7M440.74,183.50v-1.7M440.74,23.00v1.7M452.13,183.50v-1.7M452.13,23.00v1.7M461.43,183.50v-1.7M461.43,23.00v1.7M469.30,183.50v-1.7M469.30,23.00v1.7M476.11,183.50v-1.7M476.11,23.00v1.7M482.12,183.50v-1.7M482.12,23.00v1.7M487.50,183.50v-3.4M487.50,23.00v3.4M522.87,183.50v-1.7M522.87,23.00v1.7M543.56,183.50v-1.7M543.56,23.00v1.7M558.24,183.50v-1.7M558.24,23.00v1.7M569.63,183.50v-1.7M569.63,23.00v1.7M578.93,183.50v-1.7M578.93,23.00v1.7M586.80,183.50v-1.7M586.80,23.00v1.7M593.61,183.50v-1.7M593.61,23.00v1.7M599.62,183.50v-1.7M599.62,23.00v1.7M370.00,171.42h2.3M605.00,171.42h-2.3M370.00,164.36h2.3M605.00,164.36h-2.3M370.00,159.34h2.3M605.00,159.34h-2.3M370.00,155.45h2.3M605.00,155.45h-2.3M370.00,152.28h2.3M605.00,152.28h-2.3M370.00,149.59h2.3M605.00,149.59h-2.3M370.00,147.26h2.3M605.00,147.26h-2.3M370.00,145.21h2.3M605.00,145.21h-2.3M370.00,143.38h4.6M605.00,143.38h-4.6M370.00,131.30h2.3M605.00,131.30h-2.3M370.00,124.23h2.3M605.00,124.23h-2.3M370.00,119.22h2.3M605.00,119.22h-2.3M370.00,115.33h2.3M605.00,115.33h-2.3M370.00,112.15h2.3M605.00,112.15h-2.3M370.00,109.47h2.3M605.00,109.47h-2.3M370.00,107.14h2.3M605.00,107.14h-2.3M370.00,105.09h2.3M605.00,105.09h-2.3M370.00,103.25h4.6M605.00,103.25h-4.6M370.00,91.17h2.3M605.00,91.17h-2.3M370.00,84.11h2.3M605.00,84.11h-2.3M370.00,79.09h2.3M605.00,79.09h-2.3M370.00,75.20h2.3M605.00,75.20h-2.3M370.00,72.03h2.3M605.00,72.03h-2.3M370.00,69.34h2.3M605.00,69.34h-2.3M370.00,67.01h2.3M605.00,67.01h-2.3M370.00,64.96h2.3M605.00,64.96h-2.3M370.00,63.12h4.6M605.00,63.12h-4.6M370.00,51.05h2.3M605.00,51.05h-2.3M370.00,43.98h2.3M605.00,43.98h-2.3M370.00,38.97h2.3M605.00,38.97h-2.3M370.00,35.08h2.3M605.00,35.08h-2.3M370.00,31.90h2.3M605.00,31.90h-2.3M370.00,29.22h2.3M605.00,29.22h-2.3M370.00,26.89h2.3M605.00,26.89h-2.3M370.00,24.84h2.3M605.00,24.84h-2.3" stroke="#000" stroke-width="0.5" stroke-opacity="0.65" fill="none"/><rect x="55" y="238.5" width="235.5" height="160.0" fill="none" stroke="#000" stroke-width="0.55" stroke-opacity="0.75"/><path d="M90.45,398.50v-1.7M90.45,238.50v1.7M111.18,398.50v-1.7M111.18,238.50v1.7M125.89,398.50v-1.7M125.89,238.50v1.7M137.30,398.50v-1.7M137.30,238.50v1.7M146.63,398.50v-1.7M146.63,238.50v1.7M154.51,398.50v-1.7M154.51,238.50v1.7M161.34,398.50v-1.7M161.34,238.50v1.7M167.36,398.50v-1.7M167.36,238.50v1.7M172.75,398.50v-3.4M172.75,238.50v3.4M208.20,398.50v-1.7M208.20,238.50v1.7M228.93,398.50v-1.7M228.93,238.50v1.7M243.64,398.50v-1.7M243.64,238.50v1.7M255.05,398.50v-1.7M255.05,238.50v1.7M264.38,398.50v-1.7M264.38,238.50v1.7M272.26,398.50v-1.7M272.26,238.50v1.7M279.09,398.50v-1.7M279.09,238.50v1.7M285.11,398.50v-1.7M285.11,238.50v1.7M55.00,386.46h2.3M290.50,386.46h-2.3M55.00,379.42h2.3M290.50,379.42h-2.3M55.00,374.42h2.3M290.50,374.42h-2.3M55.00,370.54h2.3M290.50,370.54h-2.3M55.00,367.37h2.3M290.50,367.37h-2.3M55.00,364.70h2.3M290.50,364.70h-2.3M55.00,362.38h2.3M290.50,362.38h-2.3M55.00,360.33h2.3M290.50,360.33h-2.3M55.00,358.50h4.6M290.50,358.50h-4.6M55.00,346.46h2.3M290.50,346.46h-2.3M55.00,339.42h2.3M290.50,339.42h-2.3M55.00,334.42h2.3M290.50,334.42h-2.3M55.00,330.54h2.3M290.50,330.54h-2.3M55.00,327.37h2.3M290.50,327.37h-2.3M55.00,324.70h2.3M290.50,324.70h-2.3M55.00,322.38h2.3M290.50,322.38h-2.3M55.00,320.33h2.3M290.50,320.33h-2.3M55.00,318.50h4.6M290.50,318.50h-4.6M55.00,306.46h2.3M290.50,306.46h-2.3M55.00,299.42h2.3M290.50,299.42h-2.3M55.00,294.42h2.3M290.50,294.42h-2.3M55.00,290.54h2.3M290.50,290.54h-2.3M55.00,287.37h2.3M290.50,287.37h-2.3M55.00,284.70h2.3M290.50,284.70h-2.3M55.00,282.38h2.3M290.50,282.38h-2.3M55.00,280.33h2.3M290.50,280.33h-2.3M55.00,278.50h4.6M290.50,278.50h-4.6M55.00,266.46h2.3M290.50,266.46h-2.3M55.00,259.42h2.3M290.50,259.42h-2.3M55.00,254.42h2.3M290.50,254.42h-2.3M55.00,250.54h2.3M290.50,250.54h-2.3M55.00,247.37h2.3M290.50,247.37h-2.3M55.00,244.70h2.3M290.50,244.70h-2.3M55.00,242.38h2.3M290.50,242.38h-2.3M55.00,240.33h2.3M290.50,240.33h-2.3" stroke="#000" stroke-width="0.5" stroke-opacity="0.65" fill="none"/><rect x="370" y="238.5" width="235" height="160.0" fill="none" stroke="#000" stroke-width="0.55" stroke-opacity="0.75"/><path d="M405.37,398.50v-1.7M405.37,238.50v1.7M426.06,398.50v-1.7M426.06,238.50v1.7M440.74,398.50v-1.7M440.74,238.50v1.7M452.13,398.50v-1.7M452.13,238.50v1.7M461.43,398.50v-1.7M461.43,238.50v1.7M469.30,398.50v-1.7M469.30,238.50v1.7M476.11,398.50v-1.7M476.11,238.50v1.7M482.12,398.50v-1.7M482.12,238.50v1.7M487.50,398.50v-3.4M487.50,238.50v3.4M522.87,398.50v-1.7M522.87,238.50v1.7M543.56,398.50v-1.7M543.56,238.50v1.7M558.24,398.50v-1.7M558.24,238.50v1.7M569.63,398.50v-1.7M569.63,238.50v1.7M578.93,398.50v-1.7M578.93,238.50v1.7M586.80,398.50v-1.7M586.80,238.50v1.7M593.61,398.50v-1.7M593.61,238.50v1.7M599.62,398.50v-1.7M599.62,238.50v1.7M370.00,386.46h2.3M605.00,386.46h-2.3M370.00,379.42h2.3M605.00,379.42h-2.3M370.00,374.42h2.3M605.00,374.42h-2.3M370.00,370.54h2.3M605.00,370.54h-2.3M370.00,367.37h2.3M605.00,367.37h-2.3M370.00,364.70h2.3M605.00,364.70h-2.3M370.00,362.38h2.3M605.00,362.38h-2.3M370.00,360.33h2.3M605.00,360.33h-2.3M370.00,358.50h4.6M605.00,358.50h-4.6M370.00,346.46h2.3M605.00,346.46h-2.3M370.00,339.42h2.3M605.00,339.42h-2.3M370.00,334.42h2.3M605.00,334.42h-2.3M370.00,330.54h2.3M605.00,330.54h-2.3M370.00,327.37h2.3M605.00,327.37h-2.3M370.00,324.70h2.3M605.00,324.70h-2.3M370.00,322.38h2.3M605.00,322.38h-2.3M370.00,320.33h2.3M605.00,320.33h-2.3M370.00,318.50h4.6M605.00,318.50h-4.6M370.00,306.46h2.3M605.00,306.46h-2.3M370.00,299.42h2.3M605.00,299.42h-2.3M370.00,294.42h2.3M605.00,294.42h-2.3M370.00,290.54h2.3M605.00,290.54h-2.3M370.00,287.37h2.3M605.00,287.37h-2.3M370.00,284.70h2.3M605.00,284.70h-2.3M370.00,282.38h2.3M605.00,282.38h-2.3M370.00,280.33h2.3M605.00,280.33h-2.3M370.00,278.50h4.6M605.00,278.50h-4.6M370.00,266.46h2.3M605.00,266.46h-2.3M370.00,259.42h2.3M605.00,259.42h-2.3M370.00,254.42h2.3M605.00,254.42h-2.3M370.00,250.54h2.3M605.00,250.54h-2.3M370.00,247.37h2.3M605.00,247.37h-2.3M370.00,244.70h2.3M605.00,244.70h-2.3M370.00,242.38h2.3M605.00,242.38h-2.3M370.00,240.33h2.3M605.00,240.33h-2.3" stroke="#000" stroke-width="0.5" stroke-opacity="0.65" fill="none"/><g font-family="Liberation Serif, serif" fill="#000" stroke="#000" stroke-width="0.28"><text id="t0" x="172" y="18.6" font-size="14.5" text-anchor="middle">(a) ω/k<tspan dy="3.3" font-size="9.3">z</tspan><tspan dy="-3.3" font-size="0.1"> </tspan>c<tspan dy="3.3" font-size="9.3">A</tspan><tspan dy="-3.3" font-size="0.1"> </tspan>, T<tspan dy="3.3" font-size="9.3">i</tspan><tspan dy="-3.3" font-size="0.1"> </tspan>/T<tspan dy="3.3" font-size="9.3">e</tspan><tspan dy="-3.3" font-size="0.1"> </tspan>= 1.0</text><text id="t1" x="487" y="18.6" font-size="14.5" text-anchor="middle">(b) γ/ω, T<tspan dy="3.3" font-size="9.3">i</tspan><tspan dy="-3.3" font-size="0.1"> </tspan>/T<tspan dy="3.3" font-size="9.3">e</tspan><tspan dy="-3.3" font-size="0.1"> </tspan>= 1.0</text><text id="t2" x="172" y="233.4" font-size="14.5" text-anchor="middle">(c) k<tspan dy="3.3" font-size="7.5">⊥</tspan><tspan dy="-3.3" font-size="0.1"> </tspan>E<tspan dy="3.3" font-size="9.3">z</tspan><tspan dy="-3.3" font-size="0.1"> </tspan>/k<tspan dy="3.3" font-size="9.3">z</tspan><tspan dy="-3.3" font-size="0.1"> </tspan>E<tspan dy="3.3" font-size="9.3">x</tspan><tspan dy="-3.3" font-size="0.1"> </tspan>, T<tspan dy="3.3" font-size="9.3">i</tspan><tspan dy="-3.3" font-size="0.1"> </tspan>/T<tspan dy="3.3" font-size="9.3">e</tspan><tspan dy="-3.3" font-size="0.1"> </tspan>= 1.0</text><text id="t3" x="487" y="233.4" font-size="14.5" text-anchor="middle">(d) E<tspan dy="3.3" font-size="9.3">x</tspan><tspan dy="-3.3" font-size="0.1"> </tspan>/c<tspan dy="3.3" font-size="9.3">A</tspan><tspan dy="-3.3" font-size="0.1"> </tspan>B<tspan dy="3.3" font-size="9.3">y</tspan><tspan dy="-3.3" font-size="0.1"> </tspan>, T<tspan dy="3.3" font-size="9.3">i</tspan><tspan dy="-3.3" font-size="0.1"> </tspan>/T<tspan dy="3.3" font-size="9.3">e</tspan><tspan dy="-3.3" font-size="0.1"> </tspan>= 1.0</text><text x="52.0" y="183.4" font-size="11.3" text-anchor="end">0.01</text><text x="52.0" y="146.9" font-size="11.3" text-anchor="end">0.10</text><text x="52.0" y="106.8" font-size="11.3" text-anchor="end">1.00</text><text x="52.0" y="66.6" font-size="11.3" text-anchor="end">10.00</text><text x="52.0" y="29.5" font-size="11.3" text-anchor="end">100.00</text><text x="55.0" y="196.8" font-size="11" text-anchor="middle">0.1</text><text x="172.8" y="196.8" font-size="11" text-anchor="middle">1.0</text><text x="290.5" y="196.8" font-size="11" text-anchor="middle">10.0</text><text x="173.1" y="208.5" font-size="11" text-anchor="middle">k<tspan dy="2.5" font-size="6">⊥</tspan><tspan dy="-2.5" font-size="0.1"> </tspan>c/ω<tspan dy="2.5" font-size="7.5">p</tspan><tspan dy="-2.5" font-size="0.1"> </tspan></text><text x="11.5" y="102.8" font-size="11" text-anchor="middle" transform="rotate(-90 11.5 102.8)">v<tspan dy="2.5" font-size="7.5">e</tspan><tspan dy="-7" font-size="7.5">2</tspan><tspan dy="4.5" font-size="0.1"> </tspan>/V<tspan dy="2.5" font-size="7.5">A</tspan><tspan dy="-7" font-size="7.5">2</tspan><tspan dy="4.5" font-size="0.1"> </tspan></text><text x="367.0" y="183.4" font-size="11.3" text-anchor="end">0.01</text><text x="367.0" y="146.9" font-size="11.3" text-anchor="end">0.10</text><text x="367.0" y="106.8" font-size="11.3" text-anchor="end">1.00</text><text x="367.0" y="66.6" font-size="11.3" text-anchor="end">10.00</text><text x="367.0" y="29.5" font-size="11.3" text-anchor="end">100.00</text><text x="370.0" y="196.8" font-size="11" text-anchor="middle">0.1</text><text x="487.5" y="196.8" font-size="11" text-anchor="middle">1.0</text><text x="605.0" y="196.8" font-size="11" text-anchor="middle">10.0</text><text x="487.8" y="208.5" font-size="11" text-anchor="middle">k<tspan dy="2.5" font-size="6">⊥</tspan><tspan dy="-2.5" font-size="0.1"> </tspan>c/ω<tspan dy="2.5" font-size="7.5">p</tspan><tspan dy="-2.5" font-size="0.1"> </tspan></text><text x="326.5" y="102.8" font-size="11" text-anchor="middle" transform="rotate(-90 326.5 102.8)">v<tspan dy="2.5" font-size="7.5">e</tspan><tspan dy="-7" font-size="7.5">2</tspan><tspan dy="4.5" font-size="0.1"> </tspan>/V<tspan dy="2.5" font-size="7.5">A</tspan><tspan dy="-7" font-size="7.5">2</tspan><tspan dy="4.5" font-size="0.1"> </tspan></text><text x="52.0" y="398.4" font-size="11.3" text-anchor="end">0.01</text><text x="52.0" y="362.0" font-size="11.3" text-anchor="end">0.10</text><text x="52.0" y="322.0" font-size="11.3" text-anchor="end">1.00</text><text x="52.0" y="282.0" font-size="11.3" text-anchor="end">10.00</text><text x="52.0" y="245.0" font-size="11.3" text-anchor="end">100.00</text><text x="55.0" y="411.8" font-size="11" text-anchor="middle">0.1</text><text x="172.8" y="411.8" font-size="11" text-anchor="middle">1.0</text><text x="290.5" y="411.8" font-size="11" text-anchor="middle">10.0</text><text x="173.1" y="423.5" font-size="11" text-anchor="middle">k<tspan dy="2.5" font-size="6">⊥</tspan><tspan dy="-2.5" font-size="0.1"> </tspan>c/ω<tspan dy="2.5" font-size="7.5">p</tspan><tspan dy="-2.5" font-size="0.1"> </tspan></text><text x="11.5" y="318.0" font-size="11" text-anchor="middle" transform="rotate(-90 11.5 318.0)">v<tspan dy="2.5" font-size="7.5">e</tspan><tspan dy="-7" font-size="7.5">2</tspan><tspan dy="4.5" font-size="0.1"> </tspan>/V<tspan dy="2.5" font-size="7.5">A</tspan><tspan dy="-7" font-size="7.5">2</tspan><tspan dy="4.5" font-size="0.1"> </tspan></text><text x="367.0" y="398.4" font-size="11.3" text-anchor="end">0.01</text><text x="367.0" y="362.0" font-size="11.3" text-anchor="end">0.10</text><text x="367.0" y="322.0" font-size="11.3" text-anchor="end">1.00</text><text x="367.0" y="282.0" font-size="11.3" text-anchor="end">10.00</text><text x="367.0" y="245.0" font-size="11.3" text-anchor="end">100.00</text><text x="370.0" y="411.8" font-size="11" text-anchor="middle">0.1</text><text x="487.5" y="411.8" font-size="11" text-anchor="middle">1.0</text><text x="605.0" y="411.8" font-size="11" text-anchor="middle">10.0</text><text x="487.8" y="423.5" font-size="11" text-anchor="middle">k<tspan dy="2.5" font-size="6">⊥</tspan><tspan dy="-2.5" font-size="0.1"> </tspan>c/ω<tspan dy="2.5" font-size="7.5">p</tspan><tspan dy="-2.5" font-size="0.1"> </tspan></text><text x="326.5" y="318.0" font-size="11" text-anchor="middle" transform="rotate(-90 326.5 318.0)">v<tspan dy="2.5" font-size="7.5">e</tspan><tspan dy="-7" font-size="7.5">2</tspan><tspan dy="4.5" font-size="0.1"> </tspan>/V<tspan dy="2.5" font-size="7.5">A</tspan><tspan dy="-7" font-size="7.5">2</tspan><tspan dy="4.5" font-size="0.1"> </tspan></text></g><g font-family="Liberation Sans, sans-serif" font-size="20" fill="#000" stroke="#000" stroke-width="0.18"><text x="625.5" y="15.8">β=</text><text x="607.2" y="60.9">--</text><text x="640.2" y="60.9">.01</text><text x="607.2" y="101.5">--</text><text x="640.2" y="101.5">.001</text><text x="607.2" y="142.6">--</text><text x="640.2" y="142.6">.0001</text></g></svg></body></html>
